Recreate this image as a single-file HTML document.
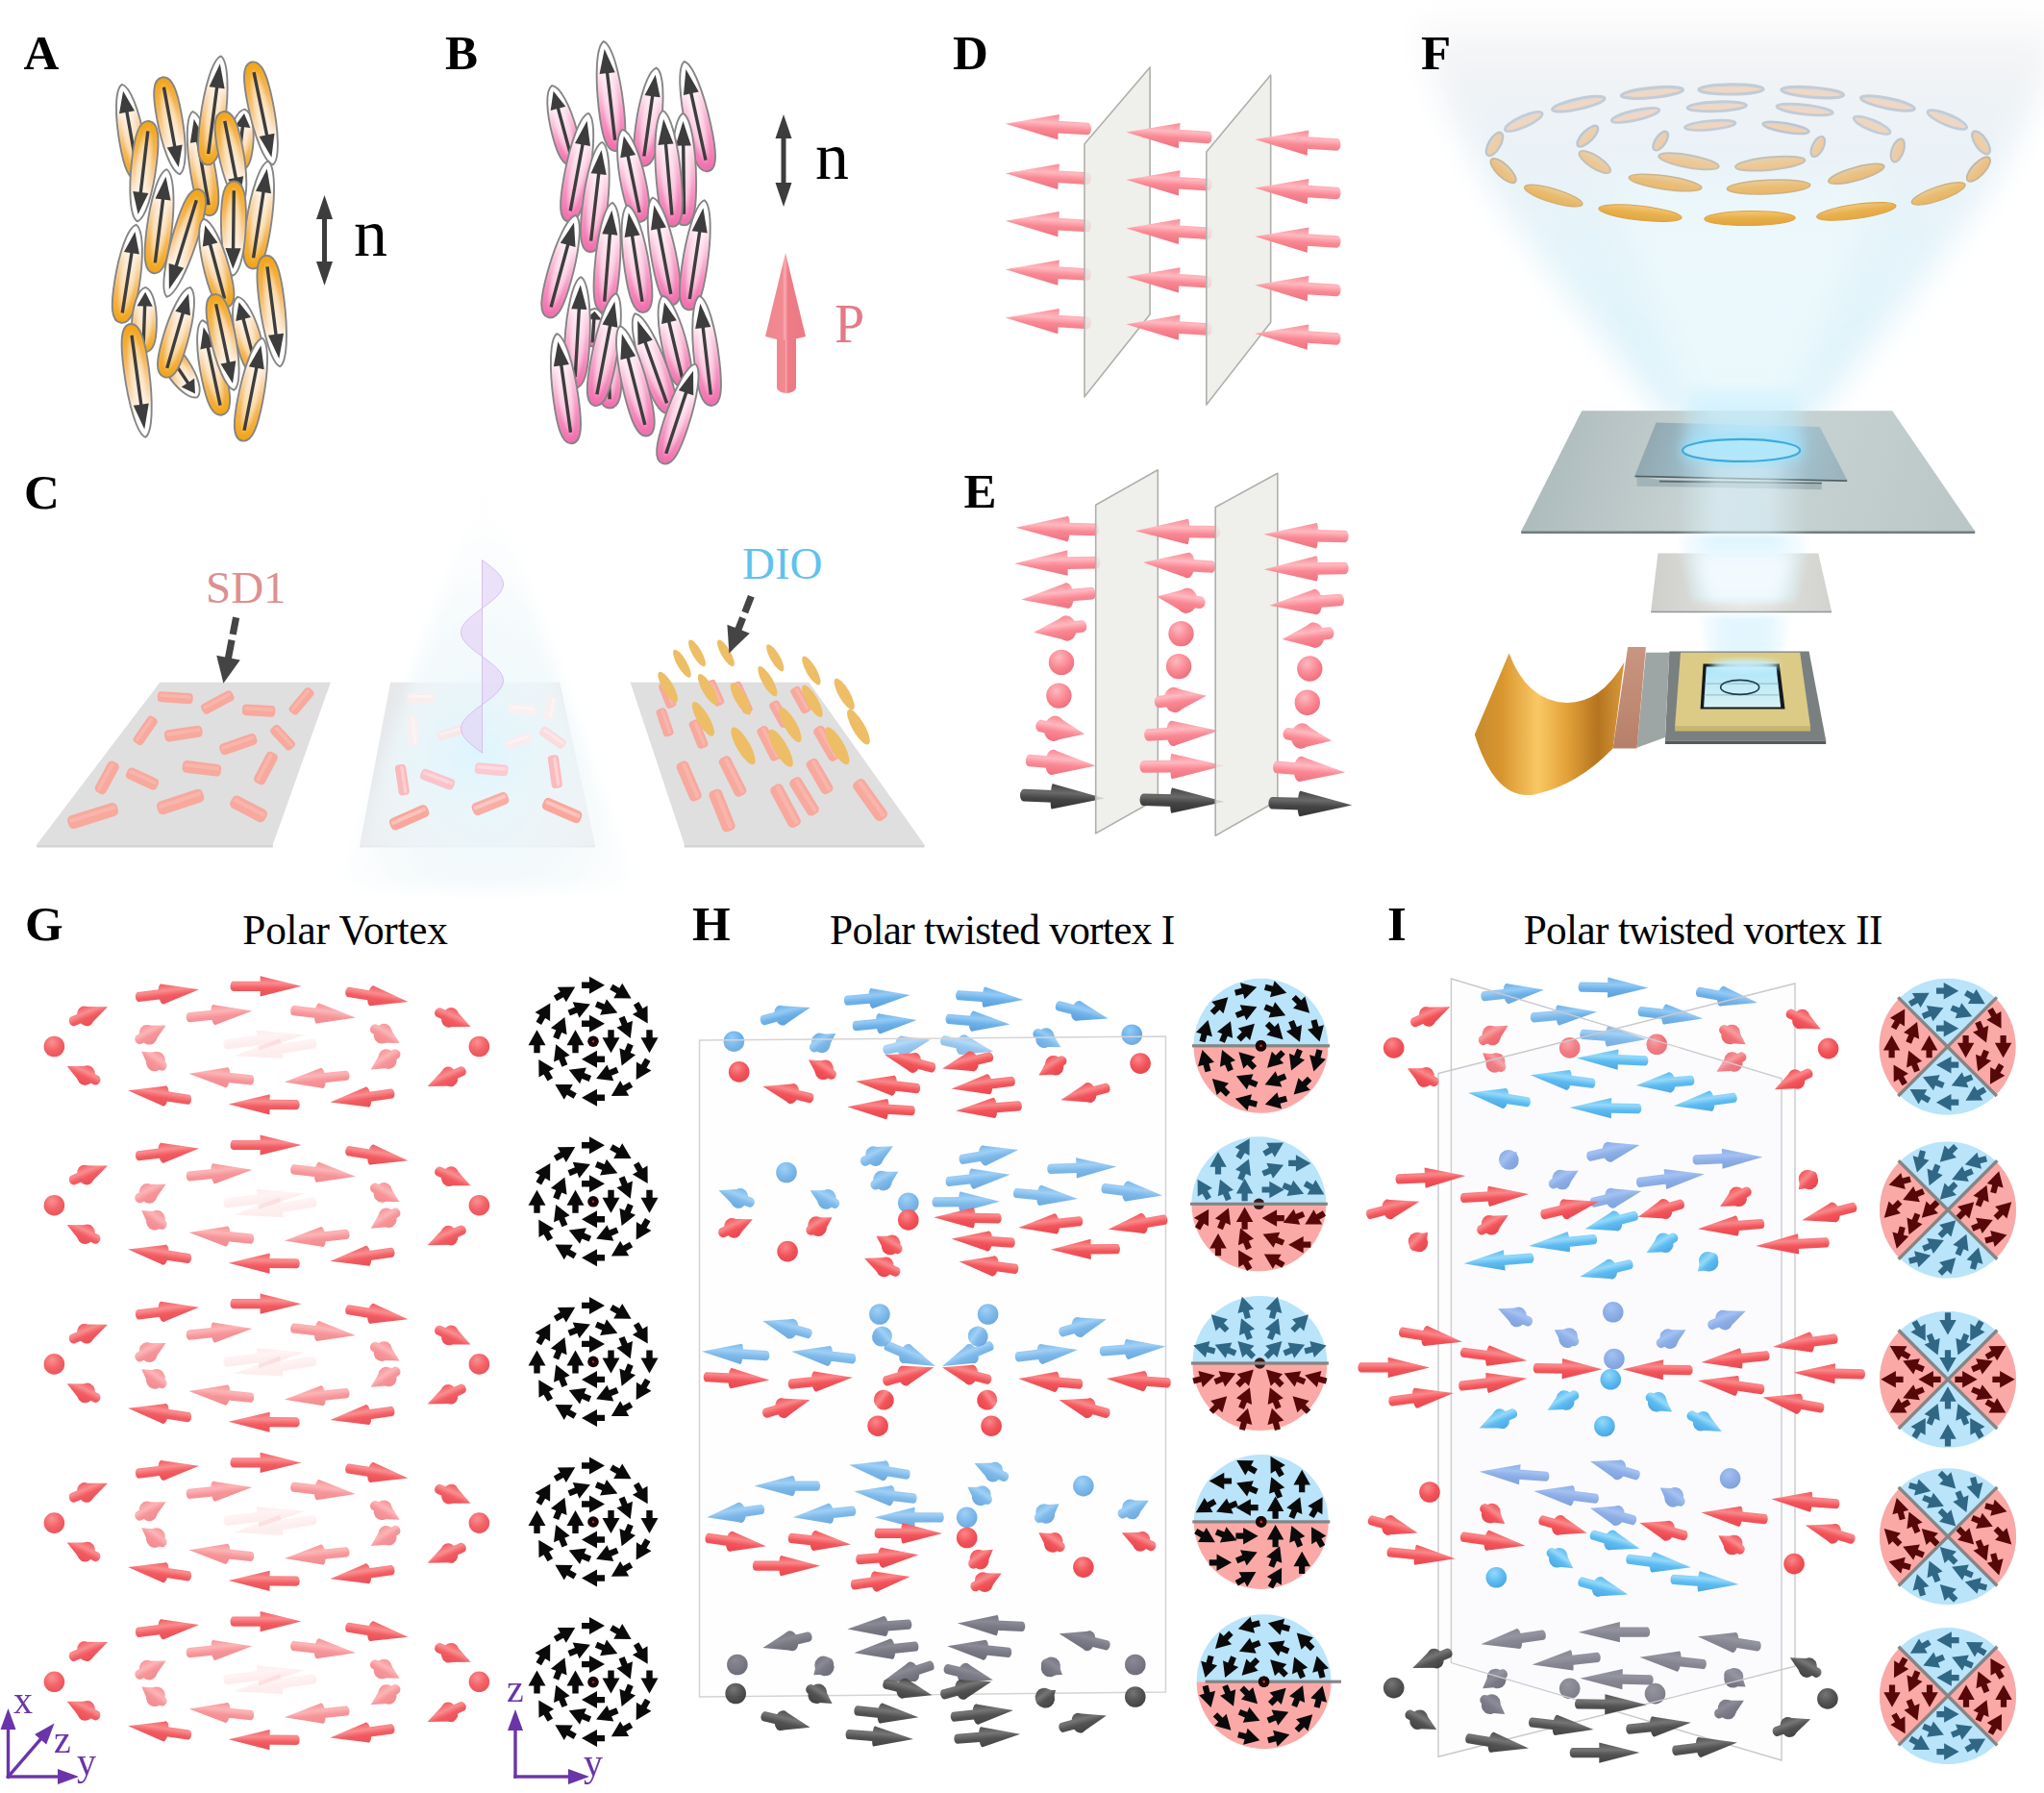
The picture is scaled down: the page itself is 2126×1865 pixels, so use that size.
<!DOCTYPE html><html><head><meta charset="utf-8"><title>Figure</title><style>html,body{margin:0;padding:0;background:#fff}svg{display:block}text{font-family:"Liberation Serif",serif}</style></head><body><svg width="2126" height="1865" viewBox="0 0 2126 1865"><defs><filter id="bl18" x="-20%" y="-20%" width="140%" height="140%"><feGaussianBlur stdDeviation="16"/></filter><filter id="bl8" x="-20%" y="-20%" width="140%" height="140%"><feGaussianBlur stdDeviation="8"/></filter><filter id="bl3" x="-20%" y="-20%" width="140%" height="140%"><feGaussianBlur stdDeviation="3"/></filter><linearGradient id="g1" gradientUnits="userSpaceOnUse" x1="0" y1="0" x2="0" y2="440"><stop offset="0" stop-color="#F3F4F6" stop-opacity="0"/><stop offset="0.14" stop-color="#F0F1F4" stop-opacity="0.85"/><stop offset="0.35" stop-color="#EAF2F7" stop-opacity="1"/><stop offset="0.6" stop-color="#E4F4FA" stop-opacity="1"/><stop offset="1" stop-color="#DDF3FB" stop-opacity="1"/></linearGradient><linearGradient id="g2" gradientUnits="userSpaceOnUse" x1="0" y1="100" x2="0" y2="440"><stop offset="0" stop-color="#EEF9FD" stop-opacity="0"/><stop offset="0.4" stop-color="#EEF9FD" stop-opacity="0.75"/><stop offset="1" stop-color="#ECF9FD" stop-opacity="0.95"/></linearGradient><linearGradient id="g3" gradientUnits="userSpaceOnUse" x1="0" y1="-6.1" x2="0" y2="6.1"><stop offset="0" stop-color="#F3C9A8"/><stop offset="0.5" stop-color="#F3CDB0"/><stop offset="1" stop-color="#C9D0DA"/></linearGradient><linearGradient id="g4" gradientUnits="userSpaceOnUse" x1="0" y1="-6.1" x2="0" y2="6.1"><stop offset="0" stop-color="#F3C9A8"/><stop offset="0.5" stop-color="#F3CDB0"/><stop offset="1" stop-color="#C9D0DA"/></linearGradient><linearGradient id="g5" gradientUnits="userSpaceOnUse" x1="0" y1="-6.1" x2="0" y2="6.1"><stop offset="0" stop-color="#F3C9A8"/><stop offset="0.5" stop-color="#F3CDB0"/><stop offset="1" stop-color="#C9D0DA"/></linearGradient><linearGradient id="g6" gradientUnits="userSpaceOnUse" x1="0" y1="-6.3" x2="0" y2="6.3"><stop offset="0" stop-color="#F3C9A8"/><stop offset="0.5" stop-color="#F3CDB0"/><stop offset="1" stop-color="#C9D0DA"/></linearGradient><linearGradient id="g7" gradientUnits="userSpaceOnUse" x1="0" y1="-6.3" x2="0" y2="6.3"><stop offset="0" stop-color="#F3C9A8"/><stop offset="0.5" stop-color="#F3CDB0"/><stop offset="1" stop-color="#C9D0DA"/></linearGradient><linearGradient id="g8" gradientUnits="userSpaceOnUse" x1="0" y1="-6.6" x2="0" y2="6.6"><stop offset="0" stop-color="#F3C9A8"/><stop offset="0.5" stop-color="#F3CCAC"/><stop offset="1" stop-color="#C9D0DA"/></linearGradient><linearGradient id="g9" gradientUnits="userSpaceOnUse" x1="0" y1="-6.7" x2="0" y2="6.7"><stop offset="0" stop-color="#F3C8A6"/><stop offset="0.5" stop-color="#F2CBAA"/><stop offset="1" stop-color="#CAD0D9"/></linearGradient><linearGradient id="g10" gradientUnits="userSpaceOnUse" x1="0" y1="-7.1" x2="0" y2="7.1"><stop offset="0" stop-color="#D3CFC6"/><stop offset="0.5" stop-color="#F0C595"/><stop offset="1" stop-color="#EEC18F"/></linearGradient><linearGradient id="g11" gradientUnits="userSpaceOnUse" x1="0" y1="-7.1" x2="0" y2="7.1"><stop offset="0" stop-color="#EEC08D"/><stop offset="0.5" stop-color="#F0C593"/><stop offset="1" stop-color="#D3CFC4"/></linearGradient><linearGradient id="g12" gradientUnits="userSpaceOnUse" x1="0" y1="-7.6" x2="0" y2="7.6"><stop offset="0" stop-color="#E9B772"/><stop offset="0.5" stop-color="#EDBD79"/><stop offset="1" stop-color="#DECEAD"/></linearGradient><linearGradient id="g13" gradientUnits="userSpaceOnUse" x1="0" y1="-7.6" x2="0" y2="7.6"><stop offset="0" stop-color="#E9B670"/><stop offset="0.5" stop-color="#EDBD77"/><stop offset="1" stop-color="#DECEAC"/></linearGradient><linearGradient id="g14" gradientUnits="userSpaceOnUse" x1="0" y1="-8.1" x2="0" y2="8.1"><stop offset="0" stop-color="#E4AE56"/><stop offset="0.5" stop-color="#EBB660"/><stop offset="1" stop-color="#E8CD97"/></linearGradient><linearGradient id="g15" gradientUnits="userSpaceOnUse" x1="0" y1="-8.1" x2="0" y2="8.1"><stop offset="0" stop-color="#E4AD54"/><stop offset="0.5" stop-color="#EAB55D"/><stop offset="1" stop-color="#E9CD95"/></linearGradient><linearGradient id="g16" gradientUnits="userSpaceOnUse" x1="0" y1="-8.4" x2="0" y2="8.4"><stop offset="0" stop-color="#E1A743"/><stop offset="0.5" stop-color="#E9B04D"/><stop offset="1" stop-color="#F0CC87"/></linearGradient><linearGradient id="g17" gradientUnits="userSpaceOnUse" x1="0" y1="-8.4" x2="0" y2="8.4"><stop offset="0" stop-color="#E0A641"/><stop offset="0.5" stop-color="#E9B04B"/><stop offset="1" stop-color="#F0CC86"/></linearGradient><linearGradient id="g18" gradientUnits="userSpaceOnUse" x1="0" y1="-8.5" x2="0" y2="8.5"><stop offset="0" stop-color="#DFA43B"/><stop offset="0.5" stop-color="#E8AE46"/><stop offset="1" stop-color="#F3CC81"/></linearGradient><linearGradient id="g19" gradientUnits="userSpaceOnUse" x1="0" y1="-5.8" x2="0" y2="5.8"><stop offset="0" stop-color="#F3C9A8"/><stop offset="0.5" stop-color="#F3CDB0"/><stop offset="1" stop-color="#C9D0DA"/></linearGradient><linearGradient id="g20" gradientUnits="userSpaceOnUse" x1="0" y1="-5.9" x2="0" y2="5.9"><stop offset="0" stop-color="#F3C9A8"/><stop offset="0.5" stop-color="#F3CDB0"/><stop offset="1" stop-color="#C9D0DA"/></linearGradient><linearGradient id="g21" gradientUnits="userSpaceOnUse" x1="0" y1="-6.1" x2="0" y2="6.1"><stop offset="0" stop-color="#F3C9A8"/><stop offset="0.5" stop-color="#F3CDB0"/><stop offset="1" stop-color="#C9D0DA"/></linearGradient><linearGradient id="g22" gradientUnits="userSpaceOnUse" x1="0" y1="-6.4" x2="0" y2="6.4"><stop offset="0" stop-color="#F2C7A2"/><stop offset="0.5" stop-color="#F2CAA6"/><stop offset="1" stop-color="#CBD0D5"/></linearGradient><linearGradient id="g23" gradientUnits="userSpaceOnUse" x1="0" y1="-6.7" x2="0" y2="6.7"><stop offset="0" stop-color="#F0C396"/><stop offset="0.5" stop-color="#F1C79B"/><stop offset="1" stop-color="#D0CFCB"/></linearGradient><linearGradient id="g24" gradientUnits="userSpaceOnUse" x1="0" y1="-7.1" x2="0" y2="7.1"><stop offset="0" stop-color="#EDBE86"/><stop offset="0.5" stop-color="#EFC38C"/><stop offset="1" stop-color="#D6CFBF"/></linearGradient><linearGradient id="g25" gradientUnits="userSpaceOnUse" x1="0" y1="-7.4" x2="0" y2="7.4"><stop offset="0" stop-color="#EBB97A"/><stop offset="0.5" stop-color="#EEBF80"/><stop offset="1" stop-color="#DBCEB4"/></linearGradient><linearGradient id="g26" gradientUnits="userSpaceOnUse" x1="0" y1="-7.8" x2="0" y2="7.8"><stop offset="0" stop-color="#E8B56C"/><stop offset="0.5" stop-color="#EDBC74"/><stop offset="1" stop-color="#E0CEA9"/></linearGradient><linearGradient id="g27" gradientUnits="userSpaceOnUse" x1="0" y1="-8" x2="0" y2="8"><stop offset="0" stop-color="#E6B263"/><stop offset="0.5" stop-color="#ECB96B"/><stop offset="1" stop-color="#E4CDA1"/></linearGradient><linearGradient id="g28" gradientUnits="userSpaceOnUse" x1="0" y1="-8.2" x2="0" y2="8.2"><stop offset="0" stop-color="#E5B05E"/><stop offset="0.5" stop-color="#EBB866"/><stop offset="1" stop-color="#E5CD9D"/></linearGradient><linearGradient id="g29" gradientUnits="userSpaceOnUse" x1="0" y1="-5.6" x2="0" y2="5.6"><stop offset="0" stop-color="#F2C7A2"/><stop offset="0.5" stop-color="#F2CAA6"/><stop offset="1" stop-color="#CBD0D5"/></linearGradient><linearGradient id="g30" gradientUnits="userSpaceOnUse" x1="0" y1="-5.7" x2="0" y2="5.7"><stop offset="0" stop-color="#F1C69F"/><stop offset="0.5" stop-color="#F2C9A4"/><stop offset="1" stop-color="#CCD0D3"/></linearGradient><linearGradient id="g31" gradientUnits="userSpaceOnUse" x1="0" y1="-6.4" x2="0" y2="6.4"><stop offset="0" stop-color="#EFC191"/><stop offset="0.5" stop-color="#F0C696"/><stop offset="1" stop-color="#D2CFC7"/></linearGradient><linearGradient id="g32" gradientUnits="userSpaceOnUse" x1="0" y1="-6.7" x2="0" y2="6.7"><stop offset="0" stop-color="#EEBF8B"/><stop offset="0.5" stop-color="#F0C490"/><stop offset="1" stop-color="#D4CFC2"/></linearGradient><linearGradient id="g33" gradientUnits="userSpaceOnUse" x1="0" y1="-7.5" x2="0" y2="7.5"><stop offset="0" stop-color="#EBBA7A"/><stop offset="0.5" stop-color="#EEBF81"/><stop offset="1" stop-color="#DACEB5"/></linearGradient><linearGradient id="g34" gradientUnits="userSpaceOnUse" x1="0" y1="-7.6" x2="0" y2="7.6"><stop offset="0" stop-color="#EAB978"/><stop offset="0.5" stop-color="#EEBF7F"/><stop offset="1" stop-color="#DBCEB3"/></linearGradient><linearGradient id="g35" gradientUnits="userSpaceOnUse" x1="1583" y1="427" x2="2054" y2="553"><stop offset="0" stop-color="#A9B7B8"/><stop offset="0.45" stop-color="#CBD5D5"/><stop offset="1" stop-color="#BAC6C6"/></linearGradient><linearGradient id="g36" gradientUnits="userSpaceOnUse" x1="1720" y1="440" x2="1920" y2="500"><stop offset="0" stop-color="#93A9B1"/><stop offset="0.5" stop-color="#A6CFE0"/><stop offset="1" stop-color="#9DB2B9"/></linearGradient><linearGradient id="g37" gradientUnits="userSpaceOnUse" x1="1745" y1="0" x2="1880" y2="0"><stop offset="0" stop-color="#D5F3FF" stop-opacity="0"/><stop offset="0.3" stop-color="#DDF5FF" stop-opacity="0.55"/><stop offset="0.7" stop-color="#DDF5FF" stop-opacity="0.55"/><stop offset="1" stop-color="#D5F3FF" stop-opacity="0"/></linearGradient><linearGradient id="g38" gradientUnits="userSpaceOnUse" x1="0" y1="395" x2="0" y2="472"><stop offset="0" stop-color="#B4EAFF" stop-opacity="0"/><stop offset="0.6" stop-color="#B0E8FF" stop-opacity="0.45"/><stop offset="1" stop-color="#96E0FF" stop-opacity="0.85"/></linearGradient><linearGradient id="g39" gradientUnits="userSpaceOnUse" x1="1720" y1="0" x2="1905" y2="0"><stop offset="0" stop-color="#CFCFCB"/><stop offset="0.5" stop-color="#E4E4E0"/><stop offset="1" stop-color="#D2D2CE"/></linearGradient><linearGradient id="g40" gradientUnits="userSpaceOnUse" x1="1742" y1="0" x2="1885" y2="0"><stop offset="0" stop-color="#D8F3FD" stop-opacity="0"/><stop offset="0.3" stop-color="#DDF5FE" stop-opacity="0.95"/><stop offset="0.7" stop-color="#DDF5FE" stop-opacity="0.95"/><stop offset="1" stop-color="#D8F3FD" stop-opacity="0"/></linearGradient><linearGradient id="g41" gradientUnits="userSpaceOnUse" x1="1765" y1="0" x2="1865" y2="0"><stop offset="0" stop-color="#D8F3FD" stop-opacity="0"/><stop offset="0.3" stop-color="#E2F6FE" stop-opacity="0.95"/><stop offset="0.7" stop-color="#E2F6FE" stop-opacity="0.95"/><stop offset="1" stop-color="#D8F3FD" stop-opacity="0"/></linearGradient><linearGradient id="g42" gradientUnits="userSpaceOnUse" x1="0" y1="694" x2="0" y2="737"><stop offset="0" stop-color="#AEE6FA"/><stop offset="1" stop-color="#D9F2F6"/></linearGradient><linearGradient id="g43" gradientUnits="userSpaceOnUse" x1="0" y1="673" x2="0" y2="780"><stop offset="0" stop-color="#C99681"/><stop offset="1" stop-color="#B77F6A"/></linearGradient><linearGradient id="g44" gradientUnits="userSpaceOnUse" x1="1534" y1="0" x2="1690" y2="0"><stop offset="0" stop-color="#C68A2C"/><stop offset="0.18" stop-color="#D9962F"/><stop offset="0.42" stop-color="#F9C864"/><stop offset="0.62" stop-color="#E2A038"/><stop offset="0.82" stop-color="#B5741F"/><stop offset="1" stop-color="#D99A3C"/></linearGradient><radialGradient id="mg_in"><stop offset="0" stop-color="#fff" stop-opacity="0.6"/><stop offset="0.6" stop-color="#fff" stop-opacity="0.45"/><stop offset="1" stop-color="#fff" stop-opacity="0"/></radialGradient><linearGradient id="mg_o" gradientUnits="objectBoundingBox" x1="0" y1="0" x2="1" y2="0"><stop offset="0" stop-color="#F2A414"/><stop offset="0.3" stop-color="#F5B655"/><stop offset="0.62" stop-color="#FADCB8"/><stop offset="0.8" stop-color="#fff"/><stop offset="1" stop-color="#fff"/></linearGradient><linearGradient id="mg_p" gradientUnits="objectBoundingBox" x1="0" y1="0" x2="1" y2="0"><stop offset="0" stop-color="#F06CAC"/><stop offset="0.3" stop-color="#F694C2"/><stop offset="0.62" stop-color="#FCD2E4"/><stop offset="0.8" stop-color="#fff"/><stop offset="1" stop-color="#fff"/></linearGradient><linearGradient id="pg1" x1="0" y1="0" x2="1" y2="0"><stop offset="0" stop-color="#F0868E"/><stop offset="0.42" stop-color="#F28A92"/><stop offset="0.49" stop-color="#F9AAB0"/><stop offset="0.56" stop-color="#EE7C86"/><stop offset="1" stop-color="#EC7A84"/></linearGradient><radialGradient id="g45" gradientUnits="objectBoundingBox" cx="0.5" cy="0.7" r="0.6" ><stop offset="0" stop-color="#E8F8FD" stop-opacity="0.95"/><stop offset="0.55" stop-color="#F0F8FB" stop-opacity="0.7"/><stop offset="1" stop-color="#F6F9FA" stop-opacity="0.1"/></radialGradient><radialGradient id="g46" gradientUnits="objectBoundingBox" cx="0.5" cy="0.5" r="0.5" ><stop offset="0" stop-color="#DDF4FD" stop-opacity="0.9"/><stop offset="1" stop-color="#E8F6FB" stop-opacity="0"/></radialGradient><linearGradient id="ag_pink_132f" gradientUnits="userSpaceOnUse" x1="0" y1="13.2" x2="0" y2="-13.2"><stop offset="0" stop-color="#F98893"/><stop offset="0.35" stop-color="#FFB9C0"/><stop offset="0.6" stop-color="#F98893"/><stop offset="1" stop-color="#F0707E"/></linearGradient><radialGradient id="bg_pink" gradientUnits="objectBoundingBox" cx="0.4" cy="0.3" r="0.7" ><stop offset="0" stop-color="#FFB9C0"/><stop offset="0.6" stop-color="#F98893"/><stop offset="1" stop-color="#F0707E"/></radialGradient><linearGradient id="ag_pink_132" gradientUnits="userSpaceOnUse" x1="0" y1="-13.2" x2="0" y2="13.2"><stop offset="0" stop-color="#F98893"/><stop offset="0.35" stop-color="#FFB9C0"/><stop offset="0.6" stop-color="#F98893"/><stop offset="1" stop-color="#F0707E"/></linearGradient><linearGradient id="ag_dark_132" gradientUnits="userSpaceOnUse" x1="0" y1="-13.2" x2="0" y2="13.2"><stop offset="0" stop-color="#444444"/><stop offset="0.35" stop-color="#6A6A6A"/><stop offset="0.6" stop-color="#444444"/><stop offset="1" stop-color="#333333"/></linearGradient><path id="ba" d="M-12 -3.2H-4V-9L12 0L-4 9V3.2H-12Z"/><filter id="soft" x="-5%" y="-5%" width="110%" height="110%"><feGaussianBlur stdDeviation="0.7"/></filter><linearGradient id="ag_red_106" gradientUnits="userSpaceOnUse" x1="0" y1="-10.6" x2="0" y2="10.6"><stop offset="0" stop-color="#F2545A"/><stop offset="0.35" stop-color="#F9888A"/><stop offset="0.6" stop-color="#F2545A"/><stop offset="1" stop-color="#EA464E"/></linearGradient><linearGradient id="ag_red_106f" gradientUnits="userSpaceOnUse" x1="0" y1="10.6" x2="0" y2="-10.6"><stop offset="0" stop-color="#F2545A"/><stop offset="0.35" stop-color="#F9888A"/><stop offset="0.6" stop-color="#F2545A"/><stop offset="1" stop-color="#EA464E"/></linearGradient><radialGradient id="bg_red" gradientUnits="objectBoundingBox" cx="0.4" cy="0.3" r="0.7" ><stop offset="0" stop-color="#F9888A"/><stop offset="0.6" stop-color="#F2545A"/><stop offset="1" stop-color="#EA464E"/></radialGradient><linearGradient id="ag_blue_106" gradientUnits="userSpaceOnUse" x1="0" y1="-10.6" x2="0" y2="10.6"><stop offset="0" stop-color="#58A6E6"/><stop offset="0.35" stop-color="#86C4F4"/><stop offset="0.6" stop-color="#58A6E6"/><stop offset="1" stop-color="#4892D6"/></linearGradient><radialGradient id="bg_blue" gradientUnits="objectBoundingBox" cx="0.4" cy="0.3" r="0.7" ><stop offset="0" stop-color="#86C4F4"/><stop offset="0.6" stop-color="#58A6E6"/><stop offset="1" stop-color="#4892D6"/></radialGradient><linearGradient id="ag_blue_106f" gradientUnits="userSpaceOnUse" x1="0" y1="10.6" x2="0" y2="-10.6"><stop offset="0" stop-color="#58A6E6"/><stop offset="0.35" stop-color="#86C4F4"/><stop offset="0.6" stop-color="#58A6E6"/><stop offset="1" stop-color="#4892D6"/></linearGradient><linearGradient id="ag_gray_106f" gradientUnits="userSpaceOnUse" x1="0" y1="10.6" x2="0" y2="-10.6"><stop offset="0" stop-color="#60606E"/><stop offset="0.35" stop-color="#747482"/><stop offset="0.6" stop-color="#60606E"/><stop offset="1" stop-color="#525262"/></linearGradient><linearGradient id="ag_gray_106" gradientUnits="userSpaceOnUse" x1="0" y1="-10.6" x2="0" y2="10.6"><stop offset="0" stop-color="#60606E"/><stop offset="0.35" stop-color="#747482"/><stop offset="0.6" stop-color="#60606E"/><stop offset="1" stop-color="#525262"/></linearGradient><radialGradient id="bg_gray" gradientUnits="objectBoundingBox" cx="0.4" cy="0.3" r="0.7" ><stop offset="0" stop-color="#747482"/><stop offset="0.6" stop-color="#60606E"/><stop offset="1" stop-color="#525262"/></radialGradient><linearGradient id="ag_dark_106" gradientUnits="userSpaceOnUse" x1="0" y1="-10.6" x2="0" y2="10.6"><stop offset="0" stop-color="#444444"/><stop offset="0.35" stop-color="#6A6A6A"/><stop offset="0.6" stop-color="#444444"/><stop offset="1" stop-color="#333333"/></linearGradient><radialGradient id="bg_dark" gradientUnits="objectBoundingBox" cx="0.4" cy="0.3" r="0.7" ><stop offset="0" stop-color="#6A6A6A"/><stop offset="0.6" stop-color="#444444"/><stop offset="1" stop-color="#333333"/></radialGradient><linearGradient id="ag_fblue_106" gradientUnits="userSpaceOnUse" x1="0" y1="-10.6" x2="0" y2="10.6"><stop offset="0" stop-color="#6896E0"/><stop offset="0.35" stop-color="#88B0F0"/><stop offset="0.6" stop-color="#6896E0"/><stop offset="1" stop-color="#5886D4"/></linearGradient><linearGradient id="ag_fblue_106f" gradientUnits="userSpaceOnUse" x1="0" y1="10.6" x2="0" y2="-10.6"><stop offset="0" stop-color="#6896E0"/><stop offset="0.35" stop-color="#88B0F0"/><stop offset="0.6" stop-color="#6896E0"/><stop offset="1" stop-color="#5886D4"/></linearGradient><radialGradient id="bg_fblue" gradientUnits="objectBoundingBox" cx="0.4" cy="0.3" r="0.7" ><stop offset="0" stop-color="#88B0F0"/><stop offset="0.6" stop-color="#6896E0"/><stop offset="1" stop-color="#5886D4"/></radialGradient><linearGradient id="ag_cyan_106f" gradientUnits="userSpaceOnUse" x1="0" y1="10.6" x2="0" y2="-10.6"><stop offset="0" stop-color="#4FB6F0"/><stop offset="0.35" stop-color="#8CD6FA"/><stop offset="0.6" stop-color="#4FB6F0"/><stop offset="1" stop-color="#3FA0E0"/></linearGradient><linearGradient id="ag_cyan_106" gradientUnits="userSpaceOnUse" x1="0" y1="-10.6" x2="0" y2="10.6"><stop offset="0" stop-color="#4FB6F0"/><stop offset="0.35" stop-color="#8CD6FA"/><stop offset="0.6" stop-color="#4FB6F0"/><stop offset="1" stop-color="#3FA0E0"/></linearGradient><radialGradient id="bg_cyan" gradientUnits="objectBoundingBox" cx="0.4" cy="0.3" r="0.7" ><stop offset="0" stop-color="#8CD6FA"/><stop offset="0.6" stop-color="#4FB6F0"/><stop offset="1" stop-color="#3FA0E0"/></radialGradient><linearGradient id="ag_dark_106f" gradientUnits="userSpaceOnUse" x1="0" y1="10.6" x2="0" y2="-10.6"><stop offset="0" stop-color="#444444"/><stop offset="0.35" stop-color="#6A6A6A"/><stop offset="0.6" stop-color="#444444"/><stop offset="1" stop-color="#333333"/></linearGradient></defs><rect width="2126" height="1865" fill="#fff"/><polygon points="1738,440 1882,440 1995,300 2068,200 2122,100 2150,15 1470,15 1498,100 1552,200 1625,300" fill="url(#g1)" filter="url(#bl18)"/>
<polygon points="1760,440 1860,440 1960,180 1670,180" fill="url(#g2)" filter="url(#bl18)"/>
<text x="1478" y="72" font-size="51" fill="#000" font-weight="bold" text-anchor="start" >F</text>
<ellipse transform="translate(1800.5,92.9) rotate(179.6)" rx="33.6" ry="5.1" fill="url(#g3)" stroke="#AFBCCB" stroke-width="3.2" opacity="0.7"/>
<ellipse transform="translate(1885.2,96.1) rotate(-175.3)" rx="32.5" ry="5.1" fill="url(#g4)" stroke="#AFBCCB" stroke-width="3.2" opacity="0.7"/>
<ellipse transform="translate(1718.4,96.4) rotate(174.5)" rx="32.2" ry="5.1" fill="url(#g5)" stroke="#AFBCCB" stroke-width="3.2" opacity="0.7"/>
<ellipse transform="translate(1963.4,107.5) rotate(-168.6)" rx="28.5" ry="5.3" fill="url(#g6)" stroke="#AFBCCB" stroke-width="3" opacity="0.7"/>
<ellipse transform="translate(1641.8,108.2) rotate(167.7)" rx="27.9" ry="5.3" fill="url(#g7)" stroke="#AFBCCB" stroke-width="3" opacity="0.7"/>
<ellipse transform="translate(2025.3,124.5) rotate(-157.4)" rx="21.9" ry="5.6" fill="url(#g8)" stroke="#AFBCCB" stroke-width="2.7" opacity="0.7"/>
<ellipse transform="translate(1584.8,126.4) rotate(155.7)" rx="21.1" ry="5.7" fill="url(#g9)" stroke="#AFBCCB" stroke-width="2.7" opacity="0.7"/>
<ellipse transform="translate(2060.5,148.3) rotate(55.6)" rx="13.9" ry="6.1" fill="url(#g10)" stroke="#B1BBC4" stroke-width="2.3" opacity="0.8"/>
<ellipse transform="translate(1554.5,149.9) rotate(120.4)" rx="13.6" ry="6.1" fill="url(#g11)" stroke="#B2BAC2" stroke-width="2.3" opacity="0.8"/>
<ellipse transform="translate(2057.9,176) rotate(133.2)" rx="16.3" ry="6.6" fill="url(#g12)" stroke="#C0B196" stroke-width="1.9" opacity="0.9"/>
<ellipse transform="translate(1563.6,177.6) rotate(-136.6)" rx="17" ry="6.6" fill="url(#g13)" stroke="#C1B194" stroke-width="1.8" opacity="0.9"/>
<ellipse transform="translate(2016.2,201.4) rotate(161.1)" rx="29.3" ry="7.1" fill="url(#g14)" stroke="#CEA96C" stroke-width="1.4" opacity="0.9"/>
<ellipse transform="translate(1615.8,203.6) rotate(-163.3)" rx="31.4" ry="7.1" fill="url(#g15)" stroke="#D0A868" stroke-width="1.4" opacity="0.9"/>
<ellipse transform="translate(1930.8,219.9) rotate(172.1)" rx="41.6" ry="7.4" fill="url(#g16)" stroke="#D9A34D" stroke-width="1.1" opacity="1"/>
<ellipse transform="translate(1706,221.6) rotate(-173.6)" rx="43.4" ry="7.4" fill="url(#g17)" stroke="#D9A24B" stroke-width="1.1" opacity="1"/>
<ellipse transform="translate(1820.1,227.1) rotate(179.3)" rx="47.3" ry="7.5" fill="url(#g18)" stroke="#DDA041" stroke-width="1" opacity="1"/>
<ellipse transform="translate(1785.8,110.8) rotate(177.5)" rx="30.8" ry="4.8" fill="url(#g19)" stroke="#AFBCCB" stroke-width="2.9" opacity="0.7"/>
<ellipse transform="translate(1877.1,114) rotate(-173.6)" rx="29.3" ry="4.9" fill="url(#g20)" stroke="#AFBCCB" stroke-width="2.9" opacity="0.7"/>
<ellipse transform="translate(1701.1,119.9) rotate(167.1)" rx="25.4" ry="5.1" fill="url(#g21)" stroke="#AFBCCB" stroke-width="2.8" opacity="0.7"/>
<ellipse transform="translate(1947.1,130.3) rotate(-157.8)" rx="20.4" ry="5.4" fill="url(#g22)" stroke="#AFBCCB" stroke-width="2.6" opacity="0.7"/>
<ellipse transform="translate(1651.3,141.7) rotate(134.8)" rx="14.2" ry="5.7" fill="url(#g23)" stroke="#AFBCCB" stroke-width="2.4" opacity="0.8"/>
<ellipse transform="translate(1973.8,156.4) rotate(109.8)" rx="12.5" ry="6.1" fill="url(#g24)" stroke="#B6B8B7" stroke-width="2.2" opacity="0.8"/>
<ellipse transform="translate(1658.8,168.5) rotate(-147.1)" rx="18.9" ry="6.4" fill="url(#g25)" stroke="#BCB4A3" stroke-width="2" opacity="0.8"/>
<ellipse transform="translate(1930.8,180.8) rotate(164.4)" rx="30" ry="6.8" fill="url(#g26)" stroke="#C3B08E" stroke-width="1.8" opacity="0.9"/>
<ellipse transform="translate(1732.1,190) rotate(-171.8)" rx="38.2" ry="7" fill="url(#g27)" stroke="#C8AD7F" stroke-width="1.6" opacity="0.9"/>
<ellipse transform="translate(1839.6,194.5) rotate(177.5)" rx="43.3" ry="7.2" fill="url(#g28)" stroke="#CBAB78" stroke-width="1.5" opacity="0.9"/>
<ellipse transform="translate(1778.7,130.3) rotate(174.7)" rx="26.5" ry="4.6" fill="url(#g29)" stroke="#AFBCCB" stroke-width="2.6" opacity="0.7"/>
<ellipse transform="translate(1857.5,132.9) rotate(-170.3)" rx="24.2" ry="4.7" fill="url(#g30)" stroke="#AFBCCB" stroke-width="2.6" opacity="0.8"/>
<ellipse transform="translate(1727.2,146.6) rotate(124.4)" rx="11.3" ry="5.4" fill="url(#g31)" stroke="#B0BBC7" stroke-width="2.3" opacity="0.8"/>
<ellipse transform="translate(1890.8,152.5) rotate(116.9)" rx="11.4" ry="5.7" fill="url(#g32)" stroke="#B4B9BD" stroke-width="2.2" opacity="0.8"/>
<ellipse transform="translate(1756.5,167.8) rotate(-169.9)" rx="31.7" ry="6.5" fill="url(#g33)" stroke="#BCB4A4" stroke-width="2" opacity="0.8"/>
<ellipse transform="translate(1841.2,170.1) rotate(174.5)" rx="36.4" ry="6.6" fill="url(#g34)" stroke="#BDB3A0" stroke-width="2" opacity="0.8"/>
<polygon points="1582.2,555 2054.2,555 2054.2,552 1582.2,552" fill="#6F7E80" />
<polygon points="1645.3,427.3 1968.2,427.3 2054.2,552.6 1582.2,552.6" fill="url(#g35)" />
<polygon points="1727.5,444 1894.8,444 1894.8,503.3 1727.5,503.3" fill="#9FB2B8" opacity="0.0"/>
<polygon points="1726,498.9 1894.8,501.3 1894.8,509.2 1702.5,505.7 1702.5,495.4" fill="#A3B4B8" />
<polygon points="1726,499.8 1894.8,502.1 1894.8,503.3 1726,501.6" fill="#56676B" />
<polygon points="1722.5,439.6 1892.7,444 1921.2,499.2 1700.5,494.5" fill="url(#g36)" />
<polygon points="1700.5,494.5 1921.2,499.2 1921.2,501 1700.5,496.3" fill="#4F6166" />
<rect x="1740" y="405" width="145" height="150" fill="url(#g37)" filter="url(#bl3)"/>
<rect x="1756" y="395" width="116" height="77" fill="url(#g38)" filter="url(#bl8)"/>
<ellipse cx="1811.1" cy="468.4" rx="64" ry="13" fill="#9EE4FF" opacity="0.9" filter="url(#bl8)"/>
<ellipse cx="1811.1" cy="468.4" rx="61" ry="11.5" fill="#BDE9FA" fill-opacity="0.6" stroke="#3FA9DB" stroke-width="2.2"/>
<polygon points="1717.2,637.2 1905,637.2 1905,634.8 1717.2,634.8" fill="#8E9696" />
<polygon points="1724.5,575.5 1891.3,575.5 1905,635.7 1717.2,635.7" fill="url(#g39)" />
<polygon points="1742,556 1885,556 1868,625 1760,625" fill="url(#g40)" filter="url(#bl3)"/>
<polygon points="1760,575 1868,575 1850,625 1778,625" fill="#F4FBFE" opacity="0.9" filter="url(#bl8)"/>
<polygon points="1765,640 1865,640 1850,690 1778,690" fill="url(#g41)" filter="url(#bl3)"/>
<polygon points="1736.3,677.4 1881.6,677.4 1899.2,770.4 1731.9,770.4" fill="#7A8080" />
<polygon points="1731.9,770.4 1899.2,770.4 1899.2,773.9 1731.9,773.9" fill="#555a5a" />
<polygon points="1748,678.8 1872.2,678.8 1883,755.7 1742.1,755.7" fill="#DCCB86" />
<polygon points="1742.1,755.7 1883,755.7 1883,760.4 1742.1,760.4" fill="#C9B66C" />
<polygon points="1771.5,690.6 1850.7,690.6 1856.6,737.5 1768.6,737.5" fill="#15191b" />
<polygon points="1774.7,693.5 1847.5,693.5 1852.2,735.5 1772.1,735.5" fill="url(#g42)" />
<line x1="1773" y1="711.1" x2="1849.9" y2="711.1" stroke="#8aa" stroke-width="0.8"/>
<line x1="1772.4" y1="722.9" x2="1851" y2="722.9" stroke="#8aa" stroke-width="0.8"/>
<ellipse cx="1809.7" cy="714.9" rx="20" ry="7.5" fill="none" stroke="#1F3D4D" stroke-width="1.6"/>
<ellipse cx="1815" cy="692" rx="36" ry="6" fill="#C9F1FF" filter="url(#bl3)"/>
<polygon points="1711.9,678.8 1736.3,678.8 1731.9,766.9 1702.5,777.8" fill="#9EA5A5" />
<polygon points="1693.1,673 1711.9,673 1702.5,778.6 1677.6,778.6" fill="url(#g43)" />
<path d="M1569.6 679.4 Q1588.1 728.7 1629.1 731.1 Q1664.4 731.7 1689.3 689.1 L1677.6 778.6 Q1640.9 816.8 1596.9 826.2 Q1555.8 834.4 1533.8 764Z" fill="url(#g44)"/>
<g transform="translate(250.8,145.5) rotate(-83.4)"><path d="M-32.1 0C-32.1 -11 -20.9 -13 -6.4 -13C12.8 -13 29.9 -8.1 32.1 0C29.9 8.1 12.8 13 -6.4 13C-20.9 13 -32.1 11 -32.1 0Z" fill="url(#mg_o)" stroke="#858585" stroke-width="1.9"/><ellipse cx="-3.2" rx="25.7" ry="9.4" fill="url(#mg_in)"/><path d="M-25.7 -1.7H13.5V-8.1L27.6 0L13.5 8.1V1.7H-25.7Z" fill="#3d3d3d"/></g>
<g transform="translate(209.7,170.1) rotate(-99.7)"><path d="M-54.8 0C-54.8 -11 -35.6 -13 -11 -13C21.9 -13 50.9 -8.1 54.8 0C50.9 8.1 21.9 13 -11 13C-35.6 13 -54.8 11 -54.8 0Z" fill="url(#mg_o)" stroke="#858585" stroke-width="1.9"/><ellipse cx="-5.5" rx="43.8" ry="9.4" fill="url(#mg_in)"/><path d="M-43.8 -1.7H23V-8.1L47.1 0L23 8.1V1.7H-43.8Z" fill="#3d3d3d"/></g>
<g transform="translate(135.7,137.6) rotate(-100.1)"><path d="M-50.5 0C-50.5 -11 -32.8 -13 -10.1 -13C20.2 -13 47 -8.1 50.5 0C47 8.1 20.2 13 -10.1 13C-32.8 13 -50.5 11 -50.5 0Z" fill="url(#mg_o)" stroke="#858585" stroke-width="1.9"/><ellipse cx="-5" rx="40.4" ry="9.4" fill="url(#mg_in)"/><path d="M-40.4 -1.7H21.2V-8.1L43.4 0L21.2 8.1V1.7H-40.4Z" fill="#3d3d3d"/></g>
<g transform="translate(177.8,130.8) rotate(79.6)"><path d="M-51.2 0C-51.2 -11 -33.3 -13 -10.2 -13C20.5 -13 47.6 -8.1 51.2 0C47.6 8.1 20.5 13 -10.2 13C-33.3 13 -51.2 11 -51.2 0Z" fill="url(#mg_o)" stroke="#858585" stroke-width="1.9"/><ellipse cx="-5.1" rx="40.9" ry="9.4" fill="url(#mg_in)"/><path d="M-40.9 -1.7H21.5V-8.1L44 0L21.5 8.1V1.7H-40.9Z" fill="#3d3d3d"/></g>
<g transform="translate(222.5,114.9) rotate(-82.6)"><path d="M-56.9 0C-56.9 -11 -37 -13 -11.4 -13C22.8 -13 52.9 -8.1 56.9 0C52.9 8.1 22.8 13 -11.4 13C-37 13 -56.9 11 -56.9 0Z" fill="url(#mg_o)" stroke="#858585" stroke-width="1.9"/><ellipse cx="-5.7" rx="45.5" ry="9.4" fill="url(#mg_in)"/><path d="M-45.5 -1.7H23.9V-8.1L49 0L23.9 8.1V1.7H-45.5Z" fill="#3d3d3d"/></g>
<g transform="translate(272.9,117.9) rotate(78.3)"><path d="M-54.5 0C-54.5 -11 -35.4 -13 -10.9 -13C21.8 -13 50.7 -8.1 54.5 0C50.7 8.1 21.8 13 -10.9 13C-35.4 13 -54.5 11 -54.5 0Z" fill="url(#mg_o)" stroke="#858585" stroke-width="1.9"/><ellipse cx="-5.5" rx="43.6" ry="9.4" fill="url(#mg_in)"/><path d="M-43.6 -1.7H22.9V-8.1L46.9 0L22.9 8.1V1.7H-43.6Z" fill="#3d3d3d"/></g>
<g transform="translate(241.3,164.6) rotate(79)"><path d="M-49.4 0C-49.4 -11 -32.1 -13 -9.9 -13C19.8 -13 45.9 -8.1 49.4 0C45.9 8.1 19.8 13 -9.9 13C-32.1 13 -49.4 11 -49.4 0Z" fill="url(#mg_o)" stroke="#858585" stroke-width="1.9"/><ellipse cx="-4.9" rx="39.5" ry="9.4" fill="url(#mg_in)"/><path d="M-39.5 -1.7H20.7V-8.1L42.5 0L20.7 8.1V1.7H-39.5Z" fill="#3d3d3d"/></g>
<g transform="translate(148.9,178.1) rotate(96.7)"><path d="M-52.5 0C-52.5 -11 -34.1 -13 -10.5 -13C21 -13 48.8 -8.1 52.5 0C48.8 8.1 21 13 -10.5 13C-34.1 13 -52.5 11 -52.5 0Z" fill="url(#mg_o)" stroke="#858585" stroke-width="1.9"/><ellipse cx="-5.3" rx="42" ry="9.4" fill="url(#mg_in)"/><path d="M-42 -1.7H22.1V-8.1L45.2 0L22.1 8.1V1.7H-42Z" fill="#3d3d3d"/></g>
<g transform="translate(166.7,230.2) rotate(-82.9)"><path d="M-54.4 0C-54.4 -11 -35.4 -13 -10.9 -13C21.8 -13 50.6 -8.1 54.4 0C50.6 8.1 21.8 13 -10.9 13C-35.4 13 -54.4 11 -54.4 0Z" fill="url(#mg_o)" stroke="#858585" stroke-width="1.9"/><ellipse cx="-5.4" rx="43.5" ry="9.4" fill="url(#mg_in)"/><path d="M-43.5 -1.7H22.9V-8.1L46.8 0L22.9 8.1V1.7H-43.5Z" fill="#3d3d3d"/></g>
<g transform="translate(270.4,223.5) rotate(-81.3)"><path d="M-56.5 0C-56.5 -11 -36.7 -13 -11.3 -13C22.6 -13 52.5 -8.1 56.5 0C52.5 8.1 22.6 13 -11.3 13C-36.7 13 -56.5 11 -56.5 0Z" fill="url(#mg_o)" stroke="#858585" stroke-width="1.9"/><ellipse cx="-5.6" rx="45.2" ry="9.4" fill="url(#mg_in)"/><path d="M-45.2 -1.7H23.7V-8.1L48.6 0L23.7 8.1V1.7H-45.2Z" fill="#3d3d3d"/></g>
<g transform="translate(242.8,237.6) rotate(90.7)"><path d="M-49.1 0C-49.1 -11 -31.9 -13 -9.8 -13C19.6 -13 45.7 -8.1 49.1 0C45.7 8.1 19.6 13 -9.8 13C-31.9 13 -49.1 11 -49.1 0Z" fill="url(#mg_o)" stroke="#858585" stroke-width="1.9"/><ellipse cx="-4.9" rx="39.3" ry="9.4" fill="url(#mg_in)"/><path d="M-39.3 -1.7H20.6V-8.1L42.2 0L20.6 8.1V1.7H-39.3Z" fill="#3d3d3d"/></g>
<g transform="translate(190.6,252.9) rotate(107.1)"><path d="M-58.4 0C-58.4 -11 -38 -13 -11.7 -13C23.4 -13 54.3 -8.1 58.4 0C54.3 8.1 23.4 13 -11.7 13C-38 13 -58.4 11 -58.4 0Z" fill="url(#mg_o)" stroke="#858585" stroke-width="1.9"/><ellipse cx="-5.8" rx="46.7" ry="9.4" fill="url(#mg_in)"/><path d="M-46.7 -1.7H24.5V-8.1L50.2 0L24.5 8.1V1.7H-46.7Z" fill="#3d3d3d"/></g>
<g transform="translate(223.8,273.8) rotate(-104.9)"><path d="M-47.6 0C-47.6 -11 -31 -13 -9.5 -13C19.1 -13 44.3 -8.1 47.6 0C44.3 8.1 19.1 13 -9.5 13C-31 13 -47.6 11 -47.6 0Z" fill="url(#mg_o)" stroke="#858585" stroke-width="1.9"/><ellipse cx="-4.8" rx="38.1" ry="9.4" fill="url(#mg_in)"/><path d="M-38.1 -1.7H20V-8.1L41 0L20 8.1V1.7H-38.1Z" fill="#3d3d3d"/></g>
<g transform="translate(133.6,284.8) rotate(-81.1)"><path d="M-51.6 0C-51.6 -11 -33.5 -13 -10.3 -13C20.6 -13 47.9 -8.1 51.6 0C47.9 8.1 20.6 13 -10.3 13C-33.5 13 -51.6 11 -51.6 0Z" fill="url(#mg_o)" stroke="#858585" stroke-width="1.9"/><ellipse cx="-5.2" rx="41.2" ry="9.4" fill="url(#mg_in)"/><path d="M-41.2 -1.7H21.7V-8.1L44.3 0L21.7 8.1V1.7H-41.2Z" fill="#3d3d3d"/></g>
<g transform="translate(150.1,332.7) rotate(-87.9)"><path d="M-33.8 0C-33.8 -11 -22 -13 -6.8 -13C13.5 -13 31.4 -8.1 33.8 0C31.4 8.1 13.5 13 -6.8 13C-22 13 -33.8 11 -33.8 0Z" fill="url(#mg_o)" stroke="#858585" stroke-width="1.9"/><ellipse cx="-3.4" rx="27" ry="9.4" fill="url(#mg_in)"/><path d="M-27 -1.7H14.2V-8.1L29 0L14.2 8.1V1.7H-27Z" fill="#3d3d3d"/></g>
<g transform="translate(188.2,387.3) rotate(56.3)"><path d="M-31 0C-31 -11 -20.1 -13 -6.2 -13C12.4 -13 28.8 -8.1 31 0C28.8 8.1 12.4 13 -6.2 13C-20.1 13 -31 11 -31 0Z" fill="url(#mg_o)" stroke="#858585" stroke-width="1.9"/><ellipse cx="-3.1" rx="24.8" ry="9.4" fill="url(#mg_in)"/><path d="M-24.8 -1.7H13V-8.1L26.6 0L13 8.1V1.7H-24.8Z" fill="#3d3d3d"/></g>
<g transform="translate(257.5,348.7) rotate(-104.7)"><path d="M-41.2 0C-41.2 -11 -26.8 -13 -8.2 -13C16.5 -13 38.3 -8.1 41.2 0C38.3 8.1 16.5 13 -8.2 13C-26.8 13 -41.2 11 -41.2 0Z" fill="url(#mg_o)" stroke="#858585" stroke-width="1.9"/><ellipse cx="-4.1" rx="33" ry="9.4" fill="url(#mg_in)"/><path d="M-33 -1.7H17.3V-8.1L35.5 0L17.3 8.1V1.7H-33Z" fill="#3d3d3d"/></g>
<g transform="translate(283.9,323.5) rotate(82.7)"><path d="M-58.2 0C-58.2 -11 -37.8 -13 -11.6 -13C23.3 -13 54.1 -8.1 58.2 0C54.1 8.1 23.3 13 -11.6 13C-37.8 13 -58.2 11 -58.2 0Z" fill="url(#mg_o)" stroke="#858585" stroke-width="1.9"/><ellipse cx="-5.8" rx="46.5" ry="9.4" fill="url(#mg_in)"/><path d="M-46.5 -1.7H24.4V-8.1L50 0L24.4 8.1V1.7H-46.5Z" fill="#3d3d3d"/></g>
<g transform="translate(184.5,345.6) rotate(-73.9)"><path d="M-48.6 0C-48.6 -11 -31.6 -13 -9.7 -13C19.4 -13 45.2 -8.1 48.6 0C45.2 8.1 19.4 13 -9.7 13C-31.6 13 -48.6 11 -48.6 0Z" fill="url(#mg_o)" stroke="#858585" stroke-width="1.9"/><ellipse cx="-4.9" rx="38.8" ry="9.4" fill="url(#mg_in)"/><path d="M-38.8 -1.7H20.4V-8.1L41.8 0L20.4 8.1V1.7H-38.8Z" fill="#3d3d3d"/></g>
<g transform="translate(220.7,382.4) rotate(-102)"><path d="M-50.2 0C-50.2 -11 -32.6 -13 -10 -13C20.1 -13 46.7 -8.1 50.2 0C46.7 8.1 20.1 13 -10 13C-32.6 13 -50.2 11 -50.2 0Z" fill="url(#mg_o)" stroke="#858585" stroke-width="1.9"/><ellipse cx="-5" rx="40.2" ry="9.4" fill="url(#mg_in)"/><path d="M-40.2 -1.7H21.1V-8.1L43.2 0L21.1 8.1V1.7H-40.2Z" fill="#3d3d3d"/></g>
<g transform="translate(233,356) rotate(78.1)"><path d="M-50.8 0C-50.8 -11 -33 -13 -10.2 -13C20.3 -13 47.2 -8.1 50.8 0C47.2 8.1 20.3 13 -10.2 13C-33 13 -50.8 11 -50.8 0Z" fill="url(#mg_o)" stroke="#858585" stroke-width="1.9"/><ellipse cx="-5.1" rx="40.6" ry="9.4" fill="url(#mg_in)"/><path d="M-40.6 -1.7H21.3V-8.1L43.7 0L21.3 8.1V1.7H-40.6Z" fill="#3d3d3d"/></g>
<g transform="translate(143.4,395.9) rotate(82.3)"><path d="M-59.4 0C-59.4 -11 -38.6 -13 -11.9 -13C23.8 -13 55.3 -8.1 59.4 0C55.3 8.1 23.8 13 -11.9 13C-38.6 13 -59.4 11 -59.4 0Z" fill="url(#mg_o)" stroke="#858585" stroke-width="1.9"/><ellipse cx="-5.9" rx="47.6" ry="9.4" fill="url(#mg_in)"/><path d="M-47.6 -1.7H25V-8.1L51.1 0L25 8.1V1.7H-47.6Z" fill="#3d3d3d"/></g>
<g transform="translate(262.4,405.1) rotate(-78.9)"><path d="M-54.4 0C-54.4 -11 -35.4 -13 -10.9 -13C21.8 -13 50.6 -8.1 54.4 0C50.6 8.1 21.8 13 -10.9 13C-35.4 13 -54.4 11 -54.4 0Z" fill="url(#mg_o)" stroke="#858585" stroke-width="1.9"/><ellipse cx="-5.4" rx="43.5" ry="9.4" fill="url(#mg_in)"/><path d="M-43.5 -1.7H22.8V-8.1L46.8 0L22.8 8.1V1.7H-43.5Z" fill="#3d3d3d"/></g>
<g transform="translate(633.1,378) rotate(-91.6)"><path d="M-46.5 0C-46.5 -11 -30.3 -13 -9.3 -13C18.6 -13 43.3 -8.1 46.5 0C43.3 8.1 18.6 13 -9.3 13C-30.3 13 -46.5 11 -46.5 0Z" fill="url(#mg_p)" stroke="#858585" stroke-width="1.9"/><ellipse cx="-4.7" rx="37.2" ry="9.4" fill="url(#mg_in)"/><path d="M-37.2 -1.7H19.5V-8.1L40 0L19.5 8.1V1.7H-37.2Z" fill="#3d3d3d"/></g>
<g transform="translate(617.3,340.6) rotate(-86.2)"><path d="M-19.7 0C-19.7 -11 -12.8 -13 -3.9 -13C7.9 -13 18.3 -8.1 19.7 0C18.3 8.1 7.9 13 -3.9 13C-12.8 13 -19.7 11 -19.7 0Z" fill="url(#mg_p)" stroke="#858585" stroke-width="1.9"/><ellipse cx="-2" rx="15.8" ry="9.4" fill="url(#mg_in)"/><path d="M-15.8 -1.7H8.3V-8.1L16.9 0L8.3 8.1V1.7H-15.8Z" fill="#3d3d3d"/></g>
<g transform="translate(585.2,130.3) rotate(-105.1)"><path d="M-42.8 0C-42.8 -11 -27.8 -13 -8.6 -13C17.1 -13 39.8 -8.1 42.8 0C39.8 8.1 17.1 13 -8.6 13C-27.8 13 -42.8 11 -42.8 0Z" fill="url(#mg_p)" stroke="#858585" stroke-width="1.9"/><ellipse cx="-4.3" rx="34.2" ry="9.4" fill="url(#mg_in)"/><path d="M-34.2 -1.7H18V-8.1L36.8 0L18 8.1V1.7H-34.2Z" fill="#3d3d3d"/></g>
<g transform="translate(675.6,121.7) rotate(-82)"><path d="M-51.6 0C-51.6 -11 -33.6 -13 -10.3 -13C20.6 -13 48 -8.1 51.6 0C48 8.1 20.6 13 -10.3 13C-33.6 13 -51.6 11 -51.6 0Z" fill="url(#mg_p)" stroke="#858585" stroke-width="1.9"/><ellipse cx="-5.2" rx="41.3" ry="9.4" fill="url(#mg_in)"/><path d="M-41.3 -1.7H21.7V-8.1L44.4 0L21.7 8.1V1.7H-41.3Z" fill="#3d3d3d"/></g>
<g transform="translate(724.1,121.1) rotate(-102.3)"><path d="M-58.4 0C-58.4 -11 -37.9 -13 -11.7 -13C23.3 -13 54.3 -8.1 58.4 0C54.3 8.1 23.3 13 -11.7 13C-37.9 13 -58.4 11 -58.4 0Z" fill="url(#mg_p)" stroke="#858585" stroke-width="1.9"/><ellipse cx="-5.8" rx="46.7" ry="9.4" fill="url(#mg_in)"/><path d="M-46.7 -1.7H24.5V-8.1L50.2 0L24.5 8.1V1.7H-46.7Z" fill="#3d3d3d"/></g>
<g transform="translate(634.4,100.1) rotate(-96.6)"><path d="M-57.4 0C-57.4 -11 -37.3 -13 -11.5 -13C23 -13 53.4 -8.1 57.4 0C53.4 8.1 23 13 -11.5 13C-37.3 13 -57.4 11 -57.4 0Z" fill="url(#mg_p)" stroke="#858585" stroke-width="1.9"/><ellipse cx="-5.7" rx="45.9" ry="9.4" fill="url(#mg_in)"/><path d="M-45.9 -1.7H24.1V-8.1L49.4 0L24.1 8.1V1.7H-45.9Z" fill="#3d3d3d"/></g>
<g transform="translate(601.6,174.2) rotate(-79.5)"><path d="M-57.3 0C-57.3 -11 -37.3 -13 -11.5 -13C22.9 -13 53.3 -8.1 57.3 0C53.3 8.1 22.9 13 -11.5 13C-37.3 13 -57.3 11 -57.3 0Z" fill="url(#mg_p)" stroke="#858585" stroke-width="1.9"/><ellipse cx="-5.7" rx="45.9" ry="9.4" fill="url(#mg_in)"/><path d="M-45.9 -1.7H24.1V-8.1L49.3 0L24.1 8.1V1.7H-45.9Z" fill="#3d3d3d"/></g>
<g transform="translate(657.3,182.7) rotate(-101.6)"><path d="M-48.8 0C-48.8 -11 -31.7 -13 -9.8 -13C19.5 -13 45.4 -8.1 48.8 0C45.4 8.1 19.5 13 -9.8 13C-31.7 13 -48.8 11 -48.8 0Z" fill="url(#mg_p)" stroke="#858585" stroke-width="1.9"/><ellipse cx="-4.9" rx="39.1" ry="9.4" fill="url(#mg_in)"/><path d="M-39.1 -1.7H20.5V-8.1L42 0L20.5 8.1V1.7H-39.1Z" fill="#3d3d3d"/></g>
<g transform="translate(711,176.1) rotate(-90.6)"><path d="M-58.3 0C-58.3 -11 -37.9 -13 -11.7 -13C23.3 -13 54.2 -8.1 58.3 0C54.2 8.1 23.3 13 -11.7 13C-37.9 13 -58.3 11 -58.3 0Z" fill="url(#mg_p)" stroke="#858585" stroke-width="1.9"/><ellipse cx="-5.8" rx="46.7" ry="9.4" fill="url(#mg_in)"/><path d="M-46.7 -1.7H24.5V-8.1L50.2 0L24.5 8.1V1.7H-46.7Z" fill="#3d3d3d"/></g>
<g transform="translate(694.7,175.5) rotate(-95)"><path d="M-60.5 0C-60.5 -11 -39.3 -13 -12.1 -13C24.2 -13 56.3 -8.1 60.5 0C56.3 8.1 24.2 13 -12.1 13C-39.3 13 -60.5 11 -60.5 0Z" fill="url(#mg_p)" stroke="#858585" stroke-width="1.9"/><ellipse cx="-6.1" rx="48.4" ry="9.4" fill="url(#mg_in)"/><path d="M-48.4 -1.7H25.4V-8.1L52 0L25.4 8.1V1.7H-48.4Z" fill="#3d3d3d"/></g>
<g transform="translate(619.9,205) rotate(-83.4)"><path d="M-57.4 0C-57.4 -11 -37.3 -13 -11.5 -13C23 -13 53.4 -8.1 57.4 0C53.4 8.1 23 13 -11.5 13C-37.3 13 -57.4 11 -57.4 0Z" fill="url(#mg_p)" stroke="#858585" stroke-width="1.9"/><ellipse cx="-5.7" rx="45.9" ry="9.4" fill="url(#mg_in)"/><path d="M-45.9 -1.7H24.1V-8.1L49.4 0L24.1 8.1V1.7H-45.9Z" fill="#3d3d3d"/></g>
<g transform="translate(584.6,277.1) rotate(-74.8)"><path d="M-55 0C-55 -11 -35.8 -13 -11 -13C22 -13 51.2 -8.1 55 0C51.2 8.1 22 13 -11 13C-35.8 13 -55 11 -55 0Z" fill="url(#mg_p)" stroke="#858585" stroke-width="1.9"/><ellipse cx="-5.5" rx="44" ry="9.4" fill="url(#mg_in)"/><path d="M-44 -1.7H23.1V-8.1L47.3 0L23.1 8.1V1.7H-44Z" fill="#3d3d3d"/></g>
<g transform="translate(632.4,267.9) rotate(-85.4)"><path d="M-57.2 0C-57.2 -11 -37.2 -13 -11.4 -13C22.9 -13 53.2 -8.1 57.2 0C53.2 8.1 22.9 13 -11.4 13C-37.2 13 -57.2 11 -57.2 0Z" fill="url(#mg_p)" stroke="#858585" stroke-width="1.9"/><ellipse cx="-5.7" rx="45.8" ry="9.4" fill="url(#mg_in)"/><path d="M-45.8 -1.7H24V-8.1L49.2 0L24 8.1V1.7H-45.8Z" fill="#3d3d3d"/></g>
<g transform="translate(661.2,269.2) rotate(-98.7)"><path d="M-56.3 0C-56.3 -11 -36.6 -13 -11.3 -13C22.5 -13 52.4 -8.1 56.3 0C52.4 8.1 22.5 13 -11.3 13C-36.6 13 -56.3 11 -56.3 0Z" fill="url(#mg_p)" stroke="#858585" stroke-width="1.9"/><ellipse cx="-5.6" rx="45.1" ry="9.4" fill="url(#mg_in)"/><path d="M-45.1 -1.7H23.7V-8.1L48.5 0L23.7 8.1V1.7H-45.1Z" fill="#3d3d3d"/></g>
<g transform="translate(689.4,261.3) rotate(-100.7)"><path d="M-56.7 0C-56.7 -11 -36.8 -13 -11.3 -13C22.7 -13 52.7 -8.1 56.7 0C52.7 8.1 22.7 13 -11.3 13C-36.8 13 -56.7 11 -56.7 0Z" fill="url(#mg_p)" stroke="#858585" stroke-width="1.9"/><ellipse cx="-5.7" rx="45.3" ry="9.4" fill="url(#mg_in)"/><path d="M-45.3 -1.7H23.8V-8.1L48.7 0L23.8 8.1V1.7H-45.3Z" fill="#3d3d3d"/></g>
<g transform="translate(724.1,265.3) rotate(-81.5)"><path d="M-57.6 0C-57.6 -11 -37.5 -13 -11.5 -13C23.1 -13 53.6 -8.1 57.6 0C53.6 8.1 23.1 13 -11.5 13C-37.5 13 -57.6 11 -57.6 0Z" fill="url(#mg_p)" stroke="#858585" stroke-width="1.9"/><ellipse cx="-5.8" rx="46.1" ry="9.4" fill="url(#mg_in)"/><path d="M-46.1 -1.7H24.2V-8.1L49.6 0L24.2 8.1V1.7H-46.1Z" fill="#3d3d3d"/></g>
<g transform="translate(600.9,345.9) rotate(-86.7)"><path d="M-57.8 0C-57.8 -11 -37.5 -13 -11.6 -13C23.1 -13 53.7 -8.1 57.8 0C53.7 8.1 23.1 13 -11.6 13C-37.5 13 -57.8 11 -57.8 0Z" fill="url(#mg_p)" stroke="#858585" stroke-width="1.9"/><ellipse cx="-5.8" rx="46.2" ry="9.4" fill="url(#mg_in)"/><path d="M-46.2 -1.7H24.3V-8.1L49.7 0L24.3 8.1V1.7H-46.2Z" fill="#3d3d3d"/></g>
<g transform="translate(700.6,355) rotate(-103.3)"><path d="M-48.5 0C-48.5 -11 -31.5 -13 -9.7 -13C19.4 -13 45.1 -8.1 48.5 0C45.1 8.1 19.4 13 -9.7 13C-31.5 13 -48.5 11 -48.5 0Z" fill="url(#mg_p)" stroke="#858585" stroke-width="1.9"/><ellipse cx="-4.8" rx="38.8" ry="9.4" fill="url(#mg_in)"/><path d="M-38.8 -1.7H20.4V-8.1L41.7 0L20.4 8.1V1.7H-38.8Z" fill="#3d3d3d"/></g>
<g transform="translate(734,364.9) rotate(-96.6)"><path d="M-57.4 0C-57.4 -11 -37.3 -13 -11.5 -13C23 -13 53.4 -8.1 57.4 0C53.4 8.1 23 13 -11.5 13C-37.3 13 -57.4 11 -57.4 0Z" fill="url(#mg_p)" stroke="#858585" stroke-width="1.9"/><ellipse cx="-5.7" rx="45.9" ry="9.4" fill="url(#mg_in)"/><path d="M-45.9 -1.7H24.1V-8.1L49.4 0L24.1 8.1V1.7H-45.9Z" fill="#3d3d3d"/></g>
<g transform="translate(629.8,363.6) rotate(-79.2)"><path d="M-59.4 0C-59.4 -11 -38.6 -13 -11.9 -13C23.8 -13 55.2 -8.1 59.4 0C55.2 8.1 23.8 13 -11.9 13C-38.6 13 -59.4 11 -59.4 0Z" fill="url(#mg_p)" stroke="#858585" stroke-width="1.9"/><ellipse cx="-5.9" rx="47.5" ry="9.4" fill="url(#mg_in)"/><path d="M-47.5 -1.7H24.9V-8.1L51.1 0L24.9 8.1V1.7H-47.5Z" fill="#3d3d3d"/></g>
<g transform="translate(678.9,378) rotate(-109.5)"><path d="M-54.9 0C-54.9 -11 -35.7 -13 -11 -13C22 -13 51.1 -8.1 54.9 0C51.1 8.1 22 13 -11 13C-35.7 13 -54.9 11 -54.9 0Z" fill="url(#mg_p)" stroke="#858585" stroke-width="1.9"/><ellipse cx="-5.5" rx="43.9" ry="9.4" fill="url(#mg_in)"/><path d="M-43.9 -1.7H23.1V-8.1L47.2 0L23.1 8.1V1.7H-43.9Z" fill="#3d3d3d"/></g>
<g transform="translate(587.2,404.2) rotate(-97.9)"><path d="M-57.6 0C-57.6 -11 -37.4 -13 -11.5 -13C23 -13 53.5 -8.1 57.6 0C53.5 8.1 23 13 -11.5 13C-37.4 13 -57.6 11 -57.6 0Z" fill="url(#mg_p)" stroke="#858585" stroke-width="1.9"/><ellipse cx="-5.8" rx="46" ry="9.4" fill="url(#mg_in)"/><path d="M-46 -1.7H24.2V-8.1L49.5 0L24.2 8.1V1.7H-46Z" fill="#3d3d3d"/></g>
<g transform="translate(659.3,396.3) rotate(-104.2)"><path d="M-58.8 0C-58.8 -11 -38.2 -13 -11.8 -13C23.5 -13 54.7 -8.1 58.8 0C54.7 8.1 23.5 13 -11.8 13C-38.2 13 -58.8 11 -58.8 0Z" fill="url(#mg_p)" stroke="#858585" stroke-width="1.9"/><ellipse cx="-5.9" rx="47" ry="9.4" fill="url(#mg_in)"/><path d="M-47 -1.7H24.7V-8.1L50.6 0L24.7 8.1V1.7H-47Z" fill="#3d3d3d"/></g>
<g transform="translate(706.4,430.4) rotate(-71.8)"><path d="M-54.5 0C-54.5 -11 -35.4 -13 -10.9 -13C21.8 -13 50.7 -8.1 54.5 0C50.7 8.1 21.8 13 -10.9 13C-35.4 13 -54.5 11 -54.5 0Z" fill="url(#mg_p)" stroke="#858585" stroke-width="1.9"/><ellipse cx="-5.5" rx="43.6" ry="9.4" fill="url(#mg_in)"/><path d="M-43.6 -1.7H22.9V-8.1L46.9 0L22.9 8.1V1.7H-43.6Z" fill="#3d3d3d"/></g>
<text x="24.5" y="72" font-size="51" fill="#000" font-weight="bold" text-anchor="start" >A</text>
<text x="463" y="72" font-size="51" fill="#000" font-weight="bold" text-anchor="start" >B</text>
<path d="M337.5 203L346 228H340V272H346L337.5 297L329 272H335V228H329Z" fill="#3d3d3d"/>
<path d="M815 119L823.5 144H817.5V190H823.5L815 215L806.5 190H812.5V144H806.5Z" fill="#3d3d3d"/>
<text x="368" y="266" font-size="70" fill="#000" font-weight="normal" text-anchor="start" >n</text>
<text x="848" y="186" font-size="70" fill="#000" font-weight="normal" text-anchor="start" >n</text>
<text x="868" y="356" font-size="56" fill="#E27B86" font-weight="normal" text-anchor="start" >P</text>
<path d="M808 350V403A10 6 0 0 0 828 403V350Z" fill="url(#pg1)"/>
<path d="M817 263L796 350Q817 357 838 350Z" fill="url(#pg1)"/>
<text x="25" y="529" font-size="51" fill="#000" font-weight="bold" text-anchor="start" >C</text>
<polygon points="166.3,709.7 343.9,709.7 283.8,878.5 38.2,878.5" fill="#DFDFDF"/>
<polygon points="38.2,878.5 283.8,878.5 283.8,881.4 38.2,881.4" fill="#D3D3D3"/>
<g transform="translate(163.9,724.4) rotate(3.8)"><rect x="0" y="-5.5" width="36.8" height="11.1" rx="3.9" fill="#F7A99E"/><rect x="2" y="-3.1" width="32.8" height="3.3" rx="1.5" fill="#F9BBB2" opacity="0.7"/></g>
<g transform="translate(210.4,739.1) rotate(-28.3)"><rect x="0" y="-5.8" width="36.1" height="11.6" rx="4.1" fill="#F7A99E"/><rect x="2" y="-3.3" width="32.1" height="3.5" rx="1.5" fill="#F9BBB2" opacity="0.7"/></g>
<g transform="translate(252,738.1) rotate(3.3)"><rect x="0" y="-5.8" width="34.3" height="11.6" rx="4.1" fill="#F7A99E"/><rect x="2" y="-3.3" width="30.3" height="3.5" rx="1.5" fill="#F9BBB2" opacity="0.7"/></g>
<g transform="translate(303.3,741.5) rotate(-50)"><rect x="0" y="-5.5" width="31.9" height="11.1" rx="3.9" fill="#F7A99E"/><rect x="2" y="-3.1" width="27.9" height="3.3" rx="1.5" fill="#F9BBB2" opacity="0.7"/></g>
<g transform="translate(141.9,773.3) rotate(-55.4)"><rect x="0" y="-5.8" width="32.7" height="11.6" rx="4.1" fill="#F7A99E"/><rect x="2" y="-3.3" width="28.7" height="3.5" rx="1.5" fill="#F9BBB2" opacity="0.7"/></g>
<g transform="translate(171.2,766) rotate(-8.5)"><rect x="0" y="-6.1" width="39.6" height="12.2" rx="4.3" fill="#F7A99E"/><rect x="2" y="-3.4" width="35.6" height="3.6" rx="1.5" fill="#F9BBB2" opacity="0.7"/></g>
<g transform="translate(229,780.7) rotate(-19.3)"><rect x="0" y="-6.1" width="39.9" height="12.2" rx="4.3" fill="#F7A99E"/><rect x="2" y="-3.4" width="35.9" height="3.6" rx="1.5" fill="#F9BBB2" opacity="0.7"/></g>
<g transform="translate(283.8,756.2) rotate(47)"><rect x="0" y="-5.8" width="30.1" height="11.6" rx="4.1" fill="#F7A99E"/><rect x="2" y="-3.3" width="26.1" height="3.5" rx="1.5" fill="#F9BBB2" opacity="0.7"/></g>
<g transform="translate(102.7,824.7) rotate(-61.7)"><rect x="0" y="-6.3" width="36.1" height="12.7" rx="4.4" fill="#F7A99E"/><rect x="2" y="-3.6" width="32.1" height="3.8" rx="1.5" fill="#F9BBB2" opacity="0.7"/></g>
<g transform="translate(132.1,802.7) rotate(24.8)"><rect x="0" y="-6.3" width="35" height="12.7" rx="4.4" fill="#F7A99E"/><rect x="2" y="-3.6" width="31" height="3.8" rx="1.5" fill="#F9BBB2" opacity="0.7"/></g>
<g transform="translate(189.8,796.8) rotate(7)"><rect x="0" y="-6.3" width="40.4" height="12.7" rx="4.4" fill="#F7A99E"/><rect x="2" y="-3.6" width="36.4" height="3.8" rx="1.5" fill="#F9BBB2" opacity="0.7"/></g>
<g transform="translate(268.1,814.9) rotate(-62.4)"><rect x="0" y="-6.3" width="35.9" height="12.7" rx="4.4" fill="#F7A99E"/><rect x="2" y="-3.6" width="31.9" height="3.8" rx="1.5" fill="#F9BBB2" opacity="0.7"/></g>
<g transform="translate(70.9,856.5) rotate(-17.4)"><rect x="0" y="-7.1" width="53.8" height="14.3" rx="5" fill="#F7A99E"/><rect x="2" y="-4" width="49.8" height="4.3" rx="1.5" fill="#F9BBB2" opacity="0.7"/></g>
<g transform="translate(163.9,841.8) rotate(-18.3)"><rect x="0" y="-7.1" width="50" height="14.3" rx="5" fill="#F7A99E"/><rect x="2" y="-4" width="46" height="4.3" rx="1.5" fill="#F9BBB2" opacity="0.7"/></g>
<g transform="translate(240.7,832) rotate(27.5)"><rect x="0" y="-7.1" width="40.3" height="14.3" rx="5" fill="#F7A99E"/><rect x="2" y="-4" width="36.3" height="4.3" rx="1.5" fill="#F9BBB2" opacity="0.7"/></g>
<text x="214" y="627" font-size="47" fill="#DD9090" font-weight="normal" text-anchor="start" >SD1</text>
<g transform="translate(245.6,642.2) rotate(100.9)" fill="#444"><path d="M0 -3.6H18V3.6H0Z M24 -3.6H44.8V3.6H24Z"/><path d="M42.8 -12.5L69.8 0L42.8 12.5Z"/></g>
<polygon points="406.1,709.7 582.2,709.7 618.9,878.5 374.3,878.5" fill="#E6E8EA"/>
<polygon points="374.3,878.5 618.9,878.5 618.9,881.4 374.3,881.4" fill="#E1E1E1"/>
<polygon points="503.9,489.6 660.5,925 352.3,925" fill="url(#g45)" filter="url(#bl8)"/>
<ellipse cx="494.1" cy="783.1" rx="105" ry="85" fill="url(#g46)"/>
<g transform="translate(423.2,725.9) rotate(0)" opacity="0.9"><rect x="0" y="-5.1" width="29.4" height="10.3" rx="3.6" fill="#FBEDEE"/><rect x="2" y="-2.9" width="25.4" height="3.1" rx="1.5" fill="#FDF5F6" opacity="0.7"/></g>
<g transform="translate(428.1,744) rotate(85.6)" opacity="0.9"><rect x="0" y="-5.1" width="31.9" height="10.3" rx="3.6" fill="#FCEFF0"/><rect x="2" y="-2.9" width="27.9" height="3.1" rx="1.5" fill="#FDF6F7" opacity="0.7"/></g>
<g transform="translate(455,766) rotate(-15.3)" opacity="0.9"><rect x="0" y="-5.1" width="27.9" height="10.3" rx="3.6" fill="#FBE6E8"/><rect x="2" y="-2.9" width="23.9" height="3.1" rx="1.5" fill="#FDF1F2" opacity="0.7"/></g>
<g transform="translate(574.9,724.4) rotate(101.3)" opacity="0.9"><rect x="0" y="-5.1" width="24.9" height="10.3" rx="3.6" fill="#FCEFF0"/><rect x="2" y="-2.9" width="20.9" height="3.1" rx="1.5" fill="#FDF6F7" opacity="0.7"/></g>
<g transform="translate(528.4,736.6) rotate(4.8)" opacity="0.9"><rect x="0" y="-5.1" width="29.5" height="10.3" rx="3.6" fill="#FCF0F1"/><rect x="2" y="-2.9" width="25.5" height="3.1" rx="1.5" fill="#FDF7F7" opacity="0.7"/></g>
<g transform="translate(562.6,758.6) rotate(35)" opacity="0.95"><rect x="0" y="-5.4" width="29.9" height="10.8" rx="3.8" fill="#FBDADD"/><rect x="2" y="-3" width="25.9" height="3.2" rx="1.5" fill="#FDEBEC" opacity="0.7"/></g>
<g transform="translate(525.9,775.8) rotate(-20)" opacity="0.9"><rect x="0" y="-5.4" width="28.6" height="10.8" rx="3.8" fill="#FCECEE"/><rect x="2" y="-3" width="24.6" height="3.2" rx="1.5" fill="#FDF5F6" opacity="0.7"/></g>
<g transform="translate(415.9,795.3) rotate(81.3)"><rect x="0" y="-5.7" width="32.2" height="11.3" rx="4" fill="#FAB9BC"/><rect x="2" y="-3.2" width="28.2" height="3.4" rx="1.5" fill="#FCD8DA" opacity="0.7"/></g>
<g transform="translate(437.9,804.1) rotate(21.1)"><rect x="0" y="-5.9" width="36.7" height="11.8" rx="4.1" fill="#FAC3CB"/><rect x="2" y="-3.3" width="32.7" height="3.5" rx="1.5" fill="#FCDEE2" opacity="0.7"/></g>
<g transform="translate(494.1,798.8) rotate(4.9)"><rect x="0" y="-5.9" width="34.4" height="11.8" rx="4.1" fill="#FBC9D2"/><rect x="2" y="-3.3" width="30.4" height="3.5" rx="1.5" fill="#FDE1E6" opacity="0.7"/></g>
<g transform="translate(574.9,785.6) rotate(81.9)"><rect x="0" y="-5.7" width="34.6" height="11.3" rx="4" fill="#FABBBE"/><rect x="2" y="-3.2" width="30.6" height="3.4" rx="1.5" fill="#FCDADB" opacity="0.7"/></g>
<g transform="translate(406.1,858.9) rotate(-23.6)"><rect x="0" y="-6.7" width="42.7" height="13.4" rx="4.7" fill="#F9A79C"/><rect x="2" y="-3.7" width="38.7" height="4" rx="1.5" fill="#FCCFC9" opacity="0.7"/></g>
<g transform="translate(491.7,843.3) rotate(-21.8)"><rect x="0" y="-6.7" width="39.5" height="13.4" rx="4.7" fill="#F9ADA5"/><rect x="2" y="-3.7" width="35.5" height="4" rx="1.5" fill="#FCD2CE" opacity="0.7"/></g>
<g transform="translate(565.1,834.5) rotate(23.6)"><rect x="0" y="-6.7" width="42.7" height="13.4" rx="4.7" fill="#F9A79C"/><rect x="2" y="-3.7" width="38.7" height="4" rx="1.5" fill="#FCCFC9" opacity="0.7"/></g>
<path d="M501.5 582.5 L506 585.9 L510.4 589.2 L514.4 592.6 L517.8 595.9 L520.5 599.2 L522.4 602.6 L523.4 605.9 L523.4 609.3 L522.4 612.6 L520.5 616 L517.8 619.3 L514.4 622.6 L510.4 626 L506 629.3 L501.5 632.7 L496.9 636 L492.5 639.4 L488.5 642.7 L485.1 646 L482.4 649.4 L480.5 652.7 L479.6 656.1 L479.6 659.4 L480.5 662.8 L482.4 666.1 L485.1 669.4 L488.5 672.8 L492.5 676.1 L496.9 679.5 L501.5 682.8 L506 686.2 L510.4 689.5 L514.4 692.8 L517.8 696.2 L520.5 699.5 L522.4 702.9 L523.4 706.2 L523.4 709.6 L522.4 712.9 L520.5 716.2 L517.8 719.6 L514.4 722.9 L510.4 726.3 L506 729.6 L501.5 733 L496.9 736.3 L492.5 739.7 L488.5 743 L485.1 746.3 L482.4 749.7 L480.5 753 L479.6 756.4 L479.6 759.7 L480.5 763.1 L482.4 766.4 L485.1 769.7 L488.5 773.1 L492.5 776.4 L496.9 779.8 L501.5 783.1Z" fill="#E4D2F6" fill-opacity="0.65" stroke="#D3B4EE" stroke-width="0.8"/>
<polygon points="655.6,709.7 841.5,709.7 961.4,878.5 711.8,878.5" fill="#DFDFDF"/>
<polygon points="711.8,878.5 961.4,878.5 961.4,881.4 711.8,881.4" fill="#D3D3D3"/>
<g transform="translate(689.1,710.4) rotate(68.2)"><rect x="0" y="-5.5" width="27.5" height="11" rx="3.8" fill="#F7A99E"/><rect x="2" y="-3.1" width="23.5" height="3.3" rx="1.5" fill="#F9BBB2" opacity="0.7"/></g>
<g transform="translate(686.7,737.1) rotate(71.2)"><rect x="0" y="-5.5" width="30" height="11" rx="3.8" fill="#F7A99E"/><rect x="2" y="-3.1" width="26" height="3.3" rx="1.5" fill="#F9BBB2" opacity="0.7"/></g>
<g transform="translate(720.8,749.4) rotate(68.2)"><rect x="0" y="-5.8" width="30.6" height="11.5" rx="4" fill="#F7A99E"/><rect x="2" y="-3.2" width="26.6" height="3.5" rx="1.5" fill="#F9BBB2" opacity="0.7"/></g>
<g transform="translate(738,708) rotate(66)"><rect x="0" y="-5.5" width="27.9" height="11" rx="3.8" fill="#F7A99E"/><rect x="2" y="-3.1" width="23.9" height="3.3" rx="1.5" fill="#F9BBB2" opacity="0.7"/></g>
<g transform="translate(764.7,710) rotate(65.6)"><rect x="0" y="-5.5" width="34.3" height="11" rx="3.8" fill="#F7A99E"/><rect x="2" y="-3.1" width="30.3" height="3.3" rx="1.5" fill="#F9BBB2" opacity="0.7"/></g>
<g transform="translate(791.4,756.3) rotate(63.4)"><rect x="0" y="-6" width="38.1" height="12.1" rx="4.2" fill="#F7A99E"/><rect x="2" y="-3.4" width="34.1" height="3.6" rx="1.5" fill="#F9BBB2" opacity="0.7"/></g>
<g transform="translate(803.8,730) rotate(60.9)"><rect x="0" y="-5.8" width="29.2" height="11.5" rx="4" fill="#F7A99E"/><rect x="2" y="-3.2" width="25.2" height="3.5" rx="1.5" fill="#F9BBB2" opacity="0.7"/></g>
<g transform="translate(825.8,715.3) rotate(60.9)"><rect x="0" y="-5.5" width="29.2" height="11" rx="3.8" fill="#F7A99E"/><rect x="2" y="-3.1" width="25.2" height="3.3" rx="1.5" fill="#F9BBB2" opacity="0.7"/></g>
<g transform="translate(708.2,792.6) rotate(66.8)"><rect x="0" y="-6.6" width="43.2" height="13.2" rx="4.6" fill="#F7A99E"/><rect x="2" y="-3.7" width="39.2" height="3.9" rx="1.5" fill="#F9BBB2" opacity="0.7"/></g>
<g transform="translate(752.1,787.7) rotate(63.4)"><rect x="0" y="-6.6" width="44.4" height="13.2" rx="4.6" fill="#F7A99E"/><rect x="2" y="-3.7" width="40.4" height="3.9" rx="1.5" fill="#F9BBB2" opacity="0.7"/></g>
<g transform="translate(742.5,821.8) rotate(68.2)"><rect x="0" y="-7.1" width="45.8" height="14.2" rx="5" fill="#F7A99E"/><rect x="2" y="-4" width="41.8" height="4.3" rx="1.5" fill="#F9BBB2" opacity="0.7"/></g>
<g transform="translate(805.7,816.9) rotate(61.9)"><rect x="0" y="-7.1" width="48.2" height="14.2" rx="5" fill="#F7A99E"/><rect x="2" y="-4" width="44.2" height="4.3" rx="1.5" fill="#F9BBB2" opacity="0.7"/></g>
<g transform="translate(825.2,809.9) rotate(58.4)"><rect x="0" y="-6.8" width="43.3" height="13.7" rx="4.8" fill="#F7A99E"/><rect x="2" y="-3.8" width="39.3" height="4.1" rx="1.5" fill="#F9BBB2" opacity="0.7"/></g>
<g transform="translate(842.6,790.5) rotate(59.7)"><rect x="0" y="-6.6" width="39.4" height="13.2" rx="4.6" fill="#F7A99E"/><rect x="2" y="-3.7" width="35.4" height="3.9" rx="1.5" fill="#F9BBB2" opacity="0.7"/></g>
<g transform="translate(849.9,756.3) rotate(59.7)"><rect x="0" y="-6.3" width="39.4" height="12.6" rx="4.4" fill="#F7A99E"/><rect x="2" y="-3.5" width="35.4" height="3.8" rx="1.5" fill="#F9BBB2" opacity="0.7"/></g>
<g transform="translate(890.9,812.2) rotate(54.5)"><rect x="0" y="-7.1" width="48.8" height="14.2" rx="5" fill="#F7A99E"/><rect x="2" y="-4" width="44.8" height="4.3" rx="1.5" fill="#F9BBB2" opacity="0.7"/></g>
<ellipse transform="translate(709.4,690.2) rotate(60)" rx="16.4" ry="5.1" fill="#EDBE66"/>
<ellipse transform="translate(725,679.4) rotate(60)" rx="15.7" ry="4.9" fill="#EDBE66"/>
<ellipse transform="translate(754.9,679.4) rotate(60)" rx="15.7" ry="4.9" fill="#EDBE66"/>
<ellipse transform="translate(806.3,684.3) rotate(60)" rx="16" ry="5" fill="#EDBE66"/>
<ellipse transform="translate(843.9,697.5) rotate(60)" rx="16.9" ry="5.3" fill="#EDBE66"/>
<ellipse transform="translate(694.7,714.6) rotate(60)" rx="18.1" ry="5.6" fill="#EDBE66"/>
<ellipse transform="translate(736.3,717.1) rotate(60)" rx="18.2" ry="5.7" fill="#EDBE66"/>
<ellipse transform="translate(770.5,726.8) rotate(60)" rx="18.9" ry="5.9" fill="#EDBE66"/>
<ellipse transform="translate(798.4,708.7) rotate(60)" rx="17.7" ry="5.5" fill="#EDBE66"/>
<ellipse transform="translate(844.9,729.3) rotate(60)" rx="19" ry="5.9" fill="#EDBE66"/>
<ellipse transform="translate(878.2,722) rotate(60)" rx="18.5" ry="5.8" fill="#EDBE66"/>
<ellipse transform="translate(731.4,747.9) rotate(60)" rx="20.3" ry="6.3" fill="#EDBE66"/>
<ellipse transform="translate(821.9,753.8) rotate(60)" rx="20.6" ry="6.4" fill="#EDBE66"/>
<ellipse transform="translate(892.9,756.2) rotate(60)" rx="20.8" ry="6.5" fill="#EDBE66"/>
<ellipse transform="translate(773,775.8) rotate(60)" rx="22.1" ry="6.9" fill="#EDBE66"/>
<ellipse transform="translate(812.1,778.2) rotate(60)" rx="22.3" ry="6.9" fill="#EDBE66"/>
<ellipse transform="translate(870.8,775.8) rotate(60)" rx="22.1" ry="6.9" fill="#EDBE66"/>
<text x="772" y="602" font-size="47" fill="#5FC2EE" font-weight="normal" text-anchor="start" >DIO</text>
<g transform="translate(781.3,620.2) rotate(111.2)" fill="#444"><path d="M0 -3.6H18V3.6H0Z M24 -3.6H38.5V3.6H24Z"/><path d="M36.5 -12.5L63.5 0L36.5 12.5Z"/></g>
<text x="991" y="72" font-size="51" fill="#000" font-weight="bold" text-anchor="start" >D</text>
<g transform="translate(1135,134.3) rotate(-176.4)" fill="url(#ag_pink_132f)"><path d="M3.8 -6.3H35V6.3H3.8A3.8 6.3 0 0 1 3.8 -6.3Z"/><path d="M34 -13.2L89.4 0L34 13.2Z"/></g>
<g transform="translate(1135,185.9) rotate(-176.4)" fill="url(#ag_pink_132f)"><path d="M3.8 -6.3H35V6.3H3.8A3.8 6.3 0 0 1 3.8 -6.3Z"/><path d="M34 -13.2L89.4 0L34 13.2Z"/></g>
<g transform="translate(1135,235.3) rotate(-176.4)" fill="url(#ag_pink_132f)"><path d="M3.8 -6.3H35V6.3H3.8A3.8 6.3 0 0 1 3.8 -6.3Z"/><path d="M34 -13.2L89.4 0L34 13.2Z"/></g>
<g transform="translate(1135,285.8) rotate(-176.4)" fill="url(#ag_pink_132f)"><path d="M3.8 -6.3H35V6.3H3.8A3.8 6.3 0 0 1 3.8 -6.3Z"/><path d="M34 -13.2L89.4 0L34 13.2Z"/></g>
<g transform="translate(1135,336.2) rotate(-176.4)" fill="url(#ag_pink_132f)"><path d="M3.8 -6.3H35V6.3H3.8A3.8 6.3 0 0 1 3.8 -6.3Z"/><path d="M34 -13.2L89.4 0L34 13.2Z"/></g>
<polygon points="1128,149.8 1196.1,69.9 1196.1,327.1 1128,412.8" fill="#ECECE6" fill-opacity="0.82" stroke="#AFAFAB" stroke-width="1.6" stroke-linejoin="round"/>
<g transform="translate(1260.6,143.2) rotate(-176.4)" fill="url(#ag_pink_132f)"><path d="M3.8 -6.3H35V6.3H3.8A3.8 6.3 0 0 1 3.8 -6.3Z"/><path d="M34 -13.2L89.4 0L34 13.2Z"/></g>
<g transform="translate(1260.6,192.5) rotate(-176.4)" fill="url(#ag_pink_132f)"><path d="M3.8 -6.3H35V6.3H3.8A3.8 6.3 0 0 1 3.8 -6.3Z"/><path d="M34 -13.2L89.4 0L34 13.2Z"/></g>
<g transform="translate(1260.6,243) rotate(-176.4)" fill="url(#ag_pink_132f)"><path d="M3.8 -6.3H35V6.3H3.8A3.8 6.3 0 0 1 3.8 -6.3Z"/><path d="M34 -13.2L89.4 0L34 13.2Z"/></g>
<g transform="translate(1260.6,293.5) rotate(-176.4)" fill="url(#ag_pink_132f)"><path d="M3.8 -6.3H35V6.3H3.8A3.8 6.3 0 0 1 3.8 -6.3Z"/><path d="M34 -13.2L89.4 0L34 13.2Z"/></g>
<g transform="translate(1260.6,342.8) rotate(-176.4)" fill="url(#ag_pink_132f)"><path d="M3.8 -6.3H35V6.3H3.8A3.8 6.3 0 0 1 3.8 -6.3Z"/><path d="M34 -13.2L89.4 0L34 13.2Z"/></g>
<polygon points="1254.8,158 1321.7,78.1 1321.7,335.3 1254.8,421" fill="#ECECE6" fill-opacity="0.82" stroke="#AFAFAB" stroke-width="1.6" stroke-linejoin="round"/>
<g transform="translate(1394.5,150.7) rotate(-176.4)" fill="url(#ag_pink_132f)"><path d="M3.8 -6.3H35V6.3H3.8A3.8 6.3 0 0 1 3.8 -6.3Z"/><path d="M34 -13.2L89.4 0L34 13.2Z"/></g>
<g transform="translate(1394.5,201.2) rotate(-176.4)" fill="url(#ag_pink_132f)"><path d="M3.8 -6.3H35V6.3H3.8A3.8 6.3 0 0 1 3.8 -6.3Z"/><path d="M34 -13.2L89.4 0L34 13.2Z"/></g>
<g transform="translate(1394.5,251.7) rotate(-176.4)" fill="url(#ag_pink_132f)"><path d="M3.8 -6.3H35V6.3H3.8A3.8 6.3 0 0 1 3.8 -6.3Z"/><path d="M34 -13.2L89.4 0L34 13.2Z"/></g>
<g transform="translate(1394.5,302.2) rotate(-176.4)" fill="url(#ag_pink_132f)"><path d="M3.8 -6.3H35V6.3H3.8A3.8 6.3 0 0 1 3.8 -6.3Z"/><path d="M34 -13.2L89.4 0L34 13.2Z"/></g>
<g transform="translate(1394.5,352.7) rotate(-176.4)" fill="url(#ag_pink_132f)"><path d="M3.8 -6.3H35V6.3H3.8A3.8 6.3 0 0 1 3.8 -6.3Z"/><path d="M34 -13.2L89.4 0L34 13.2Z"/></g>
<text x="1002.5" y="527.5" font-size="51" fill="#000" font-weight="bold" text-anchor="start" >E</text>
<g transform="translate(1143.2,551) rotate(-178.5)" fill="url(#ag_pink_132f)"><path d="M3.8 -6.3H34V6.3H3.8A3.8 6.3 0 0 1 3.8 -6.3Z"/><ellipse cx="33" cy="0" rx="2.8" ry="13.2"/><path d="M33 -13.2L86.9 0L33 13.2Z"/></g>
<g transform="translate(1144.4,585.1) rotate(179.2)" fill="url(#ag_pink_132f)"><path d="M3.8 -6.3H34.9V6.3H3.8A3.8 6.3 0 0 1 3.8 -6.3Z"/><path d="M33.9 -13.2L89.3 0L33.9 13.2Z"/></g>
<g transform="translate(1139.7,616.8) rotate(174.8)" fill="url(#ag_pink_132f)"><path d="M3.8 -6.3H30.6V6.3H3.8A3.8 6.3 0 0 1 3.8 -6.3Z"/><ellipse cx="29.6" cy="0" rx="6.4" ry="13.2"/><path d="M29.6 -13.2L77.8 0L29.6 13.2Z"/></g>
<g transform="translate(1130.3,650.8) rotate(172.7)" fill="url(#ag_pink_132f)"><path d="M4.9 -6.3H22.1V6.3H4.9A4.9 6.3 0 0 1 4.9 -6.3Z"/><ellipse cx="21.1" cy="0" rx="10.3" ry="13.2"/><path d="M21.1 -13.2L55.6 0L21.1 13.2Z"/></g>
<g fill="url(#bg_pink)"><circle cx="1104" cy="688.9" r="13.2"/></g>
<g fill="url(#bg_pink)"><circle cx="1101.4" cy="723.6" r="13.2"/></g>
<g transform="translate(1077.5,754.2) rotate(10.5)" fill="url(#ag_pink_132)"><path d="M5.1 -6.3H20.5V6.3H5.1A5.1 6.3 0 0 1 5.1 -6.3Z"/><ellipse cx="19.5" cy="0" rx="10.8" ry="13.2"/><path d="M19.5 -13.2L51.4 0L19.5 13.2Z"/></g>
<g transform="translate(1066.9,790.6) rotate(4.6)" fill="url(#ag_pink_132)"><path d="M3.8 -6.3H28.8V6.3H3.8A3.8 6.3 0 0 1 3.8 -6.3Z"/><ellipse cx="27.8" cy="0" rx="7.5" ry="13.2"/><path d="M27.8 -13.2L73 0L27.8 13.2Z"/></g>
<g transform="translate(1061,827) rotate(2.3)" fill="url(#ag_dark_132)"><path d="M3.8 -6.3H34.5V6.3H3.8A3.8 6.3 0 0 1 3.8 -6.3Z"/><ellipse cx="33.5" cy="0" rx="1.8" ry="13.2"/><path d="M33.5 -13.2L88.1 0L33.5 13.2Z"/></g>
<polygon points="1139.7,525.2 1204.3,488.8 1204.3,830.5 1139.7,866.9" fill="#ECECE6" fill-opacity="0.82" stroke="#AFAFAB" stroke-width="1.6" stroke-linejoin="round"/>
<g transform="translate(1268.9,553.4) rotate(-179.2)" fill="url(#ag_pink_132f)"><path d="M3.8 -6.3H34.5V6.3H3.8A3.8 6.3 0 0 1 3.8 -6.3Z"/><ellipse cx="33.5" cy="0" rx="1.9" ry="13.2"/><path d="M33.5 -13.2L88.1 0L33.5 13.2Z"/></g>
<g transform="translate(1264.2,589.8) rotate(-176.4)" fill="url(#ag_pink_132f)"><path d="M3.8 -6.3H29.6V6.3H3.8A3.8 6.3 0 0 1 3.8 -6.3Z"/><ellipse cx="28.6" cy="0" rx="7" ry="13.2"/><path d="M28.6 -13.2L75.3 0L28.6 13.2Z"/></g>
<g transform="translate(1253.6,627.4) rotate(-172.1)" fill="url(#ag_pink_132f)"><path d="M5.2 -6.3H20.4V6.3H5.2A5.2 6.3 0 0 1 5.2 -6.3Z"/><ellipse cx="19.4" cy="0" rx="10.8" ry="13.2"/><path d="M19.4 -13.2L51 0L19.4 13.2Z"/></g>
<g fill="url(#bg_pink)"><circle cx="1228.5" cy="659.1" r="13.2"/></g>
<g fill="url(#bg_pink)"><circle cx="1226.1" cy="693.1" r="13.2"/></g>
<g transform="translate(1200.8,730.7) rotate(-7.4)" fill="url(#ag_pink_132)"><path d="M5 -6.3H21.7V6.3H5A5 6.3 0 0 1 5 -6.3Z"/><ellipse cx="20.7" cy="0" rx="10.4" ry="13.2"/><path d="M20.7 -13.2L54.5 0L20.7 13.2Z"/></g>
<g transform="translate(1190.2,764.7) rotate(-3.5)" fill="url(#ag_pink_132)"><path d="M3.8 -6.3H30.5V6.3H3.8A3.8 6.3 0 0 1 3.8 -6.3Z"/><ellipse cx="29.5" cy="0" rx="6.5" ry="13.2"/><path d="M29.5 -13.2L77.6 0L29.5 13.2Z"/></g>
<g transform="translate(1185.5,797.6) rotate(-0.8)" fill="url(#ag_pink_132)"><path d="M3.8 -6.3H34.5V6.3H3.8A3.8 6.3 0 0 1 3.8 -6.3Z"/><ellipse cx="33.5" cy="0" rx="1.9" ry="13.2"/><path d="M33.5 -13.2L88.1 0L33.5 13.2Z"/></g>
<g transform="translate(1185.5,831.7) rotate(1.5)" fill="url(#ag_dark_132)"><path d="M3.8 -6.3H34.5V6.3H3.8A3.8 6.3 0 0 1 3.8 -6.3Z"/><ellipse cx="33.5" cy="0" rx="1.9" ry="13.2"/><path d="M33.5 -13.2L88.1 0L33.5 13.2Z"/></g>
<polygon points="1264.2,527.5 1328.8,492.3 1328.8,832.8 1264.2,869.2" fill="#ECECE6" fill-opacity="0.82" stroke="#AFAFAB" stroke-width="1.6" stroke-linejoin="round"/>
<g transform="translate(1402.7,558.1) rotate(-178.5)" fill="url(#ag_pink_132f)"><path d="M3.8 -6.3H34.5V6.3H3.8A3.8 6.3 0 0 1 3.8 -6.3Z"/><ellipse cx="33.5" cy="0" rx="1.9" ry="13.2"/><path d="M33.5 -13.2L88.1 0L33.5 13.2Z"/></g>
<g transform="translate(1402.7,590.9) rotate(179.2)" fill="url(#ag_pink_132f)"><path d="M3.8 -6.3H34.5V6.3H3.8A3.8 6.3 0 0 1 3.8 -6.3Z"/><ellipse cx="33.5" cy="0" rx="1.9" ry="13.2"/><path d="M33.5 -13.2L88.1 0L33.5 13.2Z"/></g>
<g transform="translate(1398,623.8) rotate(175.7)" fill="url(#ag_pink_132f)"><path d="M3.8 -6.3H30.5V6.3H3.8A3.8 6.3 0 0 1 3.8 -6.3Z"/><ellipse cx="29.5" cy="0" rx="6.4" ry="13.2"/><path d="M29.5 -13.2L77.7 0L29.5 13.2Z"/></g>
<g transform="translate(1387.5,657.9) rotate(172.6)" fill="url(#ag_pink_132f)"><path d="M5 -6.3H21.7V6.3H5A5 6.3 0 0 1 5 -6.3Z"/><ellipse cx="20.7" cy="0" rx="10.4" ry="13.2"/><path d="M20.7 -13.2L54.5 0L20.7 13.2Z"/></g>
<g fill="url(#bg_pink)"><circle cx="1362.3" cy="695.5" r="13.2"/></g>
<g fill="url(#bg_pink)"><circle cx="1359.8" cy="730.7" r="13.2"/></g>
<g transform="translate(1334.6,762.4) rotate(9.2)" fill="url(#ag_pink_132)"><path d="M5.2 -6.3H20.4V6.3H5.2A5.2 6.3 0 0 1 5.2 -6.3Z"/><ellipse cx="19.4" cy="0" rx="10.8" ry="13.2"/><path d="M19.4 -13.2L51.2 0L19.4 13.2Z"/></g>
<g transform="translate(1324.1,797.6) rotate(4.5)" fill="url(#ag_pink_132)"><path d="M3.8 -6.3H29.6V6.3H3.8A3.8 6.3 0 0 1 3.8 -6.3Z"/><ellipse cx="28.6" cy="0" rx="7" ry="13.2"/><path d="M28.6 -13.2L75.4 0L28.6 13.2Z"/></g>
<g transform="translate(1319.4,835.2) rotate(1.5)" fill="url(#ag_dark_132)"><path d="M3.8 -6.3H34V6.3H3.8A3.8 6.3 0 0 1 3.8 -6.3Z"/><ellipse cx="33" cy="0" rx="2.8" ry="13.2"/><path d="M33 -13.2L86.9 0L33 13.2Z"/></g>
<text x="26" y="978" font-size="51" fill="#000" font-weight="bold" text-anchor="start" >G</text>
<text x="720" y="978" font-size="51" fill="#000" font-weight="bold" text-anchor="start" >H</text>
<text x="1443" y="978" font-size="51" fill="#000" font-weight="bold" text-anchor="start" >I</text>
<text x="252.3" y="982.3" font-size="43.3" fill="#000" font-weight="normal" text-anchor="start" textLength="213.7">Polar Vortex</text>
<text x="863.1" y="982.3" font-size="43.3" fill="#000" font-weight="normal" text-anchor="start" textLength="359">Polar twisted vortex I</text>
<text x="1584.7" y="982.3" font-size="43.3" fill="#000" font-weight="normal" text-anchor="start" textLength="373.7">Polar twisted vortex II</text>
<g filter="url(#soft)">
<g transform="translate(232.5,1086.7) rotate(-7.1)" fill="url(#ag_red_106)" opacity="0.1"><path d="M3.1 -5.1H36.8V5.1H3.1A3.1 5.1 0 0 1 3.1 -5.1Z"/><path d="M35.8 -10.6L85.2 0L35.8 10.6Z"/></g>
<g transform="translate(329.3,1085) rotate(171.2)" fill="url(#ag_red_106f)" opacity="0.1"><path d="M3.1 -5.1H37.7V5.1H3.1A3.1 5.1 0 0 1 3.1 -5.1Z"/><path d="M36.7 -10.6L87.3 0L36.7 10.6Z"/></g>
<g transform="translate(193.7,1058.6) rotate(-5.9)" fill="url(#ag_red_106)" opacity="0.62"><path d="M3.1 -5.1H30V5.1H3.1A3.1 5.1 0 0 1 3.1 -5.1Z"/><ellipse cx="29" cy="0" rx="3" ry="10.6"/><path d="M29 -10.6L69 0L29 10.6Z"/></g>
<g transform="translate(302.2,1050.8) rotate(6.5)" fill="url(#ag_red_106)" opacity="0.62"><path d="M3.1 -5.1H29.6V5.1H3.1A3.1 5.1 0 0 1 3.1 -5.1Z"/><ellipse cx="28.6" cy="0" rx="3.5" ry="10.6"/><path d="M28.6 -10.6L68.1 0L28.6 10.6Z"/></g>
<g transform="translate(385.7,1068.1) rotate(29.5)" fill="url(#ag_red_106)" opacity="0.62"><path d="M4.5 -5.1H15.4V5.1H4.5A4.5 5.1 0 0 1 4.5 -5.1Z"/><ellipse cx="14.4" cy="0" rx="9.3" ry="10.6"/><path d="M14.4 -10.6L34.4 0L14.4 10.6Z"/></g>
<g transform="translate(415.6,1093.8) rotate(148.1)" fill="url(#ag_red_106f)" opacity="0.62"><path d="M4.4 -5.1H15.8V5.1H4.4A4.4 5.1 0 0 1 4.4 -5.1Z"/><ellipse cx="14.8" cy="0" rx="9.2" ry="10.6"/><path d="M14.8 -10.6L35.3 0L14.8 10.6Z"/></g>
<g transform="translate(363.5,1118.4) rotate(174.1)" fill="url(#ag_red_106f)" opacity="0.62"><path d="M3.1 -5.1H29.6V5.1H3.1A3.1 5.1 0 0 1 3.1 -5.1Z"/><ellipse cx="28.6" cy="0" rx="3.5" ry="10.6"/><path d="M28.6 -10.6L68 0L28.6 10.6Z"/></g>
<g transform="translate(264.2,1123.7) rotate(-174.1)" fill="url(#ag_red_106f)" opacity="0.62"><path d="M3.1 -5.1H29.6V5.1H3.1A3.1 5.1 0 0 1 3.1 -5.1Z"/><ellipse cx="28.6" cy="0" rx="3.5" ry="10.6"/><path d="M28.6 -10.6L68 0L28.6 10.6Z"/></g>
<g transform="translate(172.6,1111.4) rotate(-145.2)" fill="url(#ag_red_106f)" opacity="0.62"><path d="M4.6 -5.1H14V5.1H4.6A4.6 5.1 0 0 1 4.6 -5.1Z"/><ellipse cx="13" cy="0" rx="9.6" ry="10.6"/><path d="M13 -10.6L30.9 0L13 10.6Z"/></g>
<g transform="translate(140.9,1083.2) rotate(-27.6)" fill="url(#ag_red_106)" opacity="0.62"><path d="M4.4 -5.1H16V5.1H4.4A4.4 5.1 0 0 1 4.4 -5.1Z"/><ellipse cx="15" cy="0" rx="9.2" ry="10.6"/><path d="M15 -10.6L35.8 0L15 10.6Z"/></g>
<g fill="url(#bg_red)" opacity="0.92"><circle cx="56.4" cy="1088.5" r="10.8"/></g>
<g transform="translate(72.2,1063.8) rotate(-22.6)" fill="url(#ag_red_106)" opacity="0.95"><path d="M4.1 -5.1H19.1V5.1H4.1A4.1 5.1 0 0 1 4.1 -5.1Z"/><ellipse cx="18.1" cy="0" rx="8.5" ry="10.6"/><path d="M18.1 -10.6L43.1 0L18.1 10.6Z"/></g>
<g transform="translate(140.9,1037.4) rotate(-7)" fill="url(#ag_red_106)" opacity="0.95"><path d="M3.1 -5.1H29V5.1H3.1A3.1 5.1 0 0 1 3.1 -5.1Z"/><ellipse cx="28" cy="0" rx="4" ry="10.6"/><path d="M28 -10.6L66.7 0L28 10.6Z"/></g>
<g transform="translate(239.5,1025.8) rotate(0)" fill="url(#ag_red_106)" opacity="0.95"><path d="M3.1 -5.1H32.1V5.1H3.1A3.1 5.1 0 0 1 3.1 -5.1Z"/><path d="M31.1 -10.6L74 0L31.1 10.6Z"/></g>
<g transform="translate(359.3,1031.4) rotate(9.2)" fill="url(#ag_red_106)" opacity="0.95"><path d="M3.1 -5.1H28.7V5.1H3.1A3.1 5.1 0 0 1 3.1 -5.1Z"/><ellipse cx="27.7" cy="0" rx="4.2" ry="10.6"/><path d="M27.7 -10.6L66 0L27.7 10.6Z"/></g>
<g transform="translate(452.6,1051.5) rotate(24.1)" fill="url(#ag_red_106)" opacity="0.95"><path d="M4.2 -5.1H18V5.1H4.2A4.2 5.1 0 0 1 4.2 -5.1Z"/><ellipse cx="17" cy="0" rx="8.8" ry="10.6"/><path d="M17 -10.6L40.5 0L17 10.6Z"/></g>
<g transform="translate(484.3,1112.5) rotate(156.1)" fill="url(#ag_red_106f)" opacity="0.95"><path d="M4.1 -5.1H19.3V5.1H4.1A4.1 5.1 0 0 1 4.1 -5.1Z"/><ellipse cx="18.3" cy="0" rx="8.4" ry="10.6"/><path d="M18.3 -10.6L43.5 0L18.3 10.6Z"/></g>
<g transform="translate(410.4,1137.1) rotate(171.9)" fill="url(#ag_red_106f)" opacity="0.95"><path d="M3.1 -5.1H29.4V5.1H3.1A3.1 5.1 0 0 1 3.1 -5.1Z"/><ellipse cx="28.4" cy="0" rx="3.6" ry="10.6"/><path d="M28.4 -10.6L67.6 0L28.4 10.6Z"/></g>
<g transform="translate(311.7,1149.1) rotate(-179.5)" fill="url(#ag_red_106f)" opacity="0.95"><path d="M3.1 -5.1H32.1V5.1H3.1A3.1 5.1 0 0 1 3.1 -5.1Z"/><path d="M31.1 -10.6L74 0L31.1 10.6Z"/></g>
<g transform="translate(199,1144.2) rotate(-171.5)" fill="url(#ag_red_106f)" opacity="0.95"><path d="M3.1 -5.1H29V5.1H3.1A3.1 5.1 0 0 1 3.1 -5.1Z"/><ellipse cx="28" cy="0" rx="4" ry="10.6"/><path d="M28 -10.6L66.6 0L28 10.6Z"/></g>
<g transform="translate(103.9,1125.5) rotate(-154.1)" fill="url(#ag_red_106f)" opacity="0.95"><path d="M4.3 -5.1H16.9V5.1H4.3A4.3 5.1 0 0 1 4.3 -5.1Z"/><ellipse cx="15.9" cy="0" rx="9" ry="10.6"/><path d="M15.9 -10.6L38 0L15.9 10.6Z"/></g>
<g fill="url(#bg_red)" opacity="0.92"><circle cx="498.4" cy="1088.5" r="10.8"/></g>
<g transform="translate(232.5,1251.9) rotate(-7.1)" fill="url(#ag_red_106)" opacity="0.1"><path d="M3.1 -5.1H36.8V5.1H3.1A3.1 5.1 0 0 1 3.1 -5.1Z"/><path d="M35.8 -10.6L85.2 0L35.8 10.6Z"/></g>
<g transform="translate(329.3,1250.2) rotate(171.2)" fill="url(#ag_red_106f)" opacity="0.1"><path d="M3.1 -5.1H37.7V5.1H3.1A3.1 5.1 0 0 1 3.1 -5.1Z"/><path d="M36.7 -10.6L87.3 0L36.7 10.6Z"/></g>
<g transform="translate(193.7,1223.8) rotate(-5.9)" fill="url(#ag_red_106)" opacity="0.62"><path d="M3.1 -5.1H30V5.1H3.1A3.1 5.1 0 0 1 3.1 -5.1Z"/><ellipse cx="29" cy="0" rx="3" ry="10.6"/><path d="M29 -10.6L69 0L29 10.6Z"/></g>
<g transform="translate(302.2,1216) rotate(6.5)" fill="url(#ag_red_106)" opacity="0.62"><path d="M3.1 -5.1H29.6V5.1H3.1A3.1 5.1 0 0 1 3.1 -5.1Z"/><ellipse cx="28.6" cy="0" rx="3.5" ry="10.6"/><path d="M28.6 -10.6L68.1 0L28.6 10.6Z"/></g>
<g transform="translate(385.7,1233.3) rotate(29.5)" fill="url(#ag_red_106)" opacity="0.62"><path d="M4.5 -5.1H15.4V5.1H4.5A4.5 5.1 0 0 1 4.5 -5.1Z"/><ellipse cx="14.4" cy="0" rx="9.3" ry="10.6"/><path d="M14.4 -10.6L34.4 0L14.4 10.6Z"/></g>
<g transform="translate(415.6,1259) rotate(148.1)" fill="url(#ag_red_106f)" opacity="0.62"><path d="M4.4 -5.1H15.8V5.1H4.4A4.4 5.1 0 0 1 4.4 -5.1Z"/><ellipse cx="14.8" cy="0" rx="9.2" ry="10.6"/><path d="M14.8 -10.6L35.3 0L14.8 10.6Z"/></g>
<g transform="translate(363.5,1283.6) rotate(174.1)" fill="url(#ag_red_106f)" opacity="0.62"><path d="M3.1 -5.1H29.6V5.1H3.1A3.1 5.1 0 0 1 3.1 -5.1Z"/><ellipse cx="28.6" cy="0" rx="3.5" ry="10.6"/><path d="M28.6 -10.6L68 0L28.6 10.6Z"/></g>
<g transform="translate(264.2,1288.9) rotate(-174.1)" fill="url(#ag_red_106f)" opacity="0.62"><path d="M3.1 -5.1H29.6V5.1H3.1A3.1 5.1 0 0 1 3.1 -5.1Z"/><ellipse cx="28.6" cy="0" rx="3.5" ry="10.6"/><path d="M28.6 -10.6L68 0L28.6 10.6Z"/></g>
<g transform="translate(172.6,1276.6) rotate(-145.2)" fill="url(#ag_red_106f)" opacity="0.62"><path d="M4.6 -5.1H14V5.1H4.6A4.6 5.1 0 0 1 4.6 -5.1Z"/><ellipse cx="13" cy="0" rx="9.6" ry="10.6"/><path d="M13 -10.6L30.9 0L13 10.6Z"/></g>
<g transform="translate(140.9,1248.4) rotate(-27.6)" fill="url(#ag_red_106)" opacity="0.62"><path d="M4.4 -5.1H16V5.1H4.4A4.4 5.1 0 0 1 4.4 -5.1Z"/><ellipse cx="15" cy="0" rx="9.2" ry="10.6"/><path d="M15 -10.6L35.8 0L15 10.6Z"/></g>
<g fill="url(#bg_red)" opacity="0.92"><circle cx="56.4" cy="1253.7" r="10.8"/></g>
<g transform="translate(72.2,1229) rotate(-22.6)" fill="url(#ag_red_106)" opacity="0.95"><path d="M4.1 -5.1H19.1V5.1H4.1A4.1 5.1 0 0 1 4.1 -5.1Z"/><ellipse cx="18.1" cy="0" rx="8.5" ry="10.6"/><path d="M18.1 -10.6L43.1 0L18.1 10.6Z"/></g>
<g transform="translate(140.9,1202.6) rotate(-7)" fill="url(#ag_red_106)" opacity="0.95"><path d="M3.1 -5.1H29V5.1H3.1A3.1 5.1 0 0 1 3.1 -5.1Z"/><ellipse cx="28" cy="0" rx="4" ry="10.6"/><path d="M28 -10.6L66.7 0L28 10.6Z"/></g>
<g transform="translate(239.5,1191) rotate(0)" fill="url(#ag_red_106)" opacity="0.95"><path d="M3.1 -5.1H32.1V5.1H3.1A3.1 5.1 0 0 1 3.1 -5.1Z"/><path d="M31.1 -10.6L74 0L31.1 10.6Z"/></g>
<g transform="translate(359.3,1196.6) rotate(9.2)" fill="url(#ag_red_106)" opacity="0.95"><path d="M3.1 -5.1H28.7V5.1H3.1A3.1 5.1 0 0 1 3.1 -5.1Z"/><ellipse cx="27.7" cy="0" rx="4.2" ry="10.6"/><path d="M27.7 -10.6L66 0L27.7 10.6Z"/></g>
<g transform="translate(452.6,1216.7) rotate(24.1)" fill="url(#ag_red_106)" opacity="0.95"><path d="M4.2 -5.1H18V5.1H4.2A4.2 5.1 0 0 1 4.2 -5.1Z"/><ellipse cx="17" cy="0" rx="8.8" ry="10.6"/><path d="M17 -10.6L40.5 0L17 10.6Z"/></g>
<g transform="translate(484.3,1277.7) rotate(156.1)" fill="url(#ag_red_106f)" opacity="0.95"><path d="M4.1 -5.1H19.3V5.1H4.1A4.1 5.1 0 0 1 4.1 -5.1Z"/><ellipse cx="18.3" cy="0" rx="8.4" ry="10.6"/><path d="M18.3 -10.6L43.5 0L18.3 10.6Z"/></g>
<g transform="translate(410.4,1302.3) rotate(171.9)" fill="url(#ag_red_106f)" opacity="0.95"><path d="M3.1 -5.1H29.4V5.1H3.1A3.1 5.1 0 0 1 3.1 -5.1Z"/><ellipse cx="28.4" cy="0" rx="3.6" ry="10.6"/><path d="M28.4 -10.6L67.6 0L28.4 10.6Z"/></g>
<g transform="translate(311.7,1314.3) rotate(-179.5)" fill="url(#ag_red_106f)" opacity="0.95"><path d="M3.1 -5.1H32.1V5.1H3.1A3.1 5.1 0 0 1 3.1 -5.1Z"/><path d="M31.1 -10.6L74 0L31.1 10.6Z"/></g>
<g transform="translate(199,1309.4) rotate(-171.5)" fill="url(#ag_red_106f)" opacity="0.95"><path d="M3.1 -5.1H29V5.1H3.1A3.1 5.1 0 0 1 3.1 -5.1Z"/><ellipse cx="28" cy="0" rx="4" ry="10.6"/><path d="M28 -10.6L66.6 0L28 10.6Z"/></g>
<g transform="translate(103.9,1290.7) rotate(-154.1)" fill="url(#ag_red_106f)" opacity="0.95"><path d="M4.3 -5.1H16.9V5.1H4.3A4.3 5.1 0 0 1 4.3 -5.1Z"/><ellipse cx="15.9" cy="0" rx="9" ry="10.6"/><path d="M15.9 -10.6L38 0L15.9 10.6Z"/></g>
<g fill="url(#bg_red)" opacity="0.92"><circle cx="498.4" cy="1253.7" r="10.8"/></g>
<g transform="translate(232.5,1417.1) rotate(-7.1)" fill="url(#ag_red_106)" opacity="0.1"><path d="M3.1 -5.1H36.8V5.1H3.1A3.1 5.1 0 0 1 3.1 -5.1Z"/><path d="M35.8 -10.6L85.2 0L35.8 10.6Z"/></g>
<g transform="translate(329.3,1415.4) rotate(171.2)" fill="url(#ag_red_106f)" opacity="0.1"><path d="M3.1 -5.1H37.7V5.1H3.1A3.1 5.1 0 0 1 3.1 -5.1Z"/><path d="M36.7 -10.6L87.3 0L36.7 10.6Z"/></g>
<g transform="translate(193.7,1389) rotate(-5.9)" fill="url(#ag_red_106)" opacity="0.62"><path d="M3.1 -5.1H30V5.1H3.1A3.1 5.1 0 0 1 3.1 -5.1Z"/><ellipse cx="29" cy="0" rx="3" ry="10.6"/><path d="M29 -10.6L69 0L29 10.6Z"/></g>
<g transform="translate(302.2,1381.2) rotate(6.5)" fill="url(#ag_red_106)" opacity="0.62"><path d="M3.1 -5.1H29.6V5.1H3.1A3.1 5.1 0 0 1 3.1 -5.1Z"/><ellipse cx="28.6" cy="0" rx="3.5" ry="10.6"/><path d="M28.6 -10.6L68.1 0L28.6 10.6Z"/></g>
<g transform="translate(385.7,1398.5) rotate(29.5)" fill="url(#ag_red_106)" opacity="0.62"><path d="M4.5 -5.1H15.4V5.1H4.5A4.5 5.1 0 0 1 4.5 -5.1Z"/><ellipse cx="14.4" cy="0" rx="9.3" ry="10.6"/><path d="M14.4 -10.6L34.4 0L14.4 10.6Z"/></g>
<g transform="translate(415.6,1424.2) rotate(148.1)" fill="url(#ag_red_106f)" opacity="0.62"><path d="M4.4 -5.1H15.8V5.1H4.4A4.4 5.1 0 0 1 4.4 -5.1Z"/><ellipse cx="14.8" cy="0" rx="9.2" ry="10.6"/><path d="M14.8 -10.6L35.3 0L14.8 10.6Z"/></g>
<g transform="translate(363.5,1448.8) rotate(174.1)" fill="url(#ag_red_106f)" opacity="0.62"><path d="M3.1 -5.1H29.6V5.1H3.1A3.1 5.1 0 0 1 3.1 -5.1Z"/><ellipse cx="28.6" cy="0" rx="3.5" ry="10.6"/><path d="M28.6 -10.6L68 0L28.6 10.6Z"/></g>
<g transform="translate(264.2,1454.1) rotate(-174.1)" fill="url(#ag_red_106f)" opacity="0.62"><path d="M3.1 -5.1H29.6V5.1H3.1A3.1 5.1 0 0 1 3.1 -5.1Z"/><ellipse cx="28.6" cy="0" rx="3.5" ry="10.6"/><path d="M28.6 -10.6L68 0L28.6 10.6Z"/></g>
<g transform="translate(172.6,1441.8) rotate(-145.2)" fill="url(#ag_red_106f)" opacity="0.62"><path d="M4.6 -5.1H14V5.1H4.6A4.6 5.1 0 0 1 4.6 -5.1Z"/><ellipse cx="13" cy="0" rx="9.6" ry="10.6"/><path d="M13 -10.6L30.9 0L13 10.6Z"/></g>
<g transform="translate(140.9,1413.6) rotate(-27.6)" fill="url(#ag_red_106)" opacity="0.62"><path d="M4.4 -5.1H16V5.1H4.4A4.4 5.1 0 0 1 4.4 -5.1Z"/><ellipse cx="15" cy="0" rx="9.2" ry="10.6"/><path d="M15 -10.6L35.8 0L15 10.6Z"/></g>
<g fill="url(#bg_red)" opacity="0.92"><circle cx="56.4" cy="1418.9" r="10.8"/></g>
<g transform="translate(72.2,1394.2) rotate(-22.6)" fill="url(#ag_red_106)" opacity="0.95"><path d="M4.1 -5.1H19.1V5.1H4.1A4.1 5.1 0 0 1 4.1 -5.1Z"/><ellipse cx="18.1" cy="0" rx="8.5" ry="10.6"/><path d="M18.1 -10.6L43.1 0L18.1 10.6Z"/></g>
<g transform="translate(140.9,1367.8) rotate(-7)" fill="url(#ag_red_106)" opacity="0.95"><path d="M3.1 -5.1H29V5.1H3.1A3.1 5.1 0 0 1 3.1 -5.1Z"/><ellipse cx="28" cy="0" rx="4" ry="10.6"/><path d="M28 -10.6L66.7 0L28 10.6Z"/></g>
<g transform="translate(239.5,1356.2) rotate(0)" fill="url(#ag_red_106)" opacity="0.95"><path d="M3.1 -5.1H32.1V5.1H3.1A3.1 5.1 0 0 1 3.1 -5.1Z"/><path d="M31.1 -10.6L74 0L31.1 10.6Z"/></g>
<g transform="translate(359.3,1361.8) rotate(9.2)" fill="url(#ag_red_106)" opacity="0.95"><path d="M3.1 -5.1H28.7V5.1H3.1A3.1 5.1 0 0 1 3.1 -5.1Z"/><ellipse cx="27.7" cy="0" rx="4.2" ry="10.6"/><path d="M27.7 -10.6L66 0L27.7 10.6Z"/></g>
<g transform="translate(452.6,1381.9) rotate(24.1)" fill="url(#ag_red_106)" opacity="0.95"><path d="M4.2 -5.1H18V5.1H4.2A4.2 5.1 0 0 1 4.2 -5.1Z"/><ellipse cx="17" cy="0" rx="8.8" ry="10.6"/><path d="M17 -10.6L40.5 0L17 10.6Z"/></g>
<g transform="translate(484.3,1442.9) rotate(156.1)" fill="url(#ag_red_106f)" opacity="0.95"><path d="M4.1 -5.1H19.3V5.1H4.1A4.1 5.1 0 0 1 4.1 -5.1Z"/><ellipse cx="18.3" cy="0" rx="8.4" ry="10.6"/><path d="M18.3 -10.6L43.5 0L18.3 10.6Z"/></g>
<g transform="translate(410.4,1467.5) rotate(171.9)" fill="url(#ag_red_106f)" opacity="0.95"><path d="M3.1 -5.1H29.4V5.1H3.1A3.1 5.1 0 0 1 3.1 -5.1Z"/><ellipse cx="28.4" cy="0" rx="3.6" ry="10.6"/><path d="M28.4 -10.6L67.6 0L28.4 10.6Z"/></g>
<g transform="translate(311.7,1479.5) rotate(-179.5)" fill="url(#ag_red_106f)" opacity="0.95"><path d="M3.1 -5.1H32.1V5.1H3.1A3.1 5.1 0 0 1 3.1 -5.1Z"/><path d="M31.1 -10.6L74 0L31.1 10.6Z"/></g>
<g transform="translate(199,1474.6) rotate(-171.5)" fill="url(#ag_red_106f)" opacity="0.95"><path d="M3.1 -5.1H29V5.1H3.1A3.1 5.1 0 0 1 3.1 -5.1Z"/><ellipse cx="28" cy="0" rx="4" ry="10.6"/><path d="M28 -10.6L66.6 0L28 10.6Z"/></g>
<g transform="translate(103.9,1455.9) rotate(-154.1)" fill="url(#ag_red_106f)" opacity="0.95"><path d="M4.3 -5.1H16.9V5.1H4.3A4.3 5.1 0 0 1 4.3 -5.1Z"/><ellipse cx="15.9" cy="0" rx="9" ry="10.6"/><path d="M15.9 -10.6L38 0L15.9 10.6Z"/></g>
<g fill="url(#bg_red)" opacity="0.92"><circle cx="498.4" cy="1418.9" r="10.8"/></g>
<g transform="translate(232.5,1582.3) rotate(-7.1)" fill="url(#ag_red_106)" opacity="0.1"><path d="M3.1 -5.1H36.8V5.1H3.1A3.1 5.1 0 0 1 3.1 -5.1Z"/><path d="M35.8 -10.6L85.2 0L35.8 10.6Z"/></g>
<g transform="translate(329.3,1580.6) rotate(171.2)" fill="url(#ag_red_106f)" opacity="0.1"><path d="M3.1 -5.1H37.7V5.1H3.1A3.1 5.1 0 0 1 3.1 -5.1Z"/><path d="M36.7 -10.6L87.3 0L36.7 10.6Z"/></g>
<g transform="translate(193.7,1554.2) rotate(-5.9)" fill="url(#ag_red_106)" opacity="0.62"><path d="M3.1 -5.1H30V5.1H3.1A3.1 5.1 0 0 1 3.1 -5.1Z"/><ellipse cx="29" cy="0" rx="3" ry="10.6"/><path d="M29 -10.6L69 0L29 10.6Z"/></g>
<g transform="translate(302.2,1546.4) rotate(6.5)" fill="url(#ag_red_106)" opacity="0.62"><path d="M3.1 -5.1H29.6V5.1H3.1A3.1 5.1 0 0 1 3.1 -5.1Z"/><ellipse cx="28.6" cy="0" rx="3.5" ry="10.6"/><path d="M28.6 -10.6L68.1 0L28.6 10.6Z"/></g>
<g transform="translate(385.7,1563.7) rotate(29.5)" fill="url(#ag_red_106)" opacity="0.62"><path d="M4.5 -5.1H15.4V5.1H4.5A4.5 5.1 0 0 1 4.5 -5.1Z"/><ellipse cx="14.4" cy="0" rx="9.3" ry="10.6"/><path d="M14.4 -10.6L34.4 0L14.4 10.6Z"/></g>
<g transform="translate(415.6,1589.4) rotate(148.1)" fill="url(#ag_red_106f)" opacity="0.62"><path d="M4.4 -5.1H15.8V5.1H4.4A4.4 5.1 0 0 1 4.4 -5.1Z"/><ellipse cx="14.8" cy="0" rx="9.2" ry="10.6"/><path d="M14.8 -10.6L35.3 0L14.8 10.6Z"/></g>
<g transform="translate(363.5,1614) rotate(174.1)" fill="url(#ag_red_106f)" opacity="0.62"><path d="M3.1 -5.1H29.6V5.1H3.1A3.1 5.1 0 0 1 3.1 -5.1Z"/><ellipse cx="28.6" cy="0" rx="3.5" ry="10.6"/><path d="M28.6 -10.6L68 0L28.6 10.6Z"/></g>
<g transform="translate(264.2,1619.3) rotate(-174.1)" fill="url(#ag_red_106f)" opacity="0.62"><path d="M3.1 -5.1H29.6V5.1H3.1A3.1 5.1 0 0 1 3.1 -5.1Z"/><ellipse cx="28.6" cy="0" rx="3.5" ry="10.6"/><path d="M28.6 -10.6L68 0L28.6 10.6Z"/></g>
<g transform="translate(172.6,1607) rotate(-145.2)" fill="url(#ag_red_106f)" opacity="0.62"><path d="M4.6 -5.1H14V5.1H4.6A4.6 5.1 0 0 1 4.6 -5.1Z"/><ellipse cx="13" cy="0" rx="9.6" ry="10.6"/><path d="M13 -10.6L30.9 0L13 10.6Z"/></g>
<g transform="translate(140.9,1578.8) rotate(-27.6)" fill="url(#ag_red_106)" opacity="0.62"><path d="M4.4 -5.1H16V5.1H4.4A4.4 5.1 0 0 1 4.4 -5.1Z"/><ellipse cx="15" cy="0" rx="9.2" ry="10.6"/><path d="M15 -10.6L35.8 0L15 10.6Z"/></g>
<g fill="url(#bg_red)" opacity="0.92"><circle cx="56.4" cy="1584.1" r="10.8"/></g>
<g transform="translate(72.2,1559.4) rotate(-22.6)" fill="url(#ag_red_106)" opacity="0.95"><path d="M4.1 -5.1H19.1V5.1H4.1A4.1 5.1 0 0 1 4.1 -5.1Z"/><ellipse cx="18.1" cy="0" rx="8.5" ry="10.6"/><path d="M18.1 -10.6L43.1 0L18.1 10.6Z"/></g>
<g transform="translate(140.9,1533) rotate(-7)" fill="url(#ag_red_106)" opacity="0.95"><path d="M3.1 -5.1H29V5.1H3.1A3.1 5.1 0 0 1 3.1 -5.1Z"/><ellipse cx="28" cy="0" rx="4" ry="10.6"/><path d="M28 -10.6L66.7 0L28 10.6Z"/></g>
<g transform="translate(239.5,1521.4) rotate(0)" fill="url(#ag_red_106)" opacity="0.95"><path d="M3.1 -5.1H32.1V5.1H3.1A3.1 5.1 0 0 1 3.1 -5.1Z"/><path d="M31.1 -10.6L74 0L31.1 10.6Z"/></g>
<g transform="translate(359.3,1527) rotate(9.2)" fill="url(#ag_red_106)" opacity="0.95"><path d="M3.1 -5.1H28.7V5.1H3.1A3.1 5.1 0 0 1 3.1 -5.1Z"/><ellipse cx="27.7" cy="0" rx="4.2" ry="10.6"/><path d="M27.7 -10.6L66 0L27.7 10.6Z"/></g>
<g transform="translate(452.6,1547.1) rotate(24.1)" fill="url(#ag_red_106)" opacity="0.95"><path d="M4.2 -5.1H18V5.1H4.2A4.2 5.1 0 0 1 4.2 -5.1Z"/><ellipse cx="17" cy="0" rx="8.8" ry="10.6"/><path d="M17 -10.6L40.5 0L17 10.6Z"/></g>
<g transform="translate(484.3,1608.1) rotate(156.1)" fill="url(#ag_red_106f)" opacity="0.95"><path d="M4.1 -5.1H19.3V5.1H4.1A4.1 5.1 0 0 1 4.1 -5.1Z"/><ellipse cx="18.3" cy="0" rx="8.4" ry="10.6"/><path d="M18.3 -10.6L43.5 0L18.3 10.6Z"/></g>
<g transform="translate(410.4,1632.7) rotate(171.9)" fill="url(#ag_red_106f)" opacity="0.95"><path d="M3.1 -5.1H29.4V5.1H3.1A3.1 5.1 0 0 1 3.1 -5.1Z"/><ellipse cx="28.4" cy="0" rx="3.6" ry="10.6"/><path d="M28.4 -10.6L67.6 0L28.4 10.6Z"/></g>
<g transform="translate(311.7,1644.7) rotate(-179.5)" fill="url(#ag_red_106f)" opacity="0.95"><path d="M3.1 -5.1H32.1V5.1H3.1A3.1 5.1 0 0 1 3.1 -5.1Z"/><path d="M31.1 -10.6L74 0L31.1 10.6Z"/></g>
<g transform="translate(199,1639.8) rotate(-171.5)" fill="url(#ag_red_106f)" opacity="0.95"><path d="M3.1 -5.1H29V5.1H3.1A3.1 5.1 0 0 1 3.1 -5.1Z"/><ellipse cx="28" cy="0" rx="4" ry="10.6"/><path d="M28 -10.6L66.6 0L28 10.6Z"/></g>
<g transform="translate(103.9,1621.1) rotate(-154.1)" fill="url(#ag_red_106f)" opacity="0.95"><path d="M4.3 -5.1H16.9V5.1H4.3A4.3 5.1 0 0 1 4.3 -5.1Z"/><ellipse cx="15.9" cy="0" rx="9" ry="10.6"/><path d="M15.9 -10.6L38 0L15.9 10.6Z"/></g>
<g fill="url(#bg_red)" opacity="0.92"><circle cx="498.4" cy="1584.1" r="10.8"/></g>
<g transform="translate(232.5,1747.5) rotate(-7.1)" fill="url(#ag_red_106)" opacity="0.1"><path d="M3.1 -5.1H36.8V5.1H3.1A3.1 5.1 0 0 1 3.1 -5.1Z"/><path d="M35.8 -10.6L85.2 0L35.8 10.6Z"/></g>
<g transform="translate(329.3,1745.8) rotate(171.2)" fill="url(#ag_red_106f)" opacity="0.1"><path d="M3.1 -5.1H37.7V5.1H3.1A3.1 5.1 0 0 1 3.1 -5.1Z"/><path d="M36.7 -10.6L87.3 0L36.7 10.6Z"/></g>
<g transform="translate(193.7,1719.4) rotate(-5.9)" fill="url(#ag_red_106)" opacity="0.62"><path d="M3.1 -5.1H30V5.1H3.1A3.1 5.1 0 0 1 3.1 -5.1Z"/><ellipse cx="29" cy="0" rx="3" ry="10.6"/><path d="M29 -10.6L69 0L29 10.6Z"/></g>
<g transform="translate(302.2,1711.6) rotate(6.5)" fill="url(#ag_red_106)" opacity="0.62"><path d="M3.1 -5.1H29.6V5.1H3.1A3.1 5.1 0 0 1 3.1 -5.1Z"/><ellipse cx="28.6" cy="0" rx="3.5" ry="10.6"/><path d="M28.6 -10.6L68.1 0L28.6 10.6Z"/></g>
<g transform="translate(385.7,1728.9) rotate(29.5)" fill="url(#ag_red_106)" opacity="0.62"><path d="M4.5 -5.1H15.4V5.1H4.5A4.5 5.1 0 0 1 4.5 -5.1Z"/><ellipse cx="14.4" cy="0" rx="9.3" ry="10.6"/><path d="M14.4 -10.6L34.4 0L14.4 10.6Z"/></g>
<g transform="translate(415.6,1754.6) rotate(148.1)" fill="url(#ag_red_106f)" opacity="0.62"><path d="M4.4 -5.1H15.8V5.1H4.4A4.4 5.1 0 0 1 4.4 -5.1Z"/><ellipse cx="14.8" cy="0" rx="9.2" ry="10.6"/><path d="M14.8 -10.6L35.3 0L14.8 10.6Z"/></g>
<g transform="translate(363.5,1779.2) rotate(174.1)" fill="url(#ag_red_106f)" opacity="0.62"><path d="M3.1 -5.1H29.6V5.1H3.1A3.1 5.1 0 0 1 3.1 -5.1Z"/><ellipse cx="28.6" cy="0" rx="3.5" ry="10.6"/><path d="M28.6 -10.6L68 0L28.6 10.6Z"/></g>
<g transform="translate(264.2,1784.5) rotate(-174.1)" fill="url(#ag_red_106f)" opacity="0.62"><path d="M3.1 -5.1H29.6V5.1H3.1A3.1 5.1 0 0 1 3.1 -5.1Z"/><ellipse cx="28.6" cy="0" rx="3.5" ry="10.6"/><path d="M28.6 -10.6L68 0L28.6 10.6Z"/></g>
<g transform="translate(172.6,1772.2) rotate(-145.2)" fill="url(#ag_red_106f)" opacity="0.62"><path d="M4.6 -5.1H14V5.1H4.6A4.6 5.1 0 0 1 4.6 -5.1Z"/><ellipse cx="13" cy="0" rx="9.6" ry="10.6"/><path d="M13 -10.6L30.9 0L13 10.6Z"/></g>
<g transform="translate(140.9,1744) rotate(-27.6)" fill="url(#ag_red_106)" opacity="0.62"><path d="M4.4 -5.1H16V5.1H4.4A4.4 5.1 0 0 1 4.4 -5.1Z"/><ellipse cx="15" cy="0" rx="9.2" ry="10.6"/><path d="M15 -10.6L35.8 0L15 10.6Z"/></g>
<g fill="url(#bg_red)" opacity="0.92"><circle cx="56.4" cy="1749.3" r="10.8"/></g>
<g transform="translate(72.2,1724.6) rotate(-22.6)" fill="url(#ag_red_106)" opacity="0.95"><path d="M4.1 -5.1H19.1V5.1H4.1A4.1 5.1 0 0 1 4.1 -5.1Z"/><ellipse cx="18.1" cy="0" rx="8.5" ry="10.6"/><path d="M18.1 -10.6L43.1 0L18.1 10.6Z"/></g>
<g transform="translate(140.9,1698.2) rotate(-7)" fill="url(#ag_red_106)" opacity="0.95"><path d="M3.1 -5.1H29V5.1H3.1A3.1 5.1 0 0 1 3.1 -5.1Z"/><ellipse cx="28" cy="0" rx="4" ry="10.6"/><path d="M28 -10.6L66.7 0L28 10.6Z"/></g>
<g transform="translate(239.5,1686.6) rotate(0)" fill="url(#ag_red_106)" opacity="0.95"><path d="M3.1 -5.1H32.1V5.1H3.1A3.1 5.1 0 0 1 3.1 -5.1Z"/><path d="M31.1 -10.6L74 0L31.1 10.6Z"/></g>
<g transform="translate(359.3,1692.2) rotate(9.2)" fill="url(#ag_red_106)" opacity="0.95"><path d="M3.1 -5.1H28.7V5.1H3.1A3.1 5.1 0 0 1 3.1 -5.1Z"/><ellipse cx="27.7" cy="0" rx="4.2" ry="10.6"/><path d="M27.7 -10.6L66 0L27.7 10.6Z"/></g>
<g transform="translate(452.6,1712.3) rotate(24.1)" fill="url(#ag_red_106)" opacity="0.95"><path d="M4.2 -5.1H18V5.1H4.2A4.2 5.1 0 0 1 4.2 -5.1Z"/><ellipse cx="17" cy="0" rx="8.8" ry="10.6"/><path d="M17 -10.6L40.5 0L17 10.6Z"/></g>
<g transform="translate(484.3,1773.3) rotate(156.1)" fill="url(#ag_red_106f)" opacity="0.95"><path d="M4.1 -5.1H19.3V5.1H4.1A4.1 5.1 0 0 1 4.1 -5.1Z"/><ellipse cx="18.3" cy="0" rx="8.4" ry="10.6"/><path d="M18.3 -10.6L43.5 0L18.3 10.6Z"/></g>
<g transform="translate(410.4,1797.9) rotate(171.9)" fill="url(#ag_red_106f)" opacity="0.95"><path d="M3.1 -5.1H29.4V5.1H3.1A3.1 5.1 0 0 1 3.1 -5.1Z"/><ellipse cx="28.4" cy="0" rx="3.6" ry="10.6"/><path d="M28.4 -10.6L67.6 0L28.4 10.6Z"/></g>
<g transform="translate(311.7,1809.9) rotate(-179.5)" fill="url(#ag_red_106f)" opacity="0.95"><path d="M3.1 -5.1H32.1V5.1H3.1A3.1 5.1 0 0 1 3.1 -5.1Z"/><path d="M31.1 -10.6L74 0L31.1 10.6Z"/></g>
<g transform="translate(199,1805) rotate(-171.5)" fill="url(#ag_red_106f)" opacity="0.95"><path d="M3.1 -5.1H29V5.1H3.1A3.1 5.1 0 0 1 3.1 -5.1Z"/><ellipse cx="28" cy="0" rx="4" ry="10.6"/><path d="M28 -10.6L66.6 0L28 10.6Z"/></g>
<g transform="translate(103.9,1786.3) rotate(-154.1)" fill="url(#ag_red_106f)" opacity="0.95"><path d="M4.3 -5.1H16.9V5.1H4.3A4.3 5.1 0 0 1 4.3 -5.1Z"/><ellipse cx="15.9" cy="0" rx="9" ry="10.6"/><path d="M15.9 -10.6L38 0L15.9 10.6Z"/></g>
<g fill="url(#bg_red)" opacity="0.92"><circle cx="498.4" cy="1749.3" r="10.8"/></g>
</g>
<g filter="url(#soft)">
<g transform="translate(790.9,1062.1) rotate(-15.2)" fill="url(#ag_blue_106)" opacity="0.88"><path d="M3.4 -5.1H23.5V5.1H3.4A3.4 5.1 0 0 1 3.4 -5.1Z"/><ellipse cx="22.5" cy="0" rx="7.1" ry="10.6"/><path d="M22.5 -10.6L53.7 0L22.5 10.6Z"/></g>
<g transform="translate(877.9,1041) rotate(-5)" fill="url(#ag_blue_106)" opacity="0.88"><path d="M3.1 -5.1H30V5.1H3.1A3.1 5.1 0 0 1 3.1 -5.1Z"/><ellipse cx="29" cy="0" rx="3.1" ry="10.6"/><path d="M29 -10.6L68.9 0L29 10.6Z"/></g>
<g transform="translate(994.1,1035) rotate(4)" fill="url(#ag_blue_106)" opacity="0.88"><path d="M3.1 -5.1H30.7V5.1H3.1A3.1 5.1 0 0 1 3.1 -5.1Z"/><ellipse cx="29.7" cy="0" rx="2.1" ry="10.6"/><path d="M29.7 -10.6L70.6 0L29.7 10.6Z"/></g>
<g transform="translate(1098,1045.5) rotate(14.5)" fill="url(#ag_blue_106)" opacity="0.88"><path d="M3.2 -5.1H24.7V5.1H3.2A3.2 5.1 0 0 1 3.2 -5.1Z"/><ellipse cx="23.7" cy="0" rx="6.6" ry="10.6"/><path d="M23.7 -10.6L56.4 0L23.7 10.6Z"/></g>
<g transform="translate(842.7,1092) rotate(-32.6)" fill="url(#ag_blue_106)" opacity="0.88"><path d="M4.6 -5.1H14.2V5.1H4.6A4.6 5.1 0 0 1 4.6 -5.1Z"/><ellipse cx="13.2" cy="0" rx="9.5" ry="10.6"/><path d="M13.2 -10.6L31.4 0L13.2 10.6Z"/></g>
<g transform="translate(886.7,1067.4) rotate(-5.4)" fill="url(#ag_blue_106)" opacity="0.88"><path d="M3.1 -5.1H29.2V5.1H3.1A3.1 5.1 0 0 1 3.1 -5.1Z"/><ellipse cx="28.2" cy="0" rx="3.8" ry="10.6"/><path d="M28.2 -10.6L67.2 0L28.2 10.6Z"/></g>
<g transform="translate(983.6,1059.6) rotate(5.1)" fill="url(#ag_blue_106)" opacity="0.88"><path d="M3.1 -5.1H29.2V5.1H3.1A3.1 5.1 0 0 1 3.1 -5.1Z"/><ellipse cx="28.2" cy="0" rx="3.8" ry="10.6"/><path d="M28.2 -10.6L67.2 0L28.2 10.6Z"/></g>
<g transform="translate(1075.1,1072.7) rotate(30.4)" fill="url(#ag_blue_106)" opacity="0.88"><path d="M4.5 -5.1H14.7V5.1H4.5A4.5 5.1 0 0 1 4.5 -5.1Z"/><ellipse cx="13.7" cy="0" rx="9.4" ry="10.6"/><path d="M13.7 -10.6L32.7 0L13.7 10.6Z"/></g>
<g fill="url(#bg_blue)" opacity="0.88"><circle cx="763.4" cy="1083.2" r="10.8"/></g>
<g fill="url(#bg_blue)" opacity="0.88"><circle cx="1177.3" cy="1076.2" r="10.8"/></g>
<g transform="translate(918.4,1092.7) rotate(-12.9)" fill="url(#ag_blue_106)" opacity="0.7"><path d="M3.6 -5.1H22.2V5.1H3.6A3.6 5.1 0 0 1 3.6 -5.1Z"/><ellipse cx="21.2" cy="0" rx="7.5" ry="10.6"/><path d="M21.2 -10.6L50.6 0L21.2 10.6Z"/></g>
<g transform="translate(978.3,1081.5) rotate(12.7)" fill="url(#ag_blue_106)" opacity="0.7"><path d="M3.2 -5.1H24.5V5.1H3.2A3.2 5.1 0 0 1 3.2 -5.1Z"/><ellipse cx="23.5" cy="0" rx="6.7" ry="10.6"/><path d="M23.5 -10.6L56 0L23.5 10.6Z"/></g>
<g transform="translate(895.5,1210) rotate(-27.8)" fill="url(#ag_blue_106)" opacity="0.88"><path d="M4.3 -5.1H16.9V5.1H4.3A4.3 5.1 0 0 1 4.3 -5.1Z"/><ellipse cx="15.9" cy="0" rx="9" ry="10.6"/><path d="M15.9 -10.6L37.8 0L15.9 10.6Z"/></g>
<g transform="translate(997.6,1206.5) rotate(-9.7)" fill="url(#ag_blue_106)" opacity="0.88"><path d="M3.1 -5.1H27.3V5.1H3.1A3.1 5.1 0 0 1 3.1 -5.1Z"/><ellipse cx="26.3" cy="0" rx="5.3" ry="10.6"/><path d="M26.3 -10.6L62.5 0L26.3 10.6Z"/></g>
<g transform="translate(906.1,1234.7) rotate(-29.4)" fill="url(#ag_blue_106)" opacity="0.88"><path d="M4.6 -5.1H14.6V5.1H4.6A4.6 5.1 0 0 1 4.6 -5.1Z"/><ellipse cx="13.6" cy="0" rx="9.5" ry="10.6"/><path d="M13.6 -10.6L32.3 0L13.6 10.6Z"/></g>
<g transform="translate(983.6,1229.4) rotate(-6.6)" fill="url(#ag_blue_106)" opacity="0.88"><path d="M3.1 -5.1H29.3V5.1H3.1A3.1 5.1 0 0 1 3.1 -5.1Z"/><ellipse cx="28.3" cy="0" rx="3.7" ry="10.6"/><path d="M28.3 -10.6L67.4 0L28.3 10.6Z"/></g>
<g transform="translate(1089.2,1216) rotate(-2)" fill="url(#ag_blue_106)" opacity="0.88"><path d="M3.1 -5.1H31.3V5.1H3.1A3.1 5.1 0 0 1 3.1 -5.1Z"/><path d="M30.3 -10.6L72.3 0L30.3 10.6Z"/></g>
<g transform="translate(784.5,1252.3) rotate(-159.1)" fill="url(#ag_blue_106f)" opacity="0.88"><path d="M4.3 -5.1H17.6V5.1H4.3A4.3 5.1 0 0 1 4.3 -5.1Z"/><ellipse cx="16.6" cy="0" rx="8.9" ry="10.6"/><path d="M16.6 -10.6L39.6 0L16.6 10.6Z"/></g>
<g transform="translate(872.6,1254.1) rotate(-152.1)" fill="url(#ag_blue_106f)" opacity="0.88"><path d="M4.5 -5.1H15.2V5.1H4.5A4.5 5.1 0 0 1 4.5 -5.1Z"/><ellipse cx="14.2" cy="0" rx="9.4" ry="10.6"/><path d="M14.2 -10.6L33.9 0L14.2 10.6Z"/></g>
<g transform="translate(969.5,1250.5) rotate(-0.6)" fill="url(#ag_blue_106)" opacity="0.88"><path d="M3.1 -5.1H30.6V5.1H3.1A3.1 5.1 0 0 1 3.1 -5.1Z"/><ellipse cx="29.6" cy="0" rx="2.2" ry="10.6"/><path d="M29.6 -10.6L70.5 0L29.6 10.6Z"/></g>
<g transform="translate(1054,1240.7) rotate(5.4)" fill="url(#ag_blue_106)" opacity="0.88"><path d="M3.1 -5.1H29.2V5.1H3.1A3.1 5.1 0 0 1 3.1 -5.1Z"/><ellipse cx="28.2" cy="0" rx="3.8" ry="10.6"/><path d="M28.2 -10.6L67.2 0L28.2 10.6Z"/></g>
<g transform="translate(1145.6,1235.7) rotate(7)" fill="url(#ag_blue_106)" opacity="0.88"><path d="M3.1 -5.1H27.8V5.1H3.1A3.1 5.1 0 0 1 3.1 -5.1Z"/><ellipse cx="26.8" cy="0" rx="4.9" ry="10.6"/><path d="M26.8 -10.6L63.9 0L26.8 10.6Z"/></g>
<g fill="url(#bg_blue)" opacity="0.88"><circle cx="818" cy="1219.5" r="10.8"/></g>
<g fill="url(#bg_blue)" opacity="0.88"><circle cx="944.8" cy="1251.2" r="10.8"/></g>
<g transform="translate(844.4,1388.1) rotate(-164.6)" fill="url(#ag_blue_106f)" opacity="0.88"><path d="M3.5 -5.1H23.3V5.1H3.5A3.5 5.1 0 0 1 3.5 -5.1Z"/><ellipse cx="22.3" cy="0" rx="7.2" ry="10.6"/><path d="M22.3 -10.6L53 0L22.3 10.6Z"/></g>
<g transform="translate(1101.5,1386.4) rotate(-15.9)" fill="url(#ag_blue_106)" opacity="0.88"><path d="M3.6 -5.1H22.5V5.1H3.6A3.6 5.1 0 0 1 3.6 -5.1Z"/><ellipse cx="21.5" cy="0" rx="7.4" ry="10.6"/><path d="M21.5 -10.6L51.3 0L21.5 10.6Z"/></g>
<g transform="translate(800.4,1410.3) rotate(-176.3)" fill="url(#ag_blue_106f)" opacity="0.88"><path d="M3.1 -5.1H30.7V5.1H3.1A3.1 5.1 0 0 1 3.1 -5.1Z"/><ellipse cx="29.7" cy="0" rx="2.1" ry="10.6"/><path d="M29.7 -10.6L70.6 0L29.7 10.6Z"/></g>
<g transform="translate(890.2,1413.8) rotate(-173.1)" fill="url(#ag_blue_106f)" opacity="0.88"><path d="M3.1 -5.1H29.3V5.1H3.1A3.1 5.1 0 0 1 3.1 -5.1Z"/><ellipse cx="28.3" cy="0" rx="3.7" ry="10.6"/><path d="M28.3 -10.6L67.4 0L28.3 10.6Z"/></g>
<g transform="translate(920.1,1398.7) rotate(22.8)" fill="url(#ag_blue_106)" opacity="0.88"><path d="M3.1 -5.1H25.1V5.1H3.1A3.1 5.1 0 0 1 3.1 -5.1Z"/><ellipse cx="24.1" cy="0" rx="6.4" ry="10.6"/><path d="M24.1 -10.6L57.3 0L24.1 10.6Z"/></g>
<g transform="translate(1032.9,1398.7) rotate(157.2)" fill="url(#ag_blue_106f)" opacity="0.88"><path d="M3.1 -5.1H25.1V5.1H3.1A3.1 5.1 0 0 1 3.1 -5.1Z"/><ellipse cx="24.1" cy="0" rx="6.4" ry="10.6"/><path d="M24.1 -10.6L57.3 0L24.1 10.6Z"/></g>
<g transform="translate(1055.8,1411.7) rotate(-6.8)" fill="url(#ag_blue_106)" opacity="0.88"><path d="M3.1 -5.1H28.6V5.1H3.1A3.1 5.1 0 0 1 3.1 -5.1Z"/><ellipse cx="27.6" cy="0" rx="4.4" ry="10.6"/><path d="M27.6 -10.6L65.6 0L27.6 10.6Z"/></g>
<g transform="translate(1143.8,1405.7) rotate(-4.4)" fill="url(#ag_blue_106)" opacity="0.88"><path d="M3.1 -5.1H29.9V5.1H3.1A3.1 5.1 0 0 1 3.1 -5.1Z"/><ellipse cx="28.9" cy="0" rx="3.1" ry="10.6"/><path d="M28.9 -10.6L68.9 0L28.9 10.6Z"/></g>
<g transform="translate(921.9,1395.2) rotate(-130.6)" fill="url(#ag_blue_106f)" opacity="0.88"><path d="M3.4 -5.1H7.8V5.1H3.4A3.4 5.1 0 0 1 3.4 -5.1Z"/><ellipse cx="6.8" cy="0" rx="10.3" ry="10.6"/><path d="M6.8 -10.6L16.2 0L6.8 10.6Z"/></g>
<g transform="translate(1013.5,1395.2) rotate(-54.5)" fill="url(#ag_blue_106)" opacity="0.88"><path d="M3.2 -5.1H7.4V5.1H3.2A3.2 5.1 0 0 1 3.2 -5.1Z"/><ellipse cx="6.4" cy="0" rx="10.4" ry="10.6"/><path d="M6.4 -10.6L15.2 0L6.4 10.6Z"/></g>
<g fill="url(#bg_blue)" opacity="0.88"><circle cx="914.9" cy="1367" r="10.8"/></g>
<g fill="url(#bg_blue)" opacity="0.88"><circle cx="1027.6" cy="1367" r="10.8"/></g>
<g transform="translate(946.6,1534.3) rotate(-170.5)" fill="url(#ag_blue_106f)" opacity="0.88"><path d="M3.1 -5.1H28V5.1H3.1A3.1 5.1 0 0 1 3.1 -5.1Z"/><ellipse cx="27" cy="0" rx="4.8" ry="10.6"/><path d="M27 -10.6L64.3 0L27 10.6Z"/></g>
<g transform="translate(1048.7,1537.8) rotate(-155.8)" fill="url(#ag_blue_106f)" opacity="0.88"><path d="M4.3 -5.1H17.2V5.1H4.3A4.3 5.1 0 0 1 4.3 -5.1Z"/><ellipse cx="16.2" cy="0" rx="8.9" ry="10.6"/><path d="M16.2 -10.6L38.6 0L16.2 10.6Z"/></g>
<g transform="translate(853.2,1545.6) rotate(180)" fill="url(#ag_blue_106f)" opacity="0.88"><path d="M3.1 -5.1H29.8V5.1H3.1A3.1 5.1 0 0 1 3.1 -5.1Z"/><ellipse cx="28.8" cy="0" rx="3.2" ry="10.6"/><path d="M28.8 -10.6L68.7 0L28.8 10.6Z"/></g>
<g transform="translate(953.6,1559) rotate(-173.2)" fill="url(#ag_blue_106f)" opacity="0.88"><path d="M3.1 -5.1H28.6V5.1H3.1A3.1 5.1 0 0 1 3.1 -5.1Z"/><ellipse cx="27.6" cy="0" rx="4.4" ry="10.6"/><path d="M27.6 -10.6L65.6 0L27.6 10.6Z"/></g>
<g transform="translate(1031.1,1562.5) rotate(-147.3)" fill="url(#ag_blue_106f)" opacity="0.88"><path d="M4.7 -5.1H13.3V5.1H4.7A4.7 5.1 0 0 1 4.7 -5.1Z"/><ellipse cx="12.3" cy="0" rx="9.7" ry="10.6"/><path d="M12.3 -10.6L29.3 0L12.3 10.6Z"/></g>
<g transform="translate(795.1,1569.5) rotate(171.6)" fill="url(#ag_blue_106f)" opacity="0.88"><path d="M3.1 -5.1H26.4V5.1H3.1A3.1 5.1 0 0 1 3.1 -5.1Z"/><ellipse cx="25.4" cy="0" rx="5.7" ry="10.6"/><path d="M25.4 -10.6L60.5 0L25.4 10.6Z"/></g>
<g transform="translate(890.2,1571.3) rotate(173.8)" fill="url(#ag_blue_106f)" opacity="0.88"><path d="M3.1 -5.1H28.5V5.1H3.1A3.1 5.1 0 0 1 3.1 -5.1Z"/><ellipse cx="27.5" cy="0" rx="4.4" ry="10.6"/><path d="M27.5 -10.6L65.5 0L27.5 10.6Z"/></g>
<g transform="translate(981.8,1578.3) rotate(180)" fill="url(#ag_blue_106f)" opacity="0.88"><path d="M3.1 -5.1H31.3V5.1H3.1A3.1 5.1 0 0 1 3.1 -5.1Z"/><path d="M30.3 -10.6L72.2 0L30.3 10.6Z"/></g>
<g transform="translate(1076.9,1581.8) rotate(-35.5)" fill="url(#ag_blue_106)" opacity="0.88"><path d="M4.6 -5.1H13.7V5.1H4.6A4.6 5.1 0 0 1 4.6 -5.1Z"/><ellipse cx="12.7" cy="0" rx="9.6" ry="10.6"/><path d="M12.7 -10.6L30.3 0L12.7 10.6Z"/></g>
<g transform="translate(1163.2,1576.6) rotate(-26.6)" fill="url(#ag_blue_106)" opacity="0.88"><path d="M4.4 -5.1H15.9V5.1H4.4A4.4 5.1 0 0 1 4.4 -5.1Z"/><ellipse cx="14.9" cy="0" rx="9.2" ry="10.6"/><path d="M14.9 -10.6L35.4 0L14.9 10.6Z"/></g>
<g fill="url(#bg_blue)" opacity="0.88"><circle cx="1126.9" cy="1545.6" r="10.8"/></g>
<g fill="url(#bg_blue)" opacity="0.88"><circle cx="1005.7" cy="1578.3" r="10.8"/></g>
<g transform="translate(844.4,1701.6) rotate(166.4)" fill="url(#ag_gray_106f)" opacity="0.95"><path d="M3.5 -5.1H23.1V5.1H3.5A3.5 5.1 0 0 1 3.5 -5.1Z"/><ellipse cx="22.1" cy="0" rx="7.2" ry="10.6"/><path d="M22.1 -10.6L52.5 0L22.1 10.6Z"/></g>
<g transform="translate(948.3,1689.3) rotate(175.5)" fill="url(#ag_gray_106f)" opacity="0.95"><path d="M3.1 -5.1H29.2V5.1H3.1A3.1 5.1 0 0 1 3.1 -5.1Z"/><ellipse cx="28.2" cy="0" rx="3.8" ry="10.6"/><path d="M28.2 -10.6L67.1 0L28.2 10.6Z"/></g>
<g transform="translate(1066.3,1692.1) rotate(-177.1)" fill="url(#ag_gray_106f)" opacity="0.95"><path d="M3.1 -5.1H30.6V5.1H3.1A3.1 5.1 0 0 1 3.1 -5.1Z"/><ellipse cx="29.6" cy="0" rx="2.1" ry="10.6"/><path d="M29.6 -10.6L70.5 0L29.6 10.6Z"/></g>
<g transform="translate(1154.4,1712.2) rotate(-166.1)" fill="url(#ag_gray_106f)" opacity="0.95"><path d="M3.3 -5.1H23.9V5.1H3.3A3.3 5.1 0 0 1 3.3 -5.1Z"/><ellipse cx="22.9" cy="0" rx="6.9" ry="10.6"/><path d="M22.9 -10.6L54.4 0L22.9 10.6Z"/></g>
<g transform="translate(955.4,1712.2) rotate(174)" fill="url(#ag_gray_106f)" opacity="0.95"><path d="M3.1 -5.1H29.3V5.1H3.1A3.1 5.1 0 0 1 3.1 -5.1Z"/><ellipse cx="28.3" cy="0" rx="3.8" ry="10.6"/><path d="M28.3 -10.6L67.3 0L28.3 10.6Z"/></g>
<g transform="translate(1052.2,1719.2) rotate(-174)" fill="url(#ag_gray_106f)" opacity="0.95"><path d="M3.1 -5.1H29.3V5.1H3.1A3.1 5.1 0 0 1 3.1 -5.1Z"/><ellipse cx="28.3" cy="0" rx="3.8" ry="10.6"/><path d="M28.3 -10.6L67.3 0L28.3 10.6Z"/></g>
<g transform="translate(971.2,1731.5) rotate(161.6)" fill="url(#ag_gray_106f)" opacity="0.95"><path d="M3.2 -5.1H24.4V5.1H3.2A3.2 5.1 0 0 1 3.2 -5.1Z"/><ellipse cx="23.4" cy="0" rx="6.7" ry="10.6"/><path d="M23.4 -10.6L55.7 0L23.4 10.6Z"/></g>
<g transform="translate(981.8,1735.1) rotate(13.6)" fill="url(#ag_gray_106)" opacity="0.95"><path d="M3.5 -5.1H23.1V5.1H3.5A3.5 5.1 0 0 1 3.5 -5.1Z"/><ellipse cx="22.1" cy="0" rx="7.2" ry="10.6"/><path d="M22.1 -10.6L52.5 0L22.1 10.6Z"/></g>
<g transform="translate(865.6,1726.3) rotate(140.7)" fill="url(#ag_gray_106f)" opacity="0.95"><path d="M4.8 -5.1H11.5V5.1H4.8A4.8 5.1 0 0 1 4.8 -5.1Z"/><ellipse cx="10.5" cy="0" rx="9.9" ry="10.6"/><path d="M10.5 -10.6L25 0L10.5 10.6Z"/></g>
<g transform="translate(1083.9,1728) rotate(33.7)" fill="url(#ag_gray_106)" opacity="0.95"><path d="M4.8 -5.1H11.7V5.1H4.8A4.8 5.1 0 0 1 4.8 -5.1Z"/><ellipse cx="10.7" cy="0" rx="9.9" ry="10.6"/><path d="M10.7 -10.6L25.4 0L10.7 10.6Z"/></g>
<g fill="url(#bg_gray)" opacity="0.95"><circle cx="766.9" cy="1731.5" r="10.8"/></g>
<g fill="url(#bg_gray)" opacity="0.95"><circle cx="1180.8" cy="1731.5" r="10.8"/></g>
</g>
<polygon points="727.5,1082 1212.5,1078 1212.5,1760 727.5,1765" fill="#F4F4F4" fill-opacity="0.12" stroke="#D4D4D4" stroke-width="1.5"/>
<g filter="url(#soft)">
<g transform="translate(869.1,1120.2) rotate(-148)" fill="url(#ag_red_106f)"><path d="M4.5 -5.1H15V5.1H4.5A4.5 5.1 0 0 1 4.5 -5.1Z"/><ellipse cx="14" cy="0" rx="9.4" ry="10.6"/><path d="M14 -10.6L33.2 0L14 10.6Z"/></g>
<g transform="translate(973,1111.4) rotate(-165.1)" fill="url(#ag_red_106f)"><path d="M3.3 -5.1H24V5.1H3.3A3.3 5.1 0 0 1 3.3 -5.1Z"/><ellipse cx="23" cy="0" rx="6.9" ry="10.6"/><path d="M23 -10.6L54.7 0L23 10.6Z"/></g>
<g transform="translate(1032.9,1098.4) rotate(166.1)" fill="url(#ag_red_106f)"><path d="M3.3 -5.1H23.9V5.1H3.3A3.3 5.1 0 0 1 3.3 -5.1Z"/><ellipse cx="22.9" cy="0" rx="6.9" ry="10.6"/><path d="M22.9 -10.6L54.4 0L22.9 10.6Z"/></g>
<g transform="translate(1108.6,1100.8) rotate(148)" fill="url(#ag_red_106f)"><path d="M4.5 -5.1H15V5.1H4.5A4.5 5.1 0 0 1 4.5 -5.1Z"/><ellipse cx="14" cy="0" rx="9.4" ry="10.6"/><path d="M14 -10.6L33.2 0L14 10.6Z"/></g>
<g transform="translate(846.2,1143.1) rotate(-166.1)" fill="url(#ag_red_106f)"><path d="M3.3 -5.1H23.9V5.1H3.3A3.3 5.1 0 0 1 3.3 -5.1Z"/><ellipse cx="22.9" cy="0" rx="6.9" ry="10.6"/><path d="M22.9 -10.6L54.4 0L22.9 10.6Z"/></g>
<g transform="translate(957.1,1132.5) rotate(-173.4)" fill="url(#ag_red_106f)"><path d="M3.1 -5.1H29.3V5.1H3.1A3.1 5.1 0 0 1 3.1 -5.1Z"/><ellipse cx="28.3" cy="0" rx="3.7" ry="10.6"/><path d="M28.3 -10.6L67.4 0L28.3 10.6Z"/></g>
<g transform="translate(1055.8,1124.4) rotate(173)" fill="url(#ag_red_106f)"><path d="M3.1 -5.1H29V5.1H3.1A3.1 5.1 0 0 1 3.1 -5.1Z"/><ellipse cx="28" cy="0" rx="4" ry="10.6"/><path d="M28 -10.6L66.7 0L28 10.6Z"/></g>
<g transform="translate(1154.4,1130.8) rotate(165.3)" fill="url(#ag_red_106f)"><path d="M3.5 -5.1H23.2V5.1H3.5A3.5 5.1 0 0 1 3.5 -5.1Z"/><ellipse cx="22.2" cy="0" rx="7.2" ry="10.6"/><path d="M22.2 -10.6L52.8 0L22.2 10.6Z"/></g>
<g transform="translate(951.8,1155.4) rotate(-176.6)" fill="url(#ag_red_106f)"><path d="M3.1 -5.1H30.6V5.1H3.1A3.1 5.1 0 0 1 3.1 -5.1Z"/><ellipse cx="29.6" cy="0" rx="2.1" ry="10.6"/><path d="M29.6 -10.6L70.6 0L29.6 10.6Z"/></g>
<g transform="translate(1062.8,1150.1) rotate(175.6)" fill="url(#ag_red_106f)"><path d="M3.1 -5.1H29.9V5.1H3.1A3.1 5.1 0 0 1 3.1 -5.1Z"/><ellipse cx="28.9" cy="0" rx="3.1" ry="10.6"/><path d="M28.9 -10.6L68.9 0L28.9 10.6Z"/></g>
<g fill="url(#bg_red)"><circle cx="768.7" cy="1114.9" r="10.8"/></g>
<g fill="url(#bg_red)"><circle cx="1186.1" cy="1106.1" r="10.8"/></g>
<g transform="translate(747.6,1284) rotate(-24.2)" fill="url(#ag_red_106)"><path d="M4.3 -5.1H17.2V5.1H4.3A4.3 5.1 0 0 1 4.3 -5.1Z"/><ellipse cx="16.2" cy="0" rx="8.9" ry="10.6"/><path d="M16.2 -10.6L38.6 0L16.2 10.6Z"/></g>
<g transform="translate(839.1,1282.2) rotate(-31)" fill="url(#ag_red_106)"><path d="M4.6 -5.1H13.9V5.1H4.6A4.6 5.1 0 0 1 4.6 -5.1Z"/><ellipse cx="12.9" cy="0" rx="9.6" ry="10.6"/><path d="M12.9 -10.6L30.8 0L12.9 10.6Z"/></g>
<g transform="translate(1041.7,1267.4) rotate(-179.1)" fill="url(#ag_red_106f)"><path d="M3.1 -5.1H30.6V5.1H3.1A3.1 5.1 0 0 1 3.1 -5.1Z"/><ellipse cx="29.6" cy="0" rx="2.2" ry="10.6"/><path d="M29.6 -10.6L70.5 0L29.6 10.6Z"/></g>
<g transform="translate(1126.2,1269.9) rotate(174)" fill="url(#ag_red_106f)"><path d="M3.1 -5.1H29.3V5.1H3.1A3.1 5.1 0 0 1 3.1 -5.1Z"/><ellipse cx="28.3" cy="0" rx="3.8" ry="10.6"/><path d="M28.3 -10.6L67.3 0L28.3 10.6Z"/></g>
<g transform="translate(1214.3,1268.1) rotate(170.3)" fill="url(#ag_red_106f)"><path d="M3.1 -5.1H27.3V5.1H3.1A3.1 5.1 0 0 1 3.1 -5.1Z"/><ellipse cx="26.3" cy="0" rx="5.3" ry="10.6"/><path d="M26.3 -10.6L62.5 0L26.3 10.6Z"/></g>
<g transform="translate(937.8,1301.6) rotate(-149)" fill="url(#ag_red_106f)"><path d="M4.6 -5.1H13.9V5.1H4.6A4.6 5.1 0 0 1 4.6 -5.1Z"/><ellipse cx="12.9" cy="0" rx="9.6" ry="10.6"/><path d="M12.9 -10.6L30.8 0L12.9 10.6Z"/></g>
<g transform="translate(1055.8,1292.8) rotate(-176.3)" fill="url(#ag_red_106f)"><path d="M3.1 -5.1H28.9V5.1H3.1A3.1 5.1 0 0 1 3.1 -5.1Z"/><ellipse cx="27.9" cy="0" rx="4.1" ry="10.6"/><path d="M27.9 -10.6L66.4 0L27.9 10.6Z"/></g>
<g transform="translate(1165,1299.1) rotate(179.4)" fill="url(#ag_red_106f)"><path d="M3.1 -5.1H31.3V5.1H3.1A3.1 5.1 0 0 1 3.1 -5.1Z"/><path d="M30.3 -10.6L72.2 0L30.3 10.6Z"/></g>
<g transform="translate(936,1324.5) rotate(-156.8)" fill="url(#ag_red_106f)"><path d="M4.2 -5.1H17.9V5.1H4.2A4.2 5.1 0 0 1 4.2 -5.1Z"/><ellipse cx="16.9" cy="0" rx="8.8" ry="10.6"/><path d="M16.9 -10.6L40.2 0L16.9 10.6Z"/></g>
<g transform="translate(1059.3,1320.3) rotate(-172.5)" fill="url(#ag_red_106f)"><path d="M3.1 -5.1H27.1V5.1H3.1A3.1 5.1 0 0 1 3.1 -5.1Z"/><ellipse cx="26.1" cy="0" rx="5.3" ry="10.6"/><path d="M26.1 -10.6L62.2 0L26.1 10.6Z"/></g>
<g fill="url(#bg_red)"><circle cx="944.8" cy="1268.9" r="10.8"/></g>
<g fill="url(#bg_red)"><circle cx="819.1" cy="1301.6" r="10.8"/></g>
<g transform="translate(731.7,1432.1) rotate(2.9)" fill="url(#ag_red_106)"><path d="M3.1 -5.1H29.9V5.1H3.1A3.1 5.1 0 0 1 3.1 -5.1Z"/><ellipse cx="28.9" cy="0" rx="3.1" ry="10.6"/><path d="M28.9 -10.6L68.8 0L28.9 10.6Z"/></g>
<g transform="translate(819.8,1439.9) rotate(-6)" fill="url(#ag_red_106)"><path d="M3.1 -5.1H29.3V5.1H3.1A3.1 5.1 0 0 1 3.1 -5.1Z"/><ellipse cx="28.3" cy="0" rx="3.8" ry="10.6"/><path d="M28.3 -10.6L67.3 0L28.3 10.6Z"/></g>
<g transform="translate(918.4,1437.4) rotate(-16)" fill="url(#ag_red_106)"><path d="M3.3 -5.1H24.1V5.1H3.3A3.3 5.1 0 0 1 3.3 -5.1Z"/><ellipse cx="23.1" cy="0" rx="6.8" ry="10.6"/><path d="M23.1 -10.6L55 0L23.1 10.6Z"/></g>
<g transform="translate(1031.1,1435.7) rotate(-165.3)" fill="url(#ag_red_106f)"><path d="M3.5 -5.1H23.2V5.1H3.5A3.5 5.1 0 0 1 3.5 -5.1Z"/><ellipse cx="22.2" cy="0" rx="7.2" ry="10.6"/><path d="M22.2 -10.6L52.8 0L22.2 10.6Z"/></g>
<g transform="translate(1126.2,1439.9) rotate(-174.9)" fill="url(#ag_red_106f)"><path d="M3.1 -5.1H29.2V5.1H3.1A3.1 5.1 0 0 1 3.1 -5.1Z"/><ellipse cx="28.2" cy="0" rx="3.8" ry="10.6"/><path d="M28.2 -10.6L67.2 0L28.2 10.6Z"/></g>
<g transform="translate(1217.8,1438.5) rotate(-176.1)" fill="url(#ag_red_106f)"><path d="M3.1 -5.1H29.2V5.1H3.1A3.1 5.1 0 0 1 3.1 -5.1Z"/><ellipse cx="28.2" cy="0" rx="3.9" ry="10.6"/><path d="M28.2 -10.6L67.1 0L28.2 10.6Z"/></g>
<g transform="translate(793.3,1470.9) rotate(-16.7)" fill="url(#ag_red_106)"><path d="M3.6 -5.1H22.6V5.1H3.6A3.6 5.1 0 0 1 3.6 -5.1Z"/><ellipse cx="21.6" cy="0" rx="7.4" ry="10.6"/><path d="M21.6 -10.6L51.5 0L21.6 10.6Z"/></g>
<g transform="translate(1154.4,1470.9) rotate(-164.4)" fill="url(#ag_red_106f)"><path d="M3.3 -5.1H24V5.1H3.3A3.3 5.1 0 0 1 3.3 -5.1Z"/><ellipse cx="23" cy="0" rx="6.9" ry="10.6"/><path d="M23 -10.6L54.9 0L23 10.6Z"/></g>
<g transform="translate(914.9,1462.1) rotate(-53.1)" fill="url(#ag_red_106)"><path d="M3.7 -5.1H8.4V5.1H3.7A3.7 5.1 0 0 1 3.7 -5.1Z"/><ellipse cx="7.4" cy="0" rx="10.3" ry="10.6"/><path d="M7.4 -10.6L17.6 0L7.4 10.6Z"/></g>
<g transform="translate(1031.1,1462.1) rotate(-126.9)" fill="url(#ag_red_106f)"><path d="M3.7 -5.1H8.4V5.1H3.7A3.7 5.1 0 0 1 3.7 -5.1Z"/><ellipse cx="7.4" cy="0" rx="10.3" ry="10.6"/><path d="M7.4 -10.6L17.6 0L7.4 10.6Z"/></g>
<g fill="url(#bg_red)"><circle cx="913.1" cy="1483.2" r="10.8"/></g>
<g fill="url(#bg_red)"><circle cx="1031.1" cy="1483.2" r="10.8"/></g>
<g transform="translate(733.5,1599.5) rotate(7.9)" fill="url(#ag_red_106)"><path d="M3.1 -5.1H27.9V5.1H3.1A3.1 5.1 0 0 1 3.1 -5.1Z"/><ellipse cx="26.9" cy="0" rx="4.9" ry="10.6"/><path d="M26.9 -10.6L64 0L26.9 10.6Z"/></g>
<g transform="translate(819.8,1599.5) rotate(6.2)" fill="url(#ag_red_106)"><path d="M3.1 -5.1H28.5V5.1H3.1A3.1 5.1 0 0 1 3.1 -5.1Z"/><ellipse cx="27.5" cy="0" rx="4.4" ry="10.6"/><path d="M27.5 -10.6L65.5 0L27.5 10.6Z"/></g>
<g transform="translate(909.6,1594.9) rotate(0)" fill="url(#ag_red_106)"><path d="M3.1 -5.1H30.6V5.1H3.1A3.1 5.1 0 0 1 3.1 -5.1Z"/><ellipse cx="29.6" cy="0" rx="2.2" ry="10.6"/><path d="M29.6 -10.6L70.4 0L29.6 10.6Z"/></g>
<g transform="translate(1106.8,1611.8) rotate(-146.3)" fill="url(#ag_red_106f)"><path d="M4.6 -5.1H14.3V5.1H4.6A4.6 5.1 0 0 1 4.6 -5.1Z"/><ellipse cx="13.3" cy="0" rx="9.5" ry="10.6"/><path d="M13.3 -10.6L31.8 0L13.3 10.6Z"/></g>
<g transform="translate(1201.9,1610) rotate(-155.8)" fill="url(#ag_red_106f)"><path d="M4.3 -5.1H17.2V5.1H4.3A4.3 5.1 0 0 1 4.3 -5.1Z"/><ellipse cx="16.2" cy="0" rx="8.9" ry="10.6"/><path d="M16.2 -10.6L38.6 0L16.2 10.6Z"/></g>
<g transform="translate(782.8,1628.7) rotate(0)" fill="url(#ag_red_106)"><path d="M3.1 -5.1H30.6V5.1H3.1A3.1 5.1 0 0 1 3.1 -5.1Z"/><ellipse cx="29.6" cy="0" rx="2.2" ry="10.6"/><path d="M29.6 -10.6L70.4 0L29.6 10.6Z"/></g>
<g transform="translate(890.2,1622.4) rotate(-4.6)" fill="url(#ag_red_106)"><path d="M3.1 -5.1H28.5V5.1H3.1A3.1 5.1 0 0 1 3.1 -5.1Z"/><ellipse cx="27.5" cy="0" rx="4.4" ry="10.6"/><path d="M27.5 -10.6L65.4 0L27.5 10.6Z"/></g>
<g transform="translate(1008.2,1629.4) rotate(-35.5)" fill="url(#ag_red_106)"><path d="M4.6 -5.1H13.7V5.1H4.6A4.6 5.1 0 0 1 4.6 -5.1Z"/><ellipse cx="12.7" cy="0" rx="9.6" ry="10.6"/><path d="M12.7 -10.6L30.3 0L12.7 10.6Z"/></g>
<g transform="translate(884.9,1648.8) rotate(-8.1)" fill="url(#ag_red_106)"><path d="M3.1 -5.1H27.2V5.1H3.1A3.1 5.1 0 0 1 3.1 -5.1Z"/><ellipse cx="26.2" cy="0" rx="5.3" ry="10.6"/><path d="M26.2 -10.6L62.3 0L26.2 10.6Z"/></g>
<g transform="translate(1010,1652.3) rotate(-26.6)" fill="url(#ag_red_106)"><path d="M4.4 -5.1H15.9V5.1H4.4A4.4 5.1 0 0 1 4.4 -5.1Z"/><ellipse cx="14.9" cy="0" rx="9.2" ry="10.6"/><path d="M14.9 -10.6L35.4 0L14.9 10.6Z"/></g>
<g fill="url(#bg_red)"><circle cx="1005.7" cy="1599.5" r="10.8"/></g>
<g fill="url(#bg_red)"><circle cx="1126.9" cy="1630.1" r="10.8"/></g>
<g transform="translate(839.1,1754.4) rotate(33.7)" fill="url(#ag_dark_106)" opacity="0.92"><path d="M4.6 -5.1H14.3V5.1H4.6A4.6 5.1 0 0 1 4.6 -5.1Z"/><ellipse cx="13.3" cy="0" rx="9.5" ry="10.6"/><path d="M13.3 -10.6L31.8 0L13.3 10.6Z"/></g>
<g transform="translate(918.4,1750.9) rotate(13.6)" fill="url(#ag_dark_106)" opacity="0.92"><path d="M3.5 -5.1H23.1V5.1H3.5A3.5 5.1 0 0 1 3.5 -5.1Z"/><ellipse cx="22.1" cy="0" rx="7.2" ry="10.6"/><path d="M22.1 -10.6L52.5 0L22.1 10.6Z"/></g>
<g transform="translate(978.3,1763.3) rotate(-14.9)" fill="url(#ag_dark_106)" opacity="0.92"><path d="M3.3 -5.1H24V5.1H3.3A3.3 5.1 0 0 1 3.3 -5.1Z"/><ellipse cx="23" cy="0" rx="6.9" ry="10.6"/><path d="M23 -10.6L54.7 0L23 10.6Z"/></g>
<g transform="translate(1078.7,1772.1) rotate(-36)" fill="url(#ag_dark_106)" opacity="0.92"><path d="M4.8 -5.1H11.1V5.1H4.8A4.8 5.1 0 0 1 4.8 -5.1Z"/><ellipse cx="10.1" cy="0" rx="10" ry="10.6"/><path d="M10.1 -10.6L24 0L10.1 10.6Z"/></g>
<g transform="translate(791.6,1784.4) rotate(13.6)" fill="url(#ag_dark_106)" opacity="0.92"><path d="M3.5 -5.1H23.1V5.1H3.5A3.5 5.1 0 0 1 3.5 -5.1Z"/><ellipse cx="22.1" cy="0" rx="7.2" ry="10.6"/><path d="M22.1 -10.6L52.5 0L22.1 10.6Z"/></g>
<g transform="translate(888.4,1779.1) rotate(6)" fill="url(#ag_dark_106)" opacity="0.92"><path d="M3.1 -5.1H29.3V5.1H3.1A3.1 5.1 0 0 1 3.1 -5.1Z"/><ellipse cx="28.3" cy="0" rx="3.8" ry="10.6"/><path d="M28.3 -10.6L67.3 0L28.3 10.6Z"/></g>
<g transform="translate(988.8,1786.1) rotate(-6.2)" fill="url(#ag_dark_106)" opacity="0.92"><path d="M3.1 -5.1H28.5V5.1H3.1A3.1 5.1 0 0 1 3.1 -5.1Z"/><ellipse cx="27.5" cy="0" rx="4.4" ry="10.6"/><path d="M27.5 -10.6L65.5 0L27.5 10.6Z"/></g>
<g transform="translate(1101.5,1797.8) rotate(-15.2)" fill="url(#ag_dark_106)" opacity="0.92"><path d="M3.6 -5.1H22.5V5.1H3.6A3.6 5.1 0 0 1 3.6 -5.1Z"/><ellipse cx="21.5" cy="0" rx="7.5" ry="10.6"/><path d="M21.5 -10.6L51.1 0L21.5 10.6Z"/></g>
<g transform="translate(879.6,1803.8) rotate(4.3)" fill="url(#ag_dark_106)" opacity="0.92"><path d="M3.1 -5.1H30.7V5.1H3.1A3.1 5.1 0 0 1 3.1 -5.1Z"/><ellipse cx="29.7" cy="0" rx="2" ry="10.6"/><path d="M29.7 -10.6L70.6 0L29.7 10.6Z"/></g>
<g transform="translate(992.4,1809) rotate(-4.4)" fill="url(#ag_dark_106)" opacity="0.92"><path d="M3.1 -5.1H29.9V5.1H3.1A3.1 5.1 0 0 1 3.1 -5.1Z"/><ellipse cx="28.9" cy="0" rx="3.1" ry="10.6"/><path d="M28.9 -10.6L68.9 0L28.9 10.6Z"/></g>
<g fill="url(#bg_dark)" opacity="0.92"><circle cx="765.2" cy="1761.5" r="10.8"/></g>
<g fill="url(#bg_dark)" opacity="0.92"><circle cx="1180.8" cy="1765" r="10.8"/></g>
</g>
<g filter="url(#soft)">
<g transform="translate(1540.3,1036.6) rotate(-6.2)" fill="url(#ag_blue_106)" opacity="0.88"><path d="M3.1 -5.1H28.8V5.1H3.1A3.1 5.1 0 0 1 3.1 -5.1Z"/><ellipse cx="27.8" cy="0" rx="4.2" ry="10.6"/><path d="M27.8 -10.6L66.1 0L27.8 10.6Z"/></g>
<g transform="translate(1641.6,1026.6) rotate(0.8)" fill="url(#ag_blue_106)" opacity="0.88"><path d="M3.1 -5.1H31.6V5.1H3.1A3.1 5.1 0 0 1 3.1 -5.1Z"/><path d="M30.6 -10.6L72.8 0L30.6 10.6Z"/></g>
<g transform="translate(1764.1,1031.2) rotate(10.4)" fill="url(#ag_blue_106)" opacity="0.88"><path d="M3.1 -5.1H28.3V5.1H3.1A3.1 5.1 0 0 1 3.1 -5.1Z"/><ellipse cx="27.3" cy="0" rx="4.6" ry="10.6"/><path d="M27.3 -10.6L65 0L27.3 10.6Z"/></g>
<g transform="translate(1591.8,1058.6) rotate(-5)" fill="url(#ag_blue_106)" opacity="0.88"><path d="M3.1 -5.1H30.2V5.1H3.1A3.1 5.1 0 0 1 3.1 -5.1Z"/><ellipse cx="29.2" cy="0" rx="2.8" ry="10.6"/><path d="M29.2 -10.6L69.5 0L29.2 10.6Z"/></g>
<g transform="translate(1703.7,1051.8) rotate(6.6)" fill="url(#ag_blue_106)" opacity="0.88"><path d="M3.1 -5.1H29.5V5.1H3.1A3.1 5.1 0 0 1 3.1 -5.1Z"/><ellipse cx="28.5" cy="0" rx="3.5" ry="10.6"/><path d="M28.5 -10.6L67.9 0L28.5 10.6Z"/></g>
<g transform="translate(1643.3,1075.6) rotate(4.4)" fill="url(#ag_blue_106)" opacity="0.88"><path d="M3.1 -5.1H30.2V5.1H3.1A3.1 5.1 0 0 1 3.1 -5.1Z"/><ellipse cx="29.2" cy="0" rx="2.8" ry="10.6"/><path d="M29.2 -10.6L69.5 0L29.2 10.6Z"/></g>
<g transform="translate(1650.4,1203.5) rotate(-12.7)" fill="url(#ag_fblue_106)" opacity="0.9"><path d="M3.2 -5.1H24.7V5.1H3.2A3.2 5.1 0 0 1 3.2 -5.1Z"/><ellipse cx="23.7" cy="0" rx="6.6" ry="10.6"/><path d="M23.7 -10.6L56.4 0L23.7 10.6Z"/></g>
<g transform="translate(1760.6,1206.4) rotate(-2.2)" fill="url(#ag_fblue_106)" opacity="0.9"><path d="M3.1 -5.1H31.6V5.1H3.1A3.1 5.1 0 0 1 3.1 -5.1Z"/><path d="M30.6 -10.6L72.9 0L30.6 10.6Z"/></g>
<g transform="translate(1611.4,1233.7) rotate(-27.9)" fill="url(#ag_fblue_106)" opacity="0.9"><path d="M4.5 -5.1H15.3V5.1H4.5A4.5 5.1 0 0 1 4.5 -5.1Z"/><ellipse cx="14.3" cy="0" rx="9.3" ry="10.6"/><path d="M14.3 -10.6L34.2 0L14.3 10.6Z"/></g>
<g transform="translate(1702,1230.2) rotate(-7.1)" fill="url(#ag_fblue_106)" opacity="0.9"><path d="M3.1 -5.1H31.1V5.1H3.1A3.1 5.1 0 0 1 3.1 -5.1Z"/><path d="M30.1 -10.6L71.6 0L30.1 10.6Z"/></g>
<g transform="translate(1654,1251.5) rotate(-13.1)" fill="url(#ag_fblue_106)" opacity="0.9"><path d="M3.3 -5.1H24V5.1H3.3A3.3 5.1 0 0 1 3.3 -5.1Z"/><ellipse cx="23" cy="0" rx="6.9" ry="10.6"/><path d="M23 -10.6L54.7 0L23 10.6Z"/></g>
<g transform="translate(1563.4,1212.4) rotate(-45)" fill="url(#ag_fblue_106)" opacity="0.9"><path d="M4.2 -5.1H9.4V5.1H4.2A4.2 5.1 0 0 1 4.2 -5.1Z"/><ellipse cx="8.4" cy="0" rx="10.2" ry="10.6"/><path d="M8.4 -10.6L20.1 0L8.4 10.6Z"/></g>
<g transform="translate(1593.6,1376.2) rotate(-157.2)" fill="url(#ag_fblue_106f)" opacity="0.9"><path d="M4.3 -5.1H17.2V5.1H4.3A4.3 5.1 0 0 1 4.3 -5.1Z"/><ellipse cx="16.2" cy="0" rx="9" ry="10.6"/><path d="M16.2 -10.6L38.5 0L16.2 10.6Z"/></g>
<g transform="translate(1776.6,1379.7) rotate(-22.2)" fill="url(#ag_fblue_106)" opacity="0.9"><path d="M4.1 -5.1H18.7V5.1H4.1A4.1 5.1 0 0 1 4.1 -5.1Z"/><ellipse cx="17.7" cy="0" rx="8.6" ry="10.6"/><path d="M17.7 -10.6L42.2 0L17.7 10.6Z"/></g>
<g transform="translate(1641.6,1397.5) rotate(-150.3)" fill="url(#ag_fblue_106f)" opacity="0.9"><path d="M4.7 -5.1H13V5.1H4.7A4.7 5.1 0 0 1 4.7 -5.1Z"/><ellipse cx="12" cy="0" rx="9.7" ry="10.6"/><path d="M12 -10.6L28.6 0L12 10.6Z"/></g>
<g transform="translate(1723.3,1399.3) rotate(-27.9)" fill="url(#ag_fblue_106)" opacity="0.9"><path d="M4.5 -5.1H15.3V5.1H4.5A4.5 5.1 0 0 1 4.5 -5.1Z"/><ellipse cx="14.3" cy="0" rx="9.3" ry="10.6"/><path d="M14.3 -10.6L34.2 0L14.3 10.6Z"/></g>
<g fill="url(#bg_fblue)" opacity="0.9"><circle cx="1677.8" cy="1364.8" r="10.8"/></g>
<g fill="url(#bg_fblue)" opacity="0.9"><circle cx="1678.9" cy="1413.5" r="10.8"/></g>
<g transform="translate(1611.4,1536) rotate(-175.8)" fill="url(#ag_fblue_106f)" opacity="0.9"><path d="M3.1 -5.1H31.7V5.1H3.1A3.1 5.1 0 0 1 3.1 -5.1Z"/><path d="M30.7 -10.6L73 0L30.7 10.6Z"/></g>
<g transform="translate(1705.5,1535.3) rotate(-163.5)" fill="url(#ag_fblue_106f)" opacity="0.9"><path d="M3.4 -5.1H23.6V5.1H3.4A3.4 5.1 0 0 1 3.4 -5.1Z"/><ellipse cx="22.6" cy="0" rx="7.1" ry="10.6"/><path d="M22.6 -10.6L53.7 0L22.6 10.6Z"/></g>
<g transform="translate(1662.9,1559.1) rotate(-173.1)" fill="url(#ag_fblue_106f)" opacity="0.9"><path d="M3.1 -5.1H29.6V5.1H3.1A3.1 5.1 0 0 1 3.1 -5.1Z"/><ellipse cx="28.6" cy="0" rx="3.5" ry="10.6"/><path d="M28.6 -10.6L68 0L28.6 10.6Z"/></g>
<g transform="translate(1751.7,1564.5) rotate(-145.6)" fill="url(#ag_fblue_106f)" opacity="0.9"><path d="M4.6 -5.1H13.7V5.1H4.6A4.6 5.1 0 0 1 4.6 -5.1Z"/><ellipse cx="12.7" cy="0" rx="9.6" ry="10.6"/><path d="M12.7 -10.6L30.2 0L12.7 10.6Z"/></g>
<g transform="translate(1702,1582.2) rotate(-164.3)" fill="url(#ag_fblue_106f)" opacity="0.9"><path d="M3.7 -5.1H21.9V5.1H3.7A3.7 5.1 0 0 1 3.7 -5.1Z"/><ellipse cx="20.9" cy="0" rx="7.7" ry="10.6"/><path d="M20.9 -10.6L49.8 0L20.9 10.6Z"/></g>
<g fill="url(#bg_fblue)" opacity="0.9"><circle cx="1799.6" cy="1537.8" r="10.8"/></g>
<g transform="translate(1607.8,1700.2) rotate(171.6)" fill="url(#ag_gray_106f)" opacity="0.9"><path d="M3.1 -5.1H29.7V5.1H3.1A3.1 5.1 0 0 1 3.1 -5.1Z"/><ellipse cx="28.7" cy="0" rx="3.4" ry="10.6"/><path d="M28.7 -10.6L68.2 0L28.7 10.6Z"/></g>
<g transform="translate(1716.2,1697.7) rotate(180)" fill="url(#ag_gray_106f)" opacity="0.9"><path d="M3.1 -5.1H32.3V5.1H3.1A3.1 5.1 0 0 1 3.1 -5.1Z"/><path d="M31.3 -10.6L74.6 0L31.3 10.6Z"/></g>
<g transform="translate(1831.6,1712.9) rotate(-170.8)" fill="url(#ag_gray_106f)" opacity="0.9"><path d="M3.1 -5.1H29V5.1H3.1A3.1 5.1 0 0 1 3.1 -5.1Z"/><ellipse cx="28" cy="0" rx="4" ry="10.6"/><path d="M28 -10.6L66.6 0L28 10.6Z"/></g>
<g transform="translate(1664.7,1723.6) rotate(173.7)" fill="url(#ag_gray_106f)" opacity="0.9"><path d="M3.1 -5.1H31V5.1H3.1A3.1 5.1 0 0 1 3.1 -5.1Z"/><ellipse cx="30" cy="0" rx="1.3" ry="10.6"/><path d="M30 -10.6L71.5 0L30 10.6Z"/></g>
<g transform="translate(1774.8,1731.4) rotate(-173.6)" fill="url(#ag_gray_106f)" opacity="0.9"><path d="M3.1 -5.1H30.3V5.1H3.1A3.1 5.1 0 0 1 3.1 -5.1Z"/><ellipse cx="29.3" cy="0" rx="2.7" ry="10.6"/><path d="M29.3 -10.6L69.7 0L29.3 10.6Z"/></g>
<g transform="translate(1719.7,1747.4) rotate(-178.7)" fill="url(#ag_gray_106f)" opacity="0.9"><path d="M3.1 -5.1H33.1V5.1H3.1A3.1 5.1 0 0 1 3.1 -5.1Z"/><path d="M32.1 -10.6L76.4 0L32.1 10.6Z"/></g>
<g transform="translate(1567,1738.5) rotate(144.5)" fill="url(#ag_gray_106f)" opacity="0.9"><path d="M4.6 -5.1H13.8V5.1H4.6A4.6 5.1 0 0 1 4.6 -5.1Z"/><ellipse cx="12.8" cy="0" rx="9.6" ry="10.6"/><path d="M12.8 -10.6L30.6 0L12.8 10.6Z"/></g>
<g transform="translate(1794.3,1738.5) rotate(36.9)" fill="url(#ag_gray_106)" opacity="0.9"><path d="M4.7 -5.1H12.2V5.1H4.7A4.7 5.1 0 0 1 4.7 -5.1Z"/><ellipse cx="11.2" cy="0" rx="9.8" ry="10.6"/><path d="M11.2 -10.6L26.6 0L11.2 10.6Z"/></g>
<g transform="translate(1540.3,1765.2) rotate(35.5)" fill="url(#ag_gray_106)" opacity="0.9"><path d="M4.6 -5.1H13.8V5.1H4.6A4.6 5.1 0 0 1 4.6 -5.1Z"/><ellipse cx="12.8" cy="0" rx="9.6" ry="10.6"/><path d="M12.8 -10.6L30.6 0L12.8 10.6Z"/></g>
<g transform="translate(1783.7,1784.7) rotate(-27.9)" fill="url(#ag_gray_106)" opacity="0.9"><path d="M4.5 -5.1H15.3V5.1H4.5A4.5 5.1 0 0 1 4.5 -5.1Z"/><ellipse cx="14.3" cy="0" rx="9.3" ry="10.6"/><path d="M14.3 -10.6L34.2 0L14.3 10.6Z"/></g>
<g fill="url(#bg_gray)" opacity="0.9"><circle cx="1632.7" cy="1756.3" r="10.8"/></g>
<g fill="url(#bg_gray)" opacity="0.9"><circle cx="1721.5" cy="1761.6" r="10.8"/></g>
<g transform="translate(1538.5,1084.5) rotate(-30.5)" fill="url(#ag_red_106)" opacity="0.9"><path d="M4.5 -5.1H15.7V5.1H4.5A4.5 5.1 0 0 1 4.5 -5.1Z"/><ellipse cx="14.7" cy="0" rx="9.3" ry="10.6"/><path d="M14.7 -10.6L35 0L14.7 10.6Z"/></g>
<g transform="translate(1565.2,1112.9) rotate(-142.4)" fill="url(#ag_red_106f)" opacity="0.9"><path d="M4.7 -5.1H13.2V5.1H4.7A4.7 5.1 0 0 1 4.7 -5.1Z"/><ellipse cx="12.2" cy="0" rx="9.7" ry="10.6"/><path d="M12.2 -10.6L29.1 0L12.2 10.6Z"/></g>
<g transform="translate(1789,1068.5) rotate(33.7)" fill="url(#ag_red_106)" opacity="0.9"><path d="M4.6 -5.1H14.4V5.1H4.6A4.6 5.1 0 0 1 4.6 -5.1Z"/><ellipse cx="13.4" cy="0" rx="9.5" ry="10.6"/><path d="M13.4 -10.6L32 0L13.4 10.6Z"/></g>
<g transform="translate(1815.6,1097) rotate(149.5)" fill="url(#ag_red_106f)" opacity="0.9"><path d="M4.5 -5.1H15.7V5.1H4.5A4.5 5.1 0 0 1 4.5 -5.1Z"/><ellipse cx="14.7" cy="0" rx="9.3" ry="10.6"/><path d="M14.7 -10.6L35 0L14.7 10.6Z"/></g>
<g fill="url(#bg_red)" opacity="0.9"><circle cx="1632.7" cy="1089.9" r="10.8"/></g>
<g fill="url(#bg_red)" opacity="0.9"><circle cx="1723.3" cy="1086.3" r="10.8"/></g>
</g>
<polygon points="1509.4,1018 1853,1121.8 1853,1831 1509.4,1729.6" fill="#EEEEF4" fill-opacity="0.1" stroke="#C9C9CD" stroke-width="1.4"/>
<polygon points="1496,1116.5 1867,1023 1867,1733.2 1496,1827.3" fill="#EEEEF4" fill-opacity="0.1" stroke="#C9C9CD" stroke-width="1.4"/>
<g filter="url(#soft)">
<g transform="translate(1467.5,1065) rotate(-23.5)" fill="url(#ag_red_106)"><path d="M4 -5.1H19.7V5.1H4A4 5.1 0 0 1 4 -5.1Z"/><ellipse cx="18.7" cy="0" rx="8.3" ry="10.6"/><path d="M18.7 -10.6L44.5 0L18.7 10.6Z"/></g>
<g transform="translate(1495.9,1127.2) rotate(-153.4)" fill="url(#ag_red_106f)"><path d="M4.4 -5.1H16V5.1H4.4A4.4 5.1 0 0 1 4.4 -5.1Z"/><ellipse cx="15" cy="0" rx="9.2" ry="10.6"/><path d="M15 -10.6L35.7 0L15 10.6Z"/></g>
<g transform="translate(1858.3,1052.6) rotate(26.6)" fill="url(#ag_red_106)"><path d="M4.3 -5.1H17.7V5.1H4.3A4.3 5.1 0 0 1 4.3 -5.1Z"/><ellipse cx="16.7" cy="0" rx="8.8" ry="10.6"/><path d="M16.7 -10.6L39.7 0L16.7 10.6Z"/></g>
<g transform="translate(1884.9,1114.7) rotate(154.7)" fill="url(#ag_red_106f)"><path d="M4.1 -5.1H19.2V5.1H4.1A4.1 5.1 0 0 1 4.1 -5.1Z"/><ellipse cx="18.2" cy="0" rx="8.5" ry="10.6"/><path d="M18.2 -10.6L43.2 0L18.2 10.6Z"/></g>
<g fill="url(#bg_red)"><circle cx="1449.7" cy="1089.9" r="10.8"/></g>
<g fill="url(#bg_red)"><circle cx="1901.6" cy="1090.6" r="10.8"/></g>
<g transform="translate(1714.4,1103.4) rotate(-177.8)" fill="url(#ag_cyan_106f)" opacity="0.92"><path d="M3.1 -5.1H32.4V5.1H3.1A3.1 5.1 0 0 1 3.1 -5.1Z"/><path d="M31.4 -10.6L74.7 0L31.4 10.6Z"/></g>
<g transform="translate(1659.3,1127.2) rotate(-172.5)" fill="url(#ag_cyan_106f)" opacity="0.92"><path d="M3.1 -5.1H29.6V5.1H3.1A3.1 5.1 0 0 1 3.1 -5.1Z"/><ellipse cx="28.6" cy="0" rx="3.5" ry="10.6"/><path d="M28.6 -10.6L68.1 0L28.6 10.6Z"/></g>
<g transform="translate(1762.3,1123.6) rotate(175)" fill="url(#ag_cyan_106f)" opacity="0.92"><path d="M3.1 -5.1H26.5V5.1H3.1A3.1 5.1 0 0 1 3.1 -5.1Z"/><ellipse cx="25.5" cy="0" rx="5.7" ry="10.6"/><path d="M25.5 -10.6L60.6 0L25.5 10.6Z"/></g>
<g transform="translate(1591.8,1146.7) rotate(-171.3)" fill="url(#ag_cyan_106f)" opacity="0.92"><path d="M3.1 -5.1H28.5V5.1H3.1A3.1 5.1 0 0 1 3.1 -5.1Z"/><ellipse cx="27.5" cy="0" rx="4.4" ry="10.6"/><path d="M27.5 -10.6L65.4 0L27.5 10.6Z"/></g>
<g transform="translate(1707.3,1153.1) rotate(-179.2)" fill="url(#ag_cyan_106f)" opacity="0.92"><path d="M3.1 -5.1H32.3V5.1H3.1A3.1 5.1 0 0 1 3.1 -5.1Z"/><path d="M31.3 -10.6L74.6 0L31.3 10.6Z"/></g>
<g transform="translate(1806.7,1141.4) rotate(172.3)" fill="url(#ag_cyan_106f)" opacity="0.92"><path d="M3.1 -5.1H28.9V5.1H3.1A3.1 5.1 0 0 1 3.1 -5.1Z"/><ellipse cx="27.9" cy="0" rx="4.1" ry="10.6"/><path d="M27.9 -10.6L66.3 0L27.9 10.6Z"/></g>
<g transform="translate(1451.5,1226.6) rotate(-2.8)" fill="url(#ag_red_106)"><path d="M3.1 -5.1H31.6V5.1H3.1A3.1 5.1 0 0 1 3.1 -5.1Z"/><path d="M30.6 -10.6L72.9 0L30.6 10.6Z"/></g>
<g transform="translate(1421.3,1263.9) rotate(-14.5)" fill="url(#ag_red_106)"><path d="M3.1 -5.1H24.9V5.1H3.1A3.1 5.1 0 0 1 3.1 -5.1Z"/><ellipse cx="23.9" cy="0" rx="6.5" ry="10.6"/><path d="M23.9 -10.6L56.9 0L23.9 10.6Z"/></g>
<g transform="translate(1519,1246.2) rotate(-3.4)" fill="url(#ag_red_106)"><path d="M3.1 -5.1H30.9V5.1H3.1A3.1 5.1 0 0 1 3.1 -5.1Z"/><ellipse cx="29.9" cy="0" rx="1.6" ry="10.6"/><path d="M29.9 -10.6L71.2 0L29.9 10.6Z"/></g>
<g transform="translate(1536.8,1281.7) rotate(-29.1)" fill="url(#ag_red_106)"><path d="M4.4 -5.1H16.4V5.1H4.4A4.4 5.1 0 0 1 4.4 -5.1Z"/><ellipse cx="15.4" cy="0" rx="9.1" ry="10.6"/><path d="M15.4 -10.6L36.6 0L15.4 10.6Z"/></g>
<g transform="translate(1602.5,1263.9) rotate(-13.2)" fill="url(#ag_red_106)"><path d="M3.1 -5.1H27.1V5.1H3.1A3.1 5.1 0 0 1 3.1 -5.1Z"/><ellipse cx="26.1" cy="0" rx="5.4" ry="10.6"/><path d="M26.1 -10.6L62 0L26.1 10.6Z"/></g>
<g transform="translate(1467.5,1299.4) rotate(-45)" fill="url(#ag_red_106)"><path d="M4.8 -5.1H11.6V5.1H4.8A4.8 5.1 0 0 1 4.8 -5.1Z"/><ellipse cx="10.6" cy="0" rx="9.9" ry="10.6"/><path d="M10.6 -10.6L25.1 0L10.6 10.6Z"/></g>
<g transform="translate(1931.1,1255) rotate(166)" fill="url(#ag_red_106f)"><path d="M3.1 -5.1H25.6V5.1H3.1A3.1 5.1 0 0 1 3.1 -5.1Z"/><ellipse cx="24.6" cy="0" rx="6.2" ry="10.6"/><path d="M24.6 -10.6L58.6 0L24.6 10.6Z"/></g>
<g transform="translate(1902.7,1292.3) rotate(177.3)" fill="url(#ag_red_106f)"><path d="M3.1 -5.1H33.1V5.1H3.1A3.1 5.1 0 0 1 3.1 -5.1Z"/><path d="M32.1 -10.6L76.5 0L32.1 10.6Z"/></g>
<g transform="translate(1821,1237.3) rotate(150.9)" fill="url(#ag_red_106f)"><path d="M4.4 -5.1H16.4V5.1H4.4A4.4 5.1 0 0 1 4.4 -5.1Z"/><ellipse cx="15.4" cy="0" rx="9.1" ry="10.6"/><path d="M15.4 -10.6L36.6 0L15.4 10.6Z"/></g>
<g transform="translate(1835.2,1272.8) rotate(175.6)" fill="url(#ag_red_106f)"><path d="M3.1 -5.1H30.2V5.1H3.1A3.1 5.1 0 0 1 3.1 -5.1Z"/><ellipse cx="29.2" cy="0" rx="2.8" ry="10.6"/><path d="M29.2 -10.6L69.5 0L29.2 10.6Z"/></g>
<g transform="translate(1751.7,1251.5) rotate(163.5)" fill="url(#ag_red_106f)"><path d="M3.7 -5.1H22V5.1H3.7A3.7 5.1 0 0 1 3.7 -5.1Z"/><ellipse cx="21" cy="0" rx="7.6" ry="10.6"/><path d="M21 -10.6L50 0L21 10.6Z"/></g>
<g transform="translate(1888.5,1219.5) rotate(135)" fill="url(#ag_red_106f)"><path d="M4.8 -5.1H11.6V5.1H4.8A4.8 5.1 0 0 1 4.8 -5.1Z"/><ellipse cx="10.6" cy="0" rx="9.9" ry="10.6"/><path d="M10.6 -10.6L25.1 0L10.6 10.6Z"/></g>
<g transform="translate(1703.7,1263.9) rotate(165.5)" fill="url(#ag_cyan_106f)" opacity="0.92"><path d="M3.1 -5.1H24.9V5.1H3.1A3.1 5.1 0 0 1 3.1 -5.1Z"/><ellipse cx="23.9" cy="0" rx="6.5" ry="10.6"/><path d="M23.9 -10.6L56.9 0L23.9 10.6Z"/></g>
<g transform="translate(1661.1,1288.8) rotate(174.3)" fill="url(#ag_cyan_106f)" opacity="0.92"><path d="M3.1 -5.1H31V5.1H3.1A3.1 5.1 0 0 1 3.1 -5.1Z"/><ellipse cx="30" cy="0" rx="1.4" ry="10.6"/><path d="M30 -10.6L71.4 0L30 10.6Z"/></g>
<g transform="translate(1744.6,1285.2) rotate(150.9)" fill="url(#ag_cyan_106f)" opacity="0.92"><path d="M4.4 -5.1H16.4V5.1H4.4A4.4 5.1 0 0 1 4.4 -5.1Z"/><ellipse cx="15.4" cy="0" rx="9.1" ry="10.6"/><path d="M15.4 -10.6L36.6 0L15.4 10.6Z"/></g>
<g transform="translate(1595.4,1308.3) rotate(175.3)" fill="url(#ag_cyan_106f)" opacity="0.92"><path d="M3.1 -5.1H31.7V5.1H3.1A3.1 5.1 0 0 1 3.1 -5.1Z"/><path d="M30.7 -10.6L73.1 0L30.7 10.6Z"/></g>
<g transform="translate(1698.4,1314.4) rotate(166.2)" fill="url(#ag_cyan_106f)" opacity="0.92"><path d="M3.1 -5.1H24.8V5.1H3.1A3.1 5.1 0 0 1 3.1 -5.1Z"/><ellipse cx="23.8" cy="0" rx="6.5" ry="10.6"/><path d="M23.8 -10.6L56.7 0L23.8 10.6Z"/></g>
<g transform="translate(1785.4,1304.8) rotate(137.7)" fill="url(#ag_cyan_106f)" opacity="0.92"><path d="M4.7 -5.1H12.1V5.1H4.7A4.7 5.1 0 0 1 4.7 -5.1Z"/><ellipse cx="11.1" cy="0" rx="9.9" ry="10.6"/><path d="M11.1 -10.6L26.4 0L11.1 10.6Z"/></g>
<g transform="translate(1455.1,1385.1) rotate(9.2)" fill="url(#ag_red_106)"><path d="M3.1 -5.1H29V5.1H3.1A3.1 5.1 0 0 1 3.1 -5.1Z"/><ellipse cx="28" cy="0" rx="4" ry="10.6"/><path d="M28 -10.6L66.6 0L28 10.6Z"/></g>
<g transform="translate(1412.4,1422.4) rotate(0)" fill="url(#ag_red_106)"><path d="M3.1 -5.1H32.3V5.1H3.1A3.1 5.1 0 0 1 3.1 -5.1Z"/><path d="M31.3 -10.6L74.6 0L31.3 10.6Z"/></g>
<g transform="translate(1444.4,1457.9) rotate(-7.5)" fill="url(#ag_red_106)"><path d="M3.1 -5.1H29.6V5.1H3.1A3.1 5.1 0 0 1 3.1 -5.1Z"/><ellipse cx="28.6" cy="0" rx="3.5" ry="10.6"/><path d="M28.6 -10.6L68.1 0L28.6 10.6Z"/></g>
<g transform="translate(1519,1406.4) rotate(7.3)" fill="url(#ag_red_106)"><path d="M3.1 -5.1H30.3V5.1H3.1A3.1 5.1 0 0 1 3.1 -5.1Z"/><ellipse cx="29.3" cy="0" rx="2.6" ry="10.6"/><path d="M29.3 -10.6L69.8 0L29.3 10.6Z"/></g>
<g transform="translate(1517.2,1441.9) rotate(-6.6)" fill="url(#ag_red_106)"><path d="M3.1 -5.1H31V5.1H3.1A3.1 5.1 0 0 1 3.1 -5.1Z"/><ellipse cx="30" cy="0" rx="1.2" ry="10.6"/><path d="M30 -10.6L71.5 0L30 10.6Z"/></g>
<g transform="translate(1594.7,1423.1) rotate(0.9)" fill="url(#ag_red_106)"><path d="M3.1 -5.1H31.1V5.1H3.1A3.1 5.1 0 0 1 3.1 -5.1Z"/><path d="M30.1 -10.6L71.8 0L30.1 10.6Z"/></g>
<g transform="translate(1911.5,1392.2) rotate(172.5)" fill="url(#ag_red_106f)"><path d="M3.1 -5.1H29.6V5.1H3.1A3.1 5.1 0 0 1 3.1 -5.1Z"/><ellipse cx="28.6" cy="0" rx="3.5" ry="10.6"/><path d="M28.6 -10.6L68.1 0L28.6 10.6Z"/></g>
<g transform="translate(1940,1429.5) rotate(-178.6)" fill="url(#ag_red_106f)"><path d="M3.1 -5.1H32.3V5.1H3.1A3.1 5.1 0 0 1 3.1 -5.1Z"/><path d="M31.3 -10.6L74.6 0L31.3 10.6Z"/></g>
<g transform="translate(1897.3,1465) rotate(-169.9)" fill="url(#ag_red_106f)"><path d="M3.1 -5.1H28.3V5.1H3.1A3.1 5.1 0 0 1 3.1 -5.1Z"/><ellipse cx="27.3" cy="0" rx="4.6" ry="10.6"/><path d="M27.3 -10.6L64.9 0L27.3 10.6Z"/></g>
<g transform="translate(1840.5,1409.9) rotate(174.3)" fill="url(#ag_red_106f)"><path d="M3.1 -5.1H31V5.1H3.1A3.1 5.1 0 0 1 3.1 -5.1Z"/><ellipse cx="30" cy="0" rx="1.4" ry="10.6"/><path d="M30 -10.6L71.4 0L30 10.6Z"/></g>
<g transform="translate(1835.2,1445.5) rotate(-172.1)" fill="url(#ag_red_106f)"><path d="M3.1 -5.1H30.4V5.1H3.1A3.1 5.1 0 0 1 3.1 -5.1Z"/><ellipse cx="29.4" cy="0" rx="2.5" ry="10.6"/><path d="M29.4 -10.6L69.9 0L29.4 10.6Z"/></g>
<g transform="translate(1760.6,1425.2) rotate(-179.2)" fill="url(#ag_red_106f)"><path d="M3.1 -5.1H31.6V5.1H3.1A3.1 5.1 0 0 1 3.1 -5.1Z"/><path d="M30.6 -10.6L72.8 0L30.6 10.6Z"/></g>
<g transform="translate(1641.6,1449) rotate(150.9)" fill="url(#ag_cyan_106f)" opacity="0.92"><path d="M4.4 -5.1H16.4V5.1H4.4A4.4 5.1 0 0 1 4.4 -5.1Z"/><ellipse cx="15.4" cy="0" rx="9.1" ry="10.6"/><path d="M15.4 -10.6L36.6 0L15.4 10.6Z"/></g>
<g transform="translate(1712.6,1450.8) rotate(33.7)" fill="url(#ag_cyan_106)" opacity="0.92"><path d="M4.6 -5.1H14.4V5.1H4.6A4.6 5.1 0 0 1 4.6 -5.1Z"/><ellipse cx="13.4" cy="0" rx="9.5" ry="10.6"/><path d="M13.4 -10.6L32 0L13.4 10.6Z"/></g>
<g transform="translate(1577.6,1468.5) rotate(156.4)" fill="url(#ag_cyan_106f)" opacity="0.92"><path d="M4.1 -5.1H18.9V5.1H4.1A4.1 5.1 0 0 1 4.1 -5.1Z"/><ellipse cx="17.9" cy="0" rx="8.5" ry="10.6"/><path d="M17.9 -10.6L42.6 0L17.9 10.6Z"/></g>
<g transform="translate(1755.2,1470.3) rotate(27.9)" fill="url(#ag_cyan_106)" opacity="0.92"><path d="M4.2 -5.1H17.9V5.1H4.2A4.2 5.1 0 0 1 4.2 -5.1Z"/><ellipse cx="16.9" cy="0" rx="8.8" ry="10.6"/><path d="M16.9 -10.6L40.2 0L16.9 10.6Z"/></g>
<g fill="url(#bg_cyan)" opacity="0.92"><circle cx="1675.3" cy="1434.8" r="10.8"/></g>
<g fill="url(#bg_cyan)" opacity="0.92"><circle cx="1668.9" cy="1483.5" r="10.8"/></g>
<g transform="translate(1423.1,1580.4) rotate(15.4)" fill="url(#ag_red_106)"><path d="M3.4 -5.1H23.4V5.1H3.4A3.4 5.1 0 0 1 3.4 -5.1Z"/><ellipse cx="22.4" cy="0" rx="7.1" ry="10.6"/><path d="M22.4 -10.6L53.4 0L22.4 10.6Z"/></g>
<g transform="translate(1442.6,1614.2) rotate(5.7)" fill="url(#ag_red_106)"><path d="M3.1 -5.1H31V5.1H3.1A3.1 5.1 0 0 1 3.1 -5.1Z"/><ellipse cx="30" cy="0" rx="1.4" ry="10.6"/><path d="M30 -10.6L71.4 0L30 10.6Z"/></g>
<g transform="translate(1540.3,1566.2) rotate(37.1)" fill="url(#ag_red_106)"><path d="M4.6 -5.1H14.1V5.1H4.6A4.6 5.1 0 0 1 4.6 -5.1Z"/><ellipse cx="13.1" cy="0" rx="9.6" ry="10.6"/><path d="M13.1 -10.6L31.2 0L13.1 10.6Z"/></g>
<g transform="translate(1519,1598.2) rotate(8.1)" fill="url(#ag_red_106)"><path d="M3.1 -5.1H29.6V5.1H3.1A3.1 5.1 0 0 1 3.1 -5.1Z"/><ellipse cx="28.6" cy="0" rx="3.4" ry="10.6"/><path d="M28.6 -10.6L68.2 0L28.6 10.6Z"/></g>
<g transform="translate(1600.7,1580.4) rotate(15.9)" fill="url(#ag_red_106)"><path d="M3.5 -5.1H22.7V5.1H3.5A3.5 5.1 0 0 1 3.5 -5.1Z"/><ellipse cx="21.7" cy="0" rx="7.4" ry="10.6"/><path d="M21.7 -10.6L51.7 0L21.7 10.6Z"/></g>
<g transform="translate(1913.3,1564.5) rotate(-175.7)" fill="url(#ag_red_106f)"><path d="M3.1 -5.1H30.9V5.1H3.1A3.1 5.1 0 0 1 3.1 -5.1Z"/><ellipse cx="29.9" cy="0" rx="1.5" ry="10.6"/><path d="M29.9 -10.6L71.2 0L29.9 10.6Z"/></g>
<g transform="translate(1929.3,1601.8) rotate(-163.5)" fill="url(#ag_red_106f)"><path d="M3.4 -5.1H23.6V5.1H3.4A3.4 5.1 0 0 1 3.4 -5.1Z"/><ellipse cx="22.6" cy="0" rx="7.1" ry="10.6"/><path d="M22.6 -10.6L53.7 0L22.6 10.6Z"/></g>
<g transform="translate(1838.7,1580.4) rotate(-174.1)" fill="url(#ag_red_106f)"><path d="M3.1 -5.1H30.2V5.1H3.1A3.1 5.1 0 0 1 3.1 -5.1Z"/><ellipse cx="29.2" cy="0" rx="2.7" ry="10.6"/><path d="M29.2 -10.6L69.6 0L29.2 10.6Z"/></g>
<g transform="translate(1813.9,1614.2) rotate(-147.4)" fill="url(#ag_red_106f)"><path d="M4.6 -5.1H14.3V5.1H4.6A4.6 5.1 0 0 1 4.6 -5.1Z"/><ellipse cx="13.3" cy="0" rx="9.5" ry="10.6"/><path d="M13.3 -10.6L31.6 0L13.3 10.6Z"/></g>
<g transform="translate(1755.2,1598.2) rotate(-164.1)" fill="url(#ag_red_106f)"><path d="M3.5 -5.1H22.7V5.1H3.5A3.5 5.1 0 0 1 3.5 -5.1Z"/><ellipse cx="21.7" cy="0" rx="7.4" ry="10.6"/><path d="M21.7 -10.6L51.7 0L21.7 10.6Z"/></g>
<g fill="url(#bg_red)"><circle cx="1487" cy="1552" r="10.8"/></g>
<g fill="url(#bg_red)"><circle cx="1866.1" cy="1626.6" r="10.8"/></g>
<g transform="translate(1654,1595.7) rotate(16.2)" fill="url(#ag_cyan_106)" opacity="0.92"><path d="M3.4 -5.1H23.5V5.1H3.4A3.4 5.1 0 0 1 3.4 -5.1Z"/><ellipse cx="22.5" cy="0" rx="7.1" ry="10.6"/><path d="M22.5 -10.6L53.6 0L22.5 10.6Z"/></g>
<g transform="translate(1609.6,1612.4) rotate(35.2)" fill="url(#ag_cyan_106)" opacity="0.92"><path d="M4.5 -5.1H14.7V5.1H4.5A4.5 5.1 0 0 1 4.5 -5.1Z"/><ellipse cx="13.7" cy="0" rx="9.4" ry="10.6"/><path d="M13.7 -10.6L32.6 0L13.7 10.6Z"/></g>
<g transform="translate(1691.3,1621.3) rotate(7.5)" fill="url(#ag_cyan_106)" opacity="0.92"><path d="M3.1 -5.1H29.6V5.1H3.1A3.1 5.1 0 0 1 3.1 -5.1Z"/><ellipse cx="28.6" cy="0" rx="3.5" ry="10.6"/><path d="M28.6 -10.6L68.1 0L28.6 10.6Z"/></g>
<g transform="translate(1641.6,1644.4) rotate(15.4)" fill="url(#ag_cyan_106)" opacity="0.92"><path d="M3.4 -5.1H23.4V5.1H3.4A3.4 5.1 0 0 1 3.4 -5.1Z"/><ellipse cx="22.4" cy="0" rx="7.1" ry="10.6"/><path d="M22.4 -10.6L53.4 0L22.4 10.6Z"/></g>
<g transform="translate(1737.5,1642.6) rotate(4.3)" fill="url(#ag_cyan_106)" opacity="0.92"><path d="M3.1 -5.1H30.9V5.1H3.1A3.1 5.1 0 0 1 3.1 -5.1Z"/><ellipse cx="29.9" cy="0" rx="1.5" ry="10.6"/><path d="M29.9 -10.6L71.2 0L29.9 10.6Z"/></g>
<g fill="url(#bg_cyan)" opacity="0.92"><circle cx="1556.3" cy="1640.8" r="10.8"/></g>
<g transform="translate(1510.1,1717.9) rotate(157.3)" fill="url(#ag_dark_106f)" opacity="0.92"><path d="M4 -5.1H19.6V5.1H4A4 5.1 0 0 1 4 -5.1Z"/><ellipse cx="18.6" cy="0" rx="8.4" ry="10.6"/><path d="M18.6 -10.6L44.3 0L18.6 10.6Z"/></g>
<g transform="translate(1462.2,1781.2) rotate(29.1)" fill="url(#ag_dark_106)" opacity="0.92"><path d="M4.4 -5.1H16.4V5.1H4.4A4.4 5.1 0 0 1 4.4 -5.1Z"/><ellipse cx="15.4" cy="0" rx="9.1" ry="10.6"/><path d="M15.4 -10.6L36.6 0L15.4 10.6Z"/></g>
<g transform="translate(1893.8,1742.1) rotate(-150.9)" fill="url(#ag_dark_106f)" opacity="0.92"><path d="M4.4 -5.1H16.4V5.1H4.4A4.4 5.1 0 0 1 4.4 -5.1Z"/><ellipse cx="15.4" cy="0" rx="9.1" ry="10.6"/><path d="M15.4 -10.6L36.6 0L15.4 10.6Z"/></g>
<g transform="translate(1844,1802.5) rotate(-20)" fill="url(#ag_dark_106)" opacity="0.92"><path d="M4.2 -5.1H18.5V5.1H4.2A4.2 5.1 0 0 1 4.2 -5.1Z"/><ellipse cx="17.5" cy="0" rx="8.7" ry="10.6"/><path d="M17.5 -10.6L41.6 0L17.5 10.6Z"/></g>
<g transform="translate(1638,1772.3) rotate(0.8)" fill="url(#ag_dark_106)" opacity="0.92"><path d="M3.1 -5.1H32.3V5.1H3.1A3.1 5.1 0 0 1 3.1 -5.1Z"/><path d="M31.3 -10.6L74.6 0L31.3 10.6Z"/></g>
<g transform="translate(1590.1,1791.1) rotate(6.6)" fill="url(#ag_dark_106)" opacity="0.92"><path d="M3.1 -5.1H29.5V5.1H3.1A3.1 5.1 0 0 1 3.1 -5.1Z"/><ellipse cx="28.5" cy="0" rx="3.5" ry="10.6"/><path d="M28.5 -10.6L67.9 0L28.5 10.6Z"/></g>
<g transform="translate(1691.3,1798.9) rotate(-6)" fill="url(#ag_dark_106)" opacity="0.92"><path d="M3.1 -5.1H29.5V5.1H3.1A3.1 5.1 0 0 1 3.1 -5.1Z"/><ellipse cx="28.5" cy="0" rx="3.5" ry="10.6"/><path d="M28.5 -10.6L67.9 0L28.5 10.6Z"/></g>
<g transform="translate(1524.3,1807.8) rotate(9.2)" fill="url(#ag_dark_106)" opacity="0.92"><path d="M3.1 -5.1H29V5.1H3.1A3.1 5.1 0 0 1 3.1 -5.1Z"/><ellipse cx="28" cy="0" rx="4" ry="10.6"/><path d="M28 -10.6L66.6 0L28 10.6Z"/></g>
<g transform="translate(1632.7,1823.1) rotate(0)" fill="url(#ag_dark_106)" opacity="0.92"><path d="M3.1 -5.1H31.6V5.1H3.1A3.1 5.1 0 0 1 3.1 -5.1Z"/><path d="M30.6 -10.6L72.8 0L30.6 10.6Z"/></g>
<g transform="translate(1739.3,1821.3) rotate(-7.5)" fill="url(#ag_dark_106)" opacity="0.92"><path d="M3.1 -5.1H29.6V5.1H3.1A3.1 5.1 0 0 1 3.1 -5.1Z"/><ellipse cx="28.6" cy="0" rx="3.5" ry="10.6"/><path d="M28.6 -10.6L68.1 0L28.6 10.6Z"/></g>
<g fill="url(#bg_dark)" opacity="0.92"><circle cx="1449.7" cy="1755.6" r="10.8"/></g>
<g fill="url(#bg_dark)" opacity="0.92"><circle cx="1900.9" cy="1766.9" r="10.8"/></g>
</g>
<use href="#ba" transform="translate(675.5,1083.2) rotate(90)" fill="#0a0a0a"/><use href="#ba" transform="translate(667.7,1112.5) rotate(120)" fill="#0a0a0a"/><use href="#ba" transform="translate(646.2,1133.9) rotate(150)" fill="#0a0a0a"/><use href="#ba" transform="translate(617,1141.7) rotate(180)" fill="#0a0a0a"/><use href="#ba" transform="translate(587.8,1133.9) rotate(-150)" fill="#0a0a0a"/><use href="#ba" transform="translate(566.3,1112.5) rotate(-120)" fill="#0a0a0a"/><use href="#ba" transform="translate(558.5,1083.2) rotate(-90)" fill="#0a0a0a"/><use href="#ba" transform="translate(566.3,1054) rotate(-60)" fill="#0a0a0a"/><use href="#ba" transform="translate(587.8,1032.5) rotate(-30)" fill="#0a0a0a"/><use href="#ba" transform="translate(617,1024.7) rotate(-0)" fill="#0a0a0a"/><use href="#ba" transform="translate(646.2,1032.5) rotate(30)" fill="#0a0a0a"/><use href="#ba" transform="translate(667.7,1054) rotate(60)" fill="#0a0a0a"/><use href="#ba" transform="translate(651.2,1097.4) rotate(112.5)" fill="#0a0a0a"/><use href="#ba" transform="translate(631.2,1117.4) rotate(157.5)" fill="#0a0a0a"/><use href="#ba" transform="translate(602.8,1117.4) rotate(-157.5)" fill="#0a0a0a"/><use href="#ba" transform="translate(582.8,1097.4) rotate(-112.5)" fill="#0a0a0a"/><use href="#ba" transform="translate(582.8,1069) rotate(-67.5)" fill="#0a0a0a"/><use href="#ba" transform="translate(602.8,1049) rotate(-22.5)" fill="#0a0a0a"/><use href="#ba" transform="translate(631.2,1049) rotate(22.5)" fill="#0a0a0a"/><use href="#ba" transform="translate(651.2,1069) rotate(67.5)" fill="#0a0a0a"/><use href="#ba" transform="translate(635.5,1083.2) rotate(90)" fill="#0a0a0a"/><use href="#ba" transform="translate(617,1101.7) rotate(180)" fill="#0a0a0a"/><use href="#ba" transform="translate(598.5,1083.2) rotate(-90)" fill="#0a0a0a"/><use href="#ba" transform="translate(617,1064.7) rotate(-0)" fill="#0a0a0a"/>
<circle cx="617" cy="1083.2" r="5.8" fill="#1a0505"/><circle cx="617" cy="1083.2" r="1.2" fill="#a33"/>
<use href="#ba" transform="translate(675.5,1249.8) rotate(90)" fill="#0a0a0a"/><use href="#ba" transform="translate(667.7,1279) rotate(120)" fill="#0a0a0a"/><use href="#ba" transform="translate(646.2,1300.5) rotate(150)" fill="#0a0a0a"/><use href="#ba" transform="translate(617,1308.3) rotate(180)" fill="#0a0a0a"/><use href="#ba" transform="translate(587.8,1300.5) rotate(-150)" fill="#0a0a0a"/><use href="#ba" transform="translate(566.3,1279) rotate(-120)" fill="#0a0a0a"/><use href="#ba" transform="translate(558.5,1249.8) rotate(-90)" fill="#0a0a0a"/><use href="#ba" transform="translate(566.3,1220.5) rotate(-60)" fill="#0a0a0a"/><use href="#ba" transform="translate(587.8,1199.1) rotate(-30)" fill="#0a0a0a"/><use href="#ba" transform="translate(617,1191.3) rotate(-0)" fill="#0a0a0a"/><use href="#ba" transform="translate(646.2,1199.1) rotate(30)" fill="#0a0a0a"/><use href="#ba" transform="translate(667.7,1220.5) rotate(60)" fill="#0a0a0a"/><use href="#ba" transform="translate(651.2,1264) rotate(112.5)" fill="#0a0a0a"/><use href="#ba" transform="translate(631.2,1284) rotate(157.5)" fill="#0a0a0a"/><use href="#ba" transform="translate(602.8,1284) rotate(-157.5)" fill="#0a0a0a"/><use href="#ba" transform="translate(582.8,1264) rotate(-112.5)" fill="#0a0a0a"/><use href="#ba" transform="translate(582.8,1235.6) rotate(-67.5)" fill="#0a0a0a"/><use href="#ba" transform="translate(602.8,1215.6) rotate(-22.5)" fill="#0a0a0a"/><use href="#ba" transform="translate(631.2,1215.6) rotate(22.5)" fill="#0a0a0a"/><use href="#ba" transform="translate(651.2,1235.6) rotate(67.5)" fill="#0a0a0a"/><use href="#ba" transform="translate(635.5,1249.8) rotate(90)" fill="#0a0a0a"/><use href="#ba" transform="translate(617,1268.3) rotate(180)" fill="#0a0a0a"/><use href="#ba" transform="translate(598.5,1249.8) rotate(-90)" fill="#0a0a0a"/><use href="#ba" transform="translate(617,1231.3) rotate(-0)" fill="#0a0a0a"/>
<circle cx="617" cy="1249.8" r="5.8" fill="#1a0505"/><circle cx="617" cy="1249.8" r="1.2" fill="#a33"/>
<use href="#ba" transform="translate(675.5,1416.4) rotate(90)" fill="#0a0a0a"/><use href="#ba" transform="translate(667.7,1445.7) rotate(120)" fill="#0a0a0a"/><use href="#ba" transform="translate(646.2,1467.1) rotate(150)" fill="#0a0a0a"/><use href="#ba" transform="translate(617,1474.9) rotate(180)" fill="#0a0a0a"/><use href="#ba" transform="translate(587.8,1467.1) rotate(-150)" fill="#0a0a0a"/><use href="#ba" transform="translate(566.3,1445.7) rotate(-120)" fill="#0a0a0a"/><use href="#ba" transform="translate(558.5,1416.4) rotate(-90)" fill="#0a0a0a"/><use href="#ba" transform="translate(566.3,1387.2) rotate(-60)" fill="#0a0a0a"/><use href="#ba" transform="translate(587.8,1365.7) rotate(-30)" fill="#0a0a0a"/><use href="#ba" transform="translate(617,1357.9) rotate(-0)" fill="#0a0a0a"/><use href="#ba" transform="translate(646.2,1365.7) rotate(30)" fill="#0a0a0a"/><use href="#ba" transform="translate(667.7,1387.2) rotate(60)" fill="#0a0a0a"/><use href="#ba" transform="translate(651.2,1430.6) rotate(112.5)" fill="#0a0a0a"/><use href="#ba" transform="translate(631.2,1450.6) rotate(157.5)" fill="#0a0a0a"/><use href="#ba" transform="translate(602.8,1450.6) rotate(-157.5)" fill="#0a0a0a"/><use href="#ba" transform="translate(582.8,1430.6) rotate(-112.5)" fill="#0a0a0a"/><use href="#ba" transform="translate(582.8,1402.2) rotate(-67.5)" fill="#0a0a0a"/><use href="#ba" transform="translate(602.8,1382.2) rotate(-22.5)" fill="#0a0a0a"/><use href="#ba" transform="translate(631.2,1382.2) rotate(22.5)" fill="#0a0a0a"/><use href="#ba" transform="translate(651.2,1402.2) rotate(67.5)" fill="#0a0a0a"/><use href="#ba" transform="translate(635.5,1416.4) rotate(90)" fill="#0a0a0a"/><use href="#ba" transform="translate(617,1434.9) rotate(180)" fill="#0a0a0a"/><use href="#ba" transform="translate(598.5,1416.4) rotate(-90)" fill="#0a0a0a"/><use href="#ba" transform="translate(617,1397.9) rotate(-0)" fill="#0a0a0a"/>
<circle cx="617" cy="1416.4" r="5.8" fill="#1a0505"/><circle cx="617" cy="1416.4" r="1.2" fill="#a33"/>
<use href="#ba" transform="translate(675.5,1583) rotate(90)" fill="#0a0a0a"/><use href="#ba" transform="translate(667.7,1612.2) rotate(120)" fill="#0a0a0a"/><use href="#ba" transform="translate(646.2,1633.7) rotate(150)" fill="#0a0a0a"/><use href="#ba" transform="translate(617,1641.5) rotate(180)" fill="#0a0a0a"/><use href="#ba" transform="translate(587.8,1633.7) rotate(-150)" fill="#0a0a0a"/><use href="#ba" transform="translate(566.3,1612.2) rotate(-120)" fill="#0a0a0a"/><use href="#ba" transform="translate(558.5,1583) rotate(-90)" fill="#0a0a0a"/><use href="#ba" transform="translate(566.3,1553.8) rotate(-60)" fill="#0a0a0a"/><use href="#ba" transform="translate(587.8,1532.3) rotate(-30)" fill="#0a0a0a"/><use href="#ba" transform="translate(617,1524.5) rotate(-0)" fill="#0a0a0a"/><use href="#ba" transform="translate(646.2,1532.3) rotate(30)" fill="#0a0a0a"/><use href="#ba" transform="translate(667.7,1553.8) rotate(60)" fill="#0a0a0a"/><use href="#ba" transform="translate(651.2,1597.2) rotate(112.5)" fill="#0a0a0a"/><use href="#ba" transform="translate(631.2,1617.2) rotate(157.5)" fill="#0a0a0a"/><use href="#ba" transform="translate(602.8,1617.2) rotate(-157.5)" fill="#0a0a0a"/><use href="#ba" transform="translate(582.8,1597.2) rotate(-112.5)" fill="#0a0a0a"/><use href="#ba" transform="translate(582.8,1568.8) rotate(-67.5)" fill="#0a0a0a"/><use href="#ba" transform="translate(602.8,1548.8) rotate(-22.5)" fill="#0a0a0a"/><use href="#ba" transform="translate(631.2,1548.8) rotate(22.5)" fill="#0a0a0a"/><use href="#ba" transform="translate(651.2,1568.8) rotate(67.5)" fill="#0a0a0a"/><use href="#ba" transform="translate(635.5,1583) rotate(90)" fill="#0a0a0a"/><use href="#ba" transform="translate(617,1601.5) rotate(180)" fill="#0a0a0a"/><use href="#ba" transform="translate(598.5,1583) rotate(-90)" fill="#0a0a0a"/><use href="#ba" transform="translate(617,1564.5) rotate(-0)" fill="#0a0a0a"/>
<circle cx="617" cy="1583" r="5.8" fill="#1a0505"/><circle cx="617" cy="1583" r="1.2" fill="#a33"/>
<use href="#ba" transform="translate(675.5,1749.6) rotate(90)" fill="#0a0a0a"/><use href="#ba" transform="translate(667.7,1778.8) rotate(120)" fill="#0a0a0a"/><use href="#ba" transform="translate(646.2,1800.3) rotate(150)" fill="#0a0a0a"/><use href="#ba" transform="translate(617,1808.1) rotate(180)" fill="#0a0a0a"/><use href="#ba" transform="translate(587.8,1800.3) rotate(-150)" fill="#0a0a0a"/><use href="#ba" transform="translate(566.3,1778.8) rotate(-120)" fill="#0a0a0a"/><use href="#ba" transform="translate(558.5,1749.6) rotate(-90)" fill="#0a0a0a"/><use href="#ba" transform="translate(566.3,1720.3) rotate(-60)" fill="#0a0a0a"/><use href="#ba" transform="translate(587.8,1698.9) rotate(-30)" fill="#0a0a0a"/><use href="#ba" transform="translate(617,1691.1) rotate(-0)" fill="#0a0a0a"/><use href="#ba" transform="translate(646.2,1698.9) rotate(30)" fill="#0a0a0a"/><use href="#ba" transform="translate(667.7,1720.3) rotate(60)" fill="#0a0a0a"/><use href="#ba" transform="translate(651.2,1763.8) rotate(112.5)" fill="#0a0a0a"/><use href="#ba" transform="translate(631.2,1783.8) rotate(157.5)" fill="#0a0a0a"/><use href="#ba" transform="translate(602.8,1783.8) rotate(-157.5)" fill="#0a0a0a"/><use href="#ba" transform="translate(582.8,1763.8) rotate(-112.5)" fill="#0a0a0a"/><use href="#ba" transform="translate(582.8,1735.4) rotate(-67.5)" fill="#0a0a0a"/><use href="#ba" transform="translate(602.8,1715.4) rotate(-22.5)" fill="#0a0a0a"/><use href="#ba" transform="translate(631.2,1715.4) rotate(22.5)" fill="#0a0a0a"/><use href="#ba" transform="translate(651.2,1735.4) rotate(67.5)" fill="#0a0a0a"/><use href="#ba" transform="translate(635.5,1749.6) rotate(90)" fill="#0a0a0a"/><use href="#ba" transform="translate(617,1768.1) rotate(180)" fill="#0a0a0a"/><use href="#ba" transform="translate(598.5,1749.6) rotate(-90)" fill="#0a0a0a"/><use href="#ba" transform="translate(617,1731.1) rotate(-0)" fill="#0a0a0a"/>
<circle cx="617" cy="1749.6" r="5.8" fill="#1a0505"/><circle cx="617" cy="1749.6" r="1.2" fill="#a33"/>
<path d="M1241.5 1087.8A70 70 0 0 1 1381.5 1087.8Z" fill="#B9E4FA"/>
<path d="M1241.5 1087.8A70 70 0 0 0 1381.5 1087.8Z" fill="#FBA9A7"/>
<circle cx="1311.5" cy="1087.8" r="5.8" fill="#1a0505"/>
<use href="#ba" transform="translate(1369.5,1103.3) rotate(105) scale(0.97)" fill="#0a0a0a"/><use href="#ba" transform="translate(1353.9,1130.2) rotate(135) scale(0.97)" fill="#0a0a0a"/><use href="#ba" transform="translate(1327,1145.8) rotate(165) scale(0.97)" fill="#0a0a0a"/><use href="#ba" transform="translate(1296,1145.8) rotate(-165) scale(0.97)" fill="#0a0a0a"/><use href="#ba" transform="translate(1269.1,1130.2) rotate(-135) scale(0.97)" fill="#0a0a0a"/><use href="#ba" transform="translate(1253.5,1103.3) rotate(-105) scale(0.97)" fill="#0a0a0a"/><use href="#ba" transform="translate(1253.5,1072.3) rotate(-75) scale(0.97)" fill="#0a0a0a"/><use href="#ba" transform="translate(1269.1,1045.4) rotate(-45) scale(0.97)" fill="#0a0a0a"/><use href="#ba" transform="translate(1296,1029.8) rotate(-15) scale(0.97)" fill="#0a0a0a"/><use href="#ba" transform="translate(1327,1029.8) rotate(15) scale(0.97)" fill="#0a0a0a"/><use href="#ba" transform="translate(1353.9,1045.4) rotate(45) scale(0.97)" fill="#0a0a0a"/><use href="#ba" transform="translate(1369.5,1072.3) rotate(75) scale(0.97)" fill="#0a0a0a"/><use href="#ba" transform="translate(1347.5,1102.7) rotate(112.5) scale(0.97)" fill="#0a0a0a"/><use href="#ba" transform="translate(1326.4,1123.8) rotate(157.5) scale(0.97)" fill="#0a0a0a"/><use href="#ba" transform="translate(1296.6,1123.8) rotate(-157.5) scale(0.97)" fill="#0a0a0a"/><use href="#ba" transform="translate(1275.5,1102.7) rotate(-112.5) scale(0.97)" fill="#0a0a0a"/><use href="#ba" transform="translate(1275.5,1072.9) rotate(-67.5) scale(0.97)" fill="#0a0a0a"/><use href="#ba" transform="translate(1296.6,1051.8) rotate(-22.5) scale(0.97)" fill="#0a0a0a"/><use href="#ba" transform="translate(1326.4,1051.8) rotate(22.5) scale(0.97)" fill="#0a0a0a"/><use href="#ba" transform="translate(1347.5,1072.9) rotate(67.5) scale(0.97)" fill="#0a0a0a"/><use href="#ba" transform="translate(1326.3,1102.6) rotate(135) scale(0.97)" fill="#0a0a0a"/><use href="#ba" transform="translate(1296.7,1102.6) rotate(-135) scale(0.97)" fill="#0a0a0a"/><use href="#ba" transform="translate(1296.7,1073) rotate(-45) scale(0.97)" fill="#0a0a0a"/><use href="#ba" transform="translate(1326.3,1073) rotate(45) scale(0.97)" fill="#0a0a0a"/>
<rect x="1240" y="1086.2" width="143" height="3.2" fill="#858585"/>
<circle cx="1311.5" cy="1087.8" r="5.8" fill="#1a0505"/><circle cx="1311.5" cy="1087.8" r="1.3" fill="#c33"/>
<path d="M1239.4 1252.3A70 70 0 0 1 1379.4 1252.3Z" fill="#B9E4FA"/>
<path d="M1239.4 1252.3A70 70 0 0 0 1379.4 1252.3Z" fill="#FBA9A7"/>
<circle cx="1309.4" cy="1252.3" r="5.8" fill="#3a1a1a"/>
<use href="#ba" transform="translate(1367.4,1267.8) rotate(150) scale(0.97)" fill="#560808"/><use href="#ba" transform="translate(1351.8,1294.7) rotate(180) scale(0.97)" fill="#560808"/><use href="#ba" transform="translate(1324.9,1310.3) rotate(-150) scale(0.97)" fill="#560808"/><use href="#ba" transform="translate(1293.9,1310.3) rotate(-120) scale(0.97)" fill="#560808"/><use href="#ba" transform="translate(1267,1294.7) rotate(-90) scale(0.97)" fill="#560808"/><use href="#ba" transform="translate(1251.4,1267.8) rotate(-60) scale(0.97)" fill="#560808"/><use href="#ba" transform="translate(1251.4,1236.8) rotate(-120) scale(0.97)" fill="#2F6785"/><use href="#ba" transform="translate(1267,1209.9) rotate(-90) scale(0.97)" fill="#2F6785"/><use href="#ba" transform="translate(1293.9,1194.3) rotate(-60) scale(0.97)" fill="#2F6785"/><use href="#ba" transform="translate(1324.9,1194.3) rotate(-30) scale(0.97)" fill="#2F6785"/><use href="#ba" transform="translate(1351.8,1209.9) rotate(-0) scale(0.97)" fill="#2F6785"/><use href="#ba" transform="translate(1367.4,1236.8) rotate(30) scale(0.97)" fill="#2F6785"/><use href="#ba" transform="translate(1345.4,1267.2) rotate(157.5) scale(0.97)" fill="#560808"/><use href="#ba" transform="translate(1324.3,1288.3) rotate(-157.5) scale(0.97)" fill="#560808"/><use href="#ba" transform="translate(1294.5,1288.3) rotate(-112.5) scale(0.97)" fill="#560808"/><use href="#ba" transform="translate(1273.4,1267.2) rotate(-67.5) scale(0.97)" fill="#560808"/><use href="#ba" transform="translate(1273.4,1237.4) rotate(-112.5) scale(0.97)" fill="#2F6785"/><use href="#ba" transform="translate(1294.5,1216.3) rotate(-67.5) scale(0.97)" fill="#2F6785"/><use href="#ba" transform="translate(1324.3,1216.3) rotate(-22.5) scale(0.97)" fill="#2F6785"/><use href="#ba" transform="translate(1345.4,1237.4) rotate(22.5) scale(0.97)" fill="#2F6785"/><use href="#ba" transform="translate(1324.2,1267.1) rotate(180) scale(0.97)" fill="#560808"/><use href="#ba" transform="translate(1294.6,1267.1) rotate(-90) scale(0.97)" fill="#560808"/><use href="#ba" transform="translate(1294.6,1237.5) rotate(-90) scale(0.97)" fill="#2F6785"/><use href="#ba" transform="translate(1324.2,1237.5) rotate(-0) scale(0.97)" fill="#2F6785"/>
<rect x="1237.9" y="1250.7" width="143" height="3.2" fill="#858585"/>
<path d="M1240.4 1418A70 70 0 0 1 1380.4 1418Z" fill="#B9E4FA"/>
<path d="M1240.4 1418A70 70 0 0 0 1380.4 1418Z" fill="#FBA9A7"/>
<circle cx="1310.4" cy="1418" r="5.8" fill="#3a1a1a"/>
<use href="#ba" transform="translate(1368.4,1433.5) rotate(-165) scale(0.97)" fill="#560808"/><use href="#ba" transform="translate(1352.8,1460.4) rotate(-135) scale(0.97)" fill="#560808"/><use href="#ba" transform="translate(1325.9,1476) rotate(-105) scale(0.97)" fill="#560808"/><use href="#ba" transform="translate(1294.9,1476) rotate(-75) scale(0.97)" fill="#560808"/><use href="#ba" transform="translate(1268,1460.4) rotate(-45) scale(0.97)" fill="#560808"/><use href="#ba" transform="translate(1252.4,1433.5) rotate(-15) scale(0.97)" fill="#560808"/><use href="#ba" transform="translate(1252.4,1402.5) rotate(-165) scale(0.97)" fill="#2F6785"/><use href="#ba" transform="translate(1268,1375.6) rotate(-135) scale(0.97)" fill="#2F6785"/><use href="#ba" transform="translate(1294.9,1360) rotate(-105) scale(0.97)" fill="#2F6785"/><use href="#ba" transform="translate(1325.9,1360) rotate(-75) scale(0.97)" fill="#2F6785"/><use href="#ba" transform="translate(1352.8,1375.6) rotate(-45) scale(0.97)" fill="#2F6785"/><use href="#ba" transform="translate(1368.4,1402.5) rotate(-15) scale(0.97)" fill="#2F6785"/><use href="#ba" transform="translate(1346.4,1432.9) rotate(-157.5) scale(0.97)" fill="#560808"/><use href="#ba" transform="translate(1325.3,1454) rotate(-112.5) scale(0.97)" fill="#560808"/><use href="#ba" transform="translate(1295.5,1454) rotate(-67.5) scale(0.97)" fill="#560808"/><use href="#ba" transform="translate(1274.4,1432.9) rotate(-22.5) scale(0.97)" fill="#560808"/><use href="#ba" transform="translate(1274.4,1403.1) rotate(-157.5) scale(0.97)" fill="#2F6785"/><use href="#ba" transform="translate(1295.5,1382) rotate(-112.5) scale(0.97)" fill="#2F6785"/><use href="#ba" transform="translate(1325.3,1382) rotate(-67.5) scale(0.97)" fill="#2F6785"/><use href="#ba" transform="translate(1346.4,1403.1) rotate(-22.5) scale(0.97)" fill="#2F6785"/><use href="#ba" transform="translate(1325.2,1432.8) rotate(-135) scale(0.97)" fill="#560808"/><use href="#ba" transform="translate(1295.6,1432.8) rotate(-45) scale(0.97)" fill="#560808"/><use href="#ba" transform="translate(1295.6,1403.2) rotate(-135) scale(0.97)" fill="#2F6785"/><use href="#ba" transform="translate(1325.2,1403.2) rotate(-45) scale(0.97)" fill="#2F6785"/>
<rect x="1238.9" y="1416.4" width="143" height="3.2" fill="#858585"/>
<path d="M1241.8 1582.9A70 70 0 0 1 1381.8 1582.9Z" fill="#B9E4FA"/>
<path d="M1241.8 1582.9A70 70 0 0 0 1381.8 1582.9Z" fill="#FBA9A7"/>
<circle cx="1311.8" cy="1582.9" r="5.8" fill="#1a0505"/>
<use href="#ba" transform="translate(1369.8,1598.4) rotate(-120) scale(0.97)" fill="#0a0a0a"/><use href="#ba" transform="translate(1354.2,1625.3) rotate(-90) scale(0.97)" fill="#0a0a0a"/><use href="#ba" transform="translate(1327.3,1640.9) rotate(-60) scale(0.97)" fill="#0a0a0a"/><use href="#ba" transform="translate(1296.3,1640.9) rotate(-30) scale(0.97)" fill="#0a0a0a"/><use href="#ba" transform="translate(1269.4,1625.3) rotate(-0) scale(0.97)" fill="#0a0a0a"/><use href="#ba" transform="translate(1253.8,1598.4) rotate(30) scale(0.97)" fill="#0a0a0a"/><use href="#ba" transform="translate(1253.8,1567.4) rotate(150) scale(0.97)" fill="#0a0a0a"/><use href="#ba" transform="translate(1269.4,1540.5) rotate(180) scale(0.97)" fill="#0a0a0a"/><use href="#ba" transform="translate(1296.3,1524.9) rotate(-150) scale(0.97)" fill="#0a0a0a"/><use href="#ba" transform="translate(1327.3,1524.9) rotate(-120) scale(0.97)" fill="#0a0a0a"/><use href="#ba" transform="translate(1354.2,1540.5) rotate(-90) scale(0.97)" fill="#0a0a0a"/><use href="#ba" transform="translate(1369.8,1567.4) rotate(-60) scale(0.97)" fill="#0a0a0a"/><use href="#ba" transform="translate(1347.8,1597.8) rotate(-112.5) scale(0.97)" fill="#0a0a0a"/><use href="#ba" transform="translate(1326.7,1618.9) rotate(-67.5) scale(0.97)" fill="#0a0a0a"/><use href="#ba" transform="translate(1296.9,1618.9) rotate(-22.5) scale(0.97)" fill="#0a0a0a"/><use href="#ba" transform="translate(1275.8,1597.8) rotate(22.5) scale(0.97)" fill="#0a0a0a"/><use href="#ba" transform="translate(1275.8,1568) rotate(157.5) scale(0.97)" fill="#0a0a0a"/><use href="#ba" transform="translate(1296.9,1546.9) rotate(-157.5) scale(0.97)" fill="#0a0a0a"/><use href="#ba" transform="translate(1326.7,1546.9) rotate(-112.5) scale(0.97)" fill="#0a0a0a"/><use href="#ba" transform="translate(1347.8,1568) rotate(-67.5) scale(0.97)" fill="#0a0a0a"/><use href="#ba" transform="translate(1326.6,1597.7) rotate(-90) scale(0.97)" fill="#0a0a0a"/><use href="#ba" transform="translate(1297,1597.7) rotate(-0) scale(0.97)" fill="#0a0a0a"/><use href="#ba" transform="translate(1297,1568.1) rotate(180) scale(0.97)" fill="#0a0a0a"/><use href="#ba" transform="translate(1326.6,1568.1) rotate(-90) scale(0.97)" fill="#0a0a0a"/>
<rect x="1240.3" y="1581.3" width="143" height="3.2" fill="#858585"/>
<circle cx="1311.8" cy="1582.9" r="5.8" fill="#1a0505"/><circle cx="1311.8" cy="1582.9" r="1.3" fill="#c33"/>
<path d="M1244.6 1749.2A70 70 0 0 1 1384.6 1749.2Z" fill="#B9E4FA"/>
<path d="M1244.6 1749.2A70 70 0 0 0 1384.6 1749.2Z" fill="#FBA9A7"/>
<circle cx="1314.6" cy="1749.2" r="5.8" fill="#1a0505"/>
<use href="#ba" transform="translate(1372.6,1764.7) rotate(-75) scale(0.97)" fill="#0a0a0a"/><use href="#ba" transform="translate(1357,1791.6) rotate(-45) scale(0.97)" fill="#0a0a0a"/><use href="#ba" transform="translate(1330.1,1807.2) rotate(-15) scale(0.97)" fill="#0a0a0a"/><use href="#ba" transform="translate(1299.1,1807.2) rotate(15) scale(0.97)" fill="#0a0a0a"/><use href="#ba" transform="translate(1272.2,1791.6) rotate(45) scale(0.97)" fill="#0a0a0a"/><use href="#ba" transform="translate(1256.6,1764.7) rotate(75) scale(0.97)" fill="#0a0a0a"/><use href="#ba" transform="translate(1256.6,1733.7) rotate(105) scale(0.97)" fill="#0a0a0a"/><use href="#ba" transform="translate(1272.2,1706.8) rotate(135) scale(0.97)" fill="#0a0a0a"/><use href="#ba" transform="translate(1299.1,1691.2) rotate(165) scale(0.97)" fill="#0a0a0a"/><use href="#ba" transform="translate(1330.1,1691.2) rotate(-165) scale(0.97)" fill="#0a0a0a"/><use href="#ba" transform="translate(1357,1706.8) rotate(-135) scale(0.97)" fill="#0a0a0a"/><use href="#ba" transform="translate(1372.6,1733.7) rotate(-105) scale(0.97)" fill="#0a0a0a"/><use href="#ba" transform="translate(1350.6,1764.1) rotate(-67.5) scale(0.97)" fill="#0a0a0a"/><use href="#ba" transform="translate(1329.5,1785.2) rotate(-22.5) scale(0.97)" fill="#0a0a0a"/><use href="#ba" transform="translate(1299.7,1785.2) rotate(22.5) scale(0.97)" fill="#0a0a0a"/><use href="#ba" transform="translate(1278.6,1764.1) rotate(67.5) scale(0.97)" fill="#0a0a0a"/><use href="#ba" transform="translate(1278.6,1734.3) rotate(112.5) scale(0.97)" fill="#0a0a0a"/><use href="#ba" transform="translate(1299.7,1713.2) rotate(157.5) scale(0.97)" fill="#0a0a0a"/><use href="#ba" transform="translate(1329.5,1713.2) rotate(-157.5) scale(0.97)" fill="#0a0a0a"/><use href="#ba" transform="translate(1350.6,1734.3) rotate(-112.5) scale(0.97)" fill="#0a0a0a"/><use href="#ba" transform="translate(1329.4,1764) rotate(-45) scale(0.97)" fill="#0a0a0a"/><use href="#ba" transform="translate(1299.8,1764) rotate(45) scale(0.97)" fill="#0a0a0a"/><use href="#ba" transform="translate(1299.8,1734.4) rotate(135) scale(0.97)" fill="#0a0a0a"/><use href="#ba" transform="translate(1329.4,1734.4) rotate(-135) scale(0.97)" fill="#0a0a0a"/>
<rect x="1253.6" y="1747.6" width="141.4" height="3.2" fill="#858585"/>
<circle cx="1314.6" cy="1749.2" r="5.8" fill="#1a0505"/><circle cx="1314.6" cy="1749.2" r="1.3" fill="#c33"/>
<circle cx="2025.6" cy="1088.7" r="71" fill="#B9E4FA"/>
<path d="M2025.6 1088.7L1975.4 1038.5A71 71 0 0 0 1975.4 1138.9ZM2025.6 1088.7L2075.8 1038.5A71 71 0 0 1 2075.8 1138.9Z" fill="#FBA9A7"/>
<use href="#ba" transform="translate(2083.6,1088.7) rotate(90) scale(0.97)" fill="#560808"/><use href="#ba" transform="translate(2075.8,1117.7) rotate(120) scale(0.97)" fill="#560808"/><use href="#ba" transform="translate(2054.6,1138.9) rotate(150) scale(0.97)" fill="#2F6785"/><use href="#ba" transform="translate(2025.6,1146.7) rotate(180) scale(0.97)" fill="#2F6785"/><use href="#ba" transform="translate(1996.6,1138.9) rotate(-150) scale(0.97)" fill="#2F6785"/><use href="#ba" transform="translate(1975.4,1117.7) rotate(-120) scale(0.97)" fill="#560808"/><use href="#ba" transform="translate(1967.6,1088.7) rotate(-90) scale(0.97)" fill="#560808"/><use href="#ba" transform="translate(1975.4,1059.7) rotate(-60) scale(0.97)" fill="#560808"/><use href="#ba" transform="translate(1996.6,1038.5) rotate(-30) scale(0.97)" fill="#2F6785"/><use href="#ba" transform="translate(2025.6,1030.7) rotate(-0) scale(0.97)" fill="#2F6785"/><use href="#ba" transform="translate(2054.6,1038.5) rotate(30) scale(0.97)" fill="#2F6785"/><use href="#ba" transform="translate(2075.8,1059.7) rotate(60) scale(0.97)" fill="#560808"/><use href="#ba" transform="translate(2061.6,1103.6) rotate(112.5) scale(0.97)" fill="#560808"/><use href="#ba" transform="translate(2040.5,1124.7) rotate(157.5) scale(0.97)" fill="#2F6785"/><use href="#ba" transform="translate(2010.7,1124.7) rotate(-157.5) scale(0.97)" fill="#2F6785"/><use href="#ba" transform="translate(1989.6,1103.6) rotate(-112.5) scale(0.97)" fill="#560808"/><use href="#ba" transform="translate(1989.6,1073.8) rotate(-67.5) scale(0.97)" fill="#560808"/><use href="#ba" transform="translate(2010.7,1052.7) rotate(-22.5) scale(0.97)" fill="#2F6785"/><use href="#ba" transform="translate(2040.5,1052.7) rotate(22.5) scale(0.97)" fill="#2F6785"/><use href="#ba" transform="translate(2061.6,1073.8) rotate(67.5) scale(0.97)" fill="#560808"/><use href="#ba" transform="translate(2044.6,1088.7) rotate(90) scale(0.97)" fill="#560808"/><use href="#ba" transform="translate(2025.6,1107.7) rotate(180) scale(0.97)" fill="#2F6785"/><use href="#ba" transform="translate(2006.6,1088.7) rotate(-90) scale(0.97)" fill="#560808"/><use href="#ba" transform="translate(2025.6,1069.7) rotate(-0) scale(0.97)" fill="#2F6785"/>
<path d="M1974.3 1037.4L2076.9 1140M2076.9 1037.4L1974.3 1140" stroke="#858585" stroke-width="3.4" fill="none"/>
<circle cx="2026" cy="1258.5" r="71" fill="#B9E4FA"/>
<path d="M2026 1258.5L1975.8 1208.3A71 71 0 0 0 1975.8 1308.7ZM2026 1258.5L2076.2 1208.3A71 71 0 0 1 2076.2 1308.7Z" fill="#FBA9A7"/>
<use href="#ba" transform="translate(2084,1258.5) rotate(-45) scale(0.97)" fill="#560808"/><use href="#ba" transform="translate(2076.2,1287.5) rotate(-15) scale(0.97)" fill="#560808"/><use href="#ba" transform="translate(2055,1308.7) rotate(-75) scale(0.97)" fill="#2F6785"/><use href="#ba" transform="translate(2026,1316.5) rotate(-45) scale(0.97)" fill="#2F6785"/><use href="#ba" transform="translate(1997,1308.7) rotate(-15) scale(0.97)" fill="#2F6785"/><use href="#ba" transform="translate(1975.8,1287.5) rotate(105) scale(0.97)" fill="#560808"/><use href="#ba" transform="translate(1968,1258.5) rotate(135) scale(0.97)" fill="#560808"/><use href="#ba" transform="translate(1975.8,1229.5) rotate(165) scale(0.97)" fill="#560808"/><use href="#ba" transform="translate(1997,1208.3) rotate(105) scale(0.97)" fill="#2F6785"/><use href="#ba" transform="translate(2026,1200.5) rotate(135) scale(0.97)" fill="#2F6785"/><use href="#ba" transform="translate(2055,1208.3) rotate(165) scale(0.97)" fill="#2F6785"/><use href="#ba" transform="translate(2076.2,1229.5) rotate(-75) scale(0.97)" fill="#560808"/><use href="#ba" transform="translate(2062,1273.4) rotate(-22.5) scale(0.97)" fill="#560808"/><use href="#ba" transform="translate(2040.9,1294.5) rotate(-67.5) scale(0.97)" fill="#2F6785"/><use href="#ba" transform="translate(2011.1,1294.5) rotate(-22.5) scale(0.97)" fill="#2F6785"/><use href="#ba" transform="translate(1990,1273.4) rotate(112.5) scale(0.97)" fill="#560808"/><use href="#ba" transform="translate(1990,1243.6) rotate(157.5) scale(0.97)" fill="#560808"/><use href="#ba" transform="translate(2011.1,1222.5) rotate(112.5) scale(0.97)" fill="#2F6785"/><use href="#ba" transform="translate(2040.9,1222.5) rotate(157.5) scale(0.97)" fill="#2F6785"/><use href="#ba" transform="translate(2062,1243.6) rotate(-67.5) scale(0.97)" fill="#560808"/><use href="#ba" transform="translate(2045,1258.5) rotate(-45) scale(0.97)" fill="#560808"/><use href="#ba" transform="translate(2026,1277.5) rotate(-45) scale(0.97)" fill="#2F6785"/><use href="#ba" transform="translate(2007,1258.5) rotate(135) scale(0.97)" fill="#560808"/><use href="#ba" transform="translate(2026,1239.5) rotate(135) scale(0.97)" fill="#2F6785"/>
<path d="M1974.7 1207.2L2077.3 1309.8M2077.3 1207.2L1974.7 1309.8" stroke="#858585" stroke-width="3.4" fill="none"/>
<circle cx="2026" cy="1434.8" r="71" fill="#B9E4FA"/>
<path d="M2026 1434.8L1975.8 1384.6A71 71 0 0 0 1975.8 1485ZM2026 1434.8L2076.2 1384.6A71 71 0 0 1 2076.2 1485Z" fill="#FBA9A7"/>
<use href="#ba" transform="translate(2084,1434.8) rotate(0) scale(0.97)" fill="#560808"/><use href="#ba" transform="translate(2076.2,1463.8) rotate(30) scale(0.97)" fill="#560808"/><use href="#ba" transform="translate(2055,1485) rotate(-120) scale(0.97)" fill="#2F6785"/><use href="#ba" transform="translate(2026,1492.8) rotate(-90) scale(0.97)" fill="#2F6785"/><use href="#ba" transform="translate(1997,1485) rotate(-60) scale(0.97)" fill="#2F6785"/><use href="#ba" transform="translate(1975.8,1463.8) rotate(150) scale(0.97)" fill="#560808"/><use href="#ba" transform="translate(1968,1434.8) rotate(180) scale(0.97)" fill="#560808"/><use href="#ba" transform="translate(1975.8,1405.8) rotate(-150) scale(0.97)" fill="#560808"/><use href="#ba" transform="translate(1997,1384.6) rotate(60) scale(0.97)" fill="#2F6785"/><use href="#ba" transform="translate(2026,1376.8) rotate(90) scale(0.97)" fill="#2F6785"/><use href="#ba" transform="translate(2055,1384.6) rotate(120) scale(0.97)" fill="#2F6785"/><use href="#ba" transform="translate(2076.2,1405.8) rotate(-30) scale(0.97)" fill="#560808"/><use href="#ba" transform="translate(2062,1449.7) rotate(22.5) scale(0.97)" fill="#560808"/><use href="#ba" transform="translate(2040.9,1470.8) rotate(-112.5) scale(0.97)" fill="#2F6785"/><use href="#ba" transform="translate(2011.1,1470.8) rotate(-67.5) scale(0.97)" fill="#2F6785"/><use href="#ba" transform="translate(1990,1449.7) rotate(157.5) scale(0.97)" fill="#560808"/><use href="#ba" transform="translate(1990,1419.9) rotate(-157.5) scale(0.97)" fill="#560808"/><use href="#ba" transform="translate(2011.1,1398.8) rotate(67.5) scale(0.97)" fill="#2F6785"/><use href="#ba" transform="translate(2040.9,1398.8) rotate(112.5) scale(0.97)" fill="#2F6785"/><use href="#ba" transform="translate(2062,1419.9) rotate(-22.5) scale(0.97)" fill="#560808"/><use href="#ba" transform="translate(2045,1434.8) rotate(0) scale(0.97)" fill="#560808"/><use href="#ba" transform="translate(2026,1453.8) rotate(-90) scale(0.97)" fill="#2F6785"/><use href="#ba" transform="translate(2007,1434.8) rotate(180) scale(0.97)" fill="#560808"/><use href="#ba" transform="translate(2026,1415.8) rotate(90) scale(0.97)" fill="#2F6785"/>
<path d="M1974.7 1383.5L2077.3 1486.1M2077.3 1383.5L1974.7 1486.1" stroke="#858585" stroke-width="3.4" fill="none"/>
<circle cx="2026" cy="1598.2" r="71" fill="#B9E4FA"/>
<path d="M2026 1598.2L1975.8 1548A71 71 0 0 0 1975.8 1648.4ZM2026 1598.2L2076.2 1548A71 71 0 0 1 2076.2 1648.4Z" fill="#FBA9A7"/>
<use href="#ba" transform="translate(2084,1598.2) rotate(45) scale(0.97)" fill="#560808"/><use href="#ba" transform="translate(2076.2,1627.2) rotate(75) scale(0.97)" fill="#560808"/><use href="#ba" transform="translate(2055,1648.4) rotate(-165) scale(0.97)" fill="#2F6785"/><use href="#ba" transform="translate(2026,1656.2) rotate(-135) scale(0.97)" fill="#2F6785"/><use href="#ba" transform="translate(1997,1648.4) rotate(-105) scale(0.97)" fill="#2F6785"/><use href="#ba" transform="translate(1975.8,1627.2) rotate(-165) scale(0.97)" fill="#560808"/><use href="#ba" transform="translate(1968,1598.2) rotate(-135) scale(0.97)" fill="#560808"/><use href="#ba" transform="translate(1975.8,1569.2) rotate(-105) scale(0.97)" fill="#560808"/><use href="#ba" transform="translate(1997,1548) rotate(15) scale(0.97)" fill="#2F6785"/><use href="#ba" transform="translate(2026,1540.2) rotate(45) scale(0.97)" fill="#2F6785"/><use href="#ba" transform="translate(2055,1548) rotate(75) scale(0.97)" fill="#2F6785"/><use href="#ba" transform="translate(2076.2,1569.2) rotate(15) scale(0.97)" fill="#560808"/><use href="#ba" transform="translate(2062,1613.1) rotate(67.5) scale(0.97)" fill="#560808"/><use href="#ba" transform="translate(2040.9,1634.2) rotate(-157.5) scale(0.97)" fill="#2F6785"/><use href="#ba" transform="translate(2011.1,1634.2) rotate(-112.5) scale(0.97)" fill="#2F6785"/><use href="#ba" transform="translate(1990,1613.1) rotate(-157.5) scale(0.97)" fill="#560808"/><use href="#ba" transform="translate(1990,1583.3) rotate(-112.5) scale(0.97)" fill="#560808"/><use href="#ba" transform="translate(2011.1,1562.2) rotate(22.5) scale(0.97)" fill="#2F6785"/><use href="#ba" transform="translate(2040.9,1562.2) rotate(67.5) scale(0.97)" fill="#2F6785"/><use href="#ba" transform="translate(2062,1583.3) rotate(22.5) scale(0.97)" fill="#560808"/><use href="#ba" transform="translate(2045,1598.2) rotate(45) scale(0.97)" fill="#560808"/><use href="#ba" transform="translate(2026,1617.2) rotate(-135) scale(0.97)" fill="#2F6785"/><use href="#ba" transform="translate(2007,1598.2) rotate(-135) scale(0.97)" fill="#560808"/><use href="#ba" transform="translate(2026,1579.2) rotate(45) scale(0.97)" fill="#2F6785"/>
<path d="M1974.7 1546.9L2077.3 1649.5M2077.3 1546.9L1974.7 1649.5" stroke="#858585" stroke-width="3.4" fill="none"/>
<circle cx="2026" cy="1764.1" r="71" fill="#B9E4FA"/>
<path d="M2026 1764.1L1975.8 1713.9A71 71 0 0 0 1975.8 1814.3ZM2026 1764.1L2076.2 1713.9A71 71 0 0 1 2076.2 1814.3Z" fill="#FBA9A7"/>
<use href="#ba" transform="translate(2084,1764.1) rotate(-90) scale(0.97)" fill="#560808"/><use href="#ba" transform="translate(2076.2,1793.1) rotate(-60) scale(0.97)" fill="#560808"/><use href="#ba" transform="translate(2055,1814.3) rotate(-30) scale(0.97)" fill="#2F6785"/><use href="#ba" transform="translate(2026,1822.1) rotate(-0) scale(0.97)" fill="#2F6785"/><use href="#ba" transform="translate(1997,1814.3) rotate(30) scale(0.97)" fill="#2F6785"/><use href="#ba" transform="translate(1975.8,1793.1) rotate(60) scale(0.97)" fill="#560808"/><use href="#ba" transform="translate(1968,1764.1) rotate(90) scale(0.97)" fill="#560808"/><use href="#ba" transform="translate(1975.8,1735.1) rotate(120) scale(0.97)" fill="#560808"/><use href="#ba" transform="translate(1997,1713.9) rotate(150) scale(0.97)" fill="#2F6785"/><use href="#ba" transform="translate(2026,1706.1) rotate(180) scale(0.97)" fill="#2F6785"/><use href="#ba" transform="translate(2055,1713.9) rotate(-150) scale(0.97)" fill="#2F6785"/><use href="#ba" transform="translate(2076.2,1735.1) rotate(-120) scale(0.97)" fill="#560808"/><use href="#ba" transform="translate(2062,1779) rotate(-67.5) scale(0.97)" fill="#560808"/><use href="#ba" transform="translate(2040.9,1800.1) rotate(-22.5) scale(0.97)" fill="#2F6785"/><use href="#ba" transform="translate(2011.1,1800.1) rotate(22.5) scale(0.97)" fill="#2F6785"/><use href="#ba" transform="translate(1990,1779) rotate(67.5) scale(0.97)" fill="#560808"/><use href="#ba" transform="translate(1990,1749.2) rotate(112.5) scale(0.97)" fill="#560808"/><use href="#ba" transform="translate(2011.1,1728.1) rotate(157.5) scale(0.97)" fill="#2F6785"/><use href="#ba" transform="translate(2040.9,1728.1) rotate(-157.5) scale(0.97)" fill="#2F6785"/><use href="#ba" transform="translate(2062,1749.2) rotate(-112.5) scale(0.97)" fill="#560808"/><use href="#ba" transform="translate(2045,1764.1) rotate(-90) scale(0.97)" fill="#560808"/><use href="#ba" transform="translate(2026,1783.1) rotate(-0) scale(0.97)" fill="#2F6785"/><use href="#ba" transform="translate(2007,1764.1) rotate(90) scale(0.97)" fill="#560808"/><use href="#ba" transform="translate(2026,1745.1) rotate(180) scale(0.97)" fill="#2F6785"/>
<path d="M1974.7 1712.8L2077.3 1815.4M2077.3 1712.8L1974.7 1815.4" stroke="#858585" stroke-width="3.4" fill="none"/>
<g transform="translate(8.5,1848) rotate(-90)" fill="#6A35A8"><rect x="-1.7" y="-1.7" width="53" height="3.4"/><path d="M49 -8L71 0L49 8Z"/></g>
<g transform="translate(8.5,1848) rotate(0)" fill="#6A35A8"><rect x="-1.7" y="-1.7" width="55.5" height="3.4"/><path d="M51.5 -8L73.5 0L51.5 8Z"/></g>
<g transform="translate(8.5,1848) rotate(-49.1)" fill="#6A35A8"><rect x="-1.7" y="-1.7" width="55.4" height="3.4"/><path d="M51.4 -8L73.4 0L51.4 8Z"/></g>
<text x="14" y="1782" font-size="40" fill="#6A35A8" font-weight="normal" text-anchor="start" >x</text>
<text x="56" y="1823" font-size="40" fill="#6A35A8" font-weight="normal" text-anchor="start" >z</text>
<text x="80" y="1846" font-size="40" fill="#6A35A8" font-weight="normal" text-anchor="start" >y</text>
<g transform="translate(536,1848) rotate(-90)" fill="#6A35A8"><rect x="-1.7" y="-1.7" width="52" height="3.4"/><path d="M48 -8L70 0L48 8Z"/></g>
<g transform="translate(536,1848) rotate(0)" fill="#6A35A8"><rect x="-1.7" y="-1.7" width="59" height="3.4"/><path d="M55 -8L77 0L55 8Z"/></g>
<text x="527" y="1770" font-size="40" fill="#6A35A8" font-weight="normal" text-anchor="start" >z</text>
<text x="607" y="1847" font-size="40" fill="#6A35A8" font-weight="normal" text-anchor="start" >y</text></svg></body></html>
